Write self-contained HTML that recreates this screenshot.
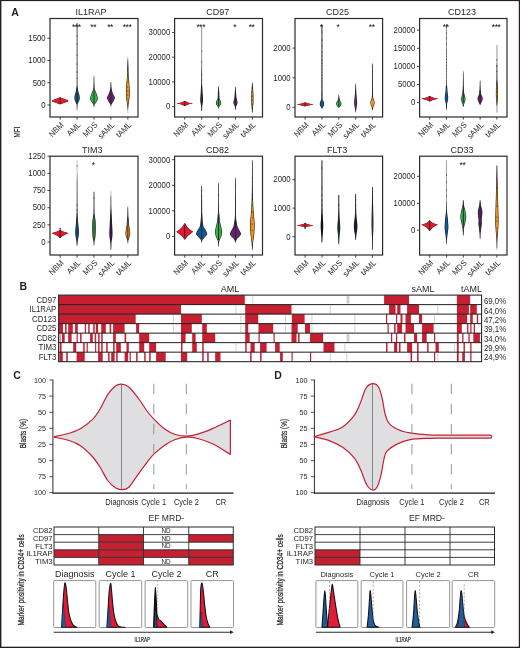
<!DOCTYPE html>
<html><head><meta charset="utf-8"><style>
html,body{margin:0;padding:0;background:#fff;}
svg{display:block;will-change:transform;}
text{font-family:"Liberation Sans", sans-serif;}
</style></head><body>
<svg width="520" height="648" viewBox="0 0 520 648">
<rect width="520" height="648" fill="#fff"/>
<text x="0" y="0" font-size="9.900" text-anchor="middle" font-weight="normal" fill="#231f20" transform="translate(90.90 14.70) scale(0.9091 1)" >IL1RAP</text>
<line x1="47.40" y1="105.00" x2="50.00" y2="105.00" stroke="#333" stroke-width="0.9"/>
<text x="0" y="0" font-size="8.424" text-anchor="end" font-weight="normal" fill="#231f20" transform="translate(45.70 107.80) scale(0.9259 1)" >0</text>
<line x1="47.40" y1="82.73" x2="50.00" y2="82.73" stroke="#333" stroke-width="0.9"/>
<text x="0" y="0" font-size="8.424" text-anchor="end" font-weight="normal" fill="#231f20" transform="translate(45.70 85.53) scale(0.9259 1)" >500</text>
<line x1="47.40" y1="60.47" x2="50.00" y2="60.47" stroke="#333" stroke-width="0.9"/>
<text x="0" y="0" font-size="8.424" text-anchor="end" font-weight="normal" fill="#231f20" transform="translate(45.70 63.27) scale(0.9259 1)" >1000</text>
<line x1="47.40" y1="38.20" x2="50.00" y2="38.20" stroke="#333" stroke-width="0.9"/>
<text x="0" y="0" font-size="8.424" text-anchor="end" font-weight="normal" fill="#231f20" transform="translate(45.70 41.00) scale(0.9259 1)" >1500</text>
<line x1="60.15" y1="117.00" x2="60.15" y2="119.60" stroke="#333" stroke-width="0.9"/>
<text x="0" y="0" font-size="8.208" text-anchor="end" fill="#231f20" transform="translate(64.15 125.50) rotate(-45) scale(0.9259 1)">NBM</text>
<line x1="77.08" y1="117.00" x2="77.08" y2="119.60" stroke="#333" stroke-width="0.9"/>
<text x="0" y="0" font-size="8.208" text-anchor="end" fill="#231f20" transform="translate(81.08 125.50) rotate(-45) scale(0.9259 1)">AML</text>
<line x1="94.00" y1="117.00" x2="94.00" y2="119.60" stroke="#333" stroke-width="0.9"/>
<text x="0" y="0" font-size="8.208" text-anchor="end" fill="#231f20" transform="translate(98.00 125.50) rotate(-45) scale(0.9259 1)">MDS</text>
<line x1="110.92" y1="117.00" x2="110.92" y2="119.60" stroke="#333" stroke-width="0.9"/>
<text x="0" y="0" font-size="8.208" text-anchor="end" fill="#231f20" transform="translate(114.92 125.50) rotate(-45) scale(0.9259 1)">sAML</text>
<line x1="127.85" y1="117.00" x2="127.85" y2="119.60" stroke="#333" stroke-width="0.9"/>
<text x="0" y="0" font-size="8.208" text-anchor="end" fill="#231f20" transform="translate(131.85 125.50) rotate(-45) scale(0.9259 1)">tAML</text>
<line x1="60.15" y1="97.40" x2="60.15" y2="104.20" stroke="#b4b4b4" stroke-width="0.8"/>
<path d="M60.20,97.40 L60.45,97.40 L68.05,100.30 L68.55,100.90 L68.05,101.50 L60.45,104.20 L60.20,104.20 L60.10,104.20 L59.85,104.20 L52.25,101.50 L51.75,100.90 L52.25,100.30 L59.85,97.40 L60.10,97.40Z" fill="#1c1c1c"/>
<path d="M60.20,97.40 L67.50,100.30 L68.00,100.90 L67.50,101.50 L60.20,104.20 L60.10,104.20 L52.80,101.50 L52.30,100.90 L52.80,100.30 L60.10,97.40Z" fill="#e5192d"/>
<line x1="60.15" y1="97.40" x2="60.15" y2="104.20" stroke="#262626" stroke-width="0.95"/>
<line x1="77.08" y1="23.00" x2="77.08" y2="110.80" stroke="#b4b4b4" stroke-width="0.8"/>
<path d="M77.13,23.00 L77.38,23.00 L77.38,29.80 L77.37,39.70 L77.37,51.19 L77.37,62.74 L77.37,72.85 L77.38,80.00 L77.38,83.85 L77.39,85.56 L77.40,85.81 L77.42,85.33 L77.44,84.83 L77.48,85.00 L77.52,85.74 L77.58,86.44 L77.65,87.12 L77.72,87.78 L77.80,88.40 L77.88,89.00 L77.96,89.56 L78.05,90.07 L78.15,90.56 L78.25,91.04 L78.36,91.51 L78.48,92.00 L78.62,92.51 L78.78,93.02 L78.94,93.53 L79.11,94.04 L79.26,94.53 L79.38,95.00 L79.47,95.45 L79.56,95.87 L79.62,96.28 L79.68,96.69 L79.71,97.09 L79.73,97.50 L79.73,97.92 L79.71,98.35 L79.68,98.78 L79.63,99.20 L79.56,99.61 L79.48,100.00 L79.36,100.36 L79.23,100.70 L79.07,101.03 L78.90,101.35 L78.73,101.67 L78.58,102.00 L78.42,102.33 L78.25,102.67 L78.09,103.00 L77.93,103.33 L77.79,103.67 L77.68,104.00 L77.59,104.30 L77.53,104.56 L77.48,104.83 L77.44,105.13 L77.41,105.50 L77.38,106.00 L77.35,106.69 L77.33,107.57 L77.31,108.53 L77.13,109.45 L77.03,109.45 L76.85,108.53 L76.83,107.57 L76.81,106.69 L76.78,106.00 L76.75,105.50 L76.71,105.13 L76.68,104.83 L76.63,104.56 L76.56,104.30 L76.48,104.00 L76.36,103.67 L76.22,103.33 L76.06,103.00 L75.90,102.67 L75.73,102.33 L75.58,102.00 L75.42,101.67 L75.25,101.35 L75.09,101.03 L74.93,100.70 L74.79,100.36 L74.68,100.00 L74.59,99.61 L74.52,99.20 L74.47,98.78 L74.44,98.35 L74.43,97.92 L74.43,97.50 L74.44,97.09 L74.48,96.69 L74.53,96.28 L74.60,95.87 L74.68,95.45 L74.78,95.00 L74.90,94.53 L75.05,94.04 L75.21,93.53 L75.38,93.02 L75.54,92.51 L75.68,92.00 L75.80,91.51 L75.91,91.04 L76.01,90.56 L76.10,90.07 L76.19,89.56 L76.28,89.00 L76.36,88.40 L76.44,87.78 L76.51,87.12 L76.57,86.44 L76.63,85.74 L76.68,85.00 L76.71,84.83 L76.74,85.33 L76.75,85.81 L76.76,85.56 L76.77,83.85 L76.78,80.00 L76.78,72.85 L76.78,62.74 L76.78,51.19 L76.78,39.70 L76.78,29.80 L76.78,23.00 L77.03,23.00Z" fill="#1c1c1c"/>
<path d="M77.13,87.78 L77.25,88.40 L77.33,89.00 L77.41,89.56 L77.50,90.07 L77.60,90.56 L77.70,91.04 L77.81,91.51 L77.93,92.00 L78.07,92.51 L78.23,93.02 L78.39,93.53 L78.56,94.04 L78.71,94.53 L78.83,95.00 L78.92,95.45 L79.01,95.87 L79.07,96.28 L79.13,96.69 L79.16,97.09 L79.18,97.50 L79.18,97.92 L79.16,98.35 L79.13,98.78 L79.08,99.20 L79.01,99.61 L78.93,100.00 L78.81,100.36 L78.68,100.70 L78.52,101.03 L78.35,101.35 L78.18,101.67 L78.03,102.00 L77.87,102.33 L77.70,102.67 L77.54,103.00 L77.38,103.33 L77.24,103.67 L77.13,104.00 L77.03,104.00 L76.91,103.67 L76.77,103.33 L76.61,103.00 L76.45,102.67 L76.28,102.33 L76.13,102.00 L75.97,101.67 L75.80,101.35 L75.64,101.03 L75.48,100.70 L75.34,100.36 L75.23,100.00 L75.14,99.61 L75.07,99.20 L75.02,98.78 L74.99,98.35 L74.98,97.92 L74.98,97.50 L74.99,97.09 L75.03,96.69 L75.08,96.28 L75.15,95.87 L75.23,95.45 L75.33,95.00 L75.45,94.53 L75.60,94.04 L75.76,93.53 L75.93,93.02 L76.09,92.51 L76.23,92.00 L76.35,91.51 L76.46,91.04 L76.56,90.56 L76.65,90.07 L76.74,89.56 L76.83,89.00 L76.91,88.40 L77.03,87.78Z" fill="#0e5896"/>
<line x1="77.08" y1="88.00" x2="77.08" y2="104.00" stroke="#262626" stroke-width="0.95"/>
<circle cx="77.08" cy="26.00" r="0.55" fill="#222"/>
<circle cx="77.08" cy="36.00" r="0.55" fill="#222"/>
<circle cx="77.08" cy="44.00" r="0.55" fill="#222"/>
<circle cx="77.08" cy="55.00" r="0.55" fill="#222"/>
<circle cx="77.08" cy="64.00" r="0.55" fill="#222"/>
<circle cx="77.08" cy="72.00" r="0.55" fill="#222"/>
<circle cx="77.08" cy="78.00" r="0.55" fill="#222"/>
<line x1="94.00" y1="75.20" x2="94.00" y2="107.70" stroke="#b4b4b4" stroke-width="0.8"/>
<path d="M94.05,76.33 L94.24,77.96 L94.28,79.85 L94.31,81.80 L94.35,83.59 L94.40,85.00 L94.45,86.02 L94.50,86.82 L94.56,87.46 L94.63,87.99 L94.71,88.49 L94.80,89.00 L94.91,89.50 L95.03,89.94 L95.16,90.34 L95.30,90.72 L95.44,91.10 L95.60,91.50 L95.77,91.91 L95.95,92.31 L96.14,92.72 L96.34,93.13 L96.52,93.55 L96.70,94.00 L96.87,94.48 L97.04,95.00 L97.21,95.53 L97.36,96.06 L97.49,96.55 L97.60,97.00 L97.68,97.39 L97.75,97.74 L97.80,98.06 L97.83,98.37 L97.83,98.68 L97.80,99.00 L97.74,99.33 L97.66,99.67 L97.54,100.00 L97.41,100.33 L97.26,100.67 L97.10,101.00 L96.92,101.34 L96.71,101.69 L96.48,102.03 L96.25,102.37 L96.02,102.70 L95.80,103.00 L95.59,103.26 L95.37,103.47 L95.15,103.67 L94.94,103.89 L94.76,104.16 L94.60,104.50 L94.47,104.97 L94.36,105.56 L94.28,106.19 L94.05,106.81 L93.95,106.81 L93.72,106.19 L93.64,105.56 L93.53,104.97 L93.40,104.50 L93.24,104.16 L93.06,103.89 L92.85,103.67 L92.63,103.47 L92.41,103.26 L92.20,103.00 L91.98,102.70 L91.75,102.37 L91.52,102.03 L91.29,101.69 L91.08,101.34 L90.90,101.00 L90.74,100.67 L90.59,100.33 L90.46,100.00 L90.34,99.67 L90.26,99.33 L90.20,99.00 L90.17,98.68 L90.17,98.37 L90.20,98.06 L90.25,97.74 L90.32,97.39 L90.40,97.00 L90.51,96.55 L90.64,96.06 L90.79,95.53 L90.96,95.00 L91.13,94.48 L91.30,94.00 L91.48,93.55 L91.66,93.13 L91.86,92.72 L92.05,92.31 L92.23,91.91 L92.40,91.50 L92.56,91.10 L92.70,90.72 L92.84,90.34 L92.97,89.94 L93.09,89.50 L93.20,89.00 L93.29,88.49 L93.37,87.99 L93.44,87.46 L93.50,86.82 L93.55,86.02 L93.60,85.00 L93.65,83.59 L93.69,81.80 L93.72,79.85 L93.76,77.96 L93.95,76.33Z" fill="#1c1c1c"/>
<path d="M94.05,87.99 L94.16,88.49 L94.25,89.00 L94.36,89.50 L94.48,89.94 L94.61,90.34 L94.75,90.72 L94.89,91.10 L95.05,91.50 L95.22,91.91 L95.40,92.31 L95.59,92.72 L95.79,93.13 L95.97,93.55 L96.15,94.00 L96.32,94.48 L96.49,95.00 L96.66,95.53 L96.81,96.06 L96.94,96.55 L97.05,97.00 L97.13,97.39 L97.20,97.74 L97.25,98.06 L97.28,98.37 L97.28,98.68 L97.25,99.00 L97.19,99.33 L97.11,99.67 L96.99,100.00 L96.86,100.33 L96.71,100.67 L96.55,101.00 L96.37,101.34 L96.16,101.69 L95.93,102.03 L95.70,102.37 L95.47,102.70 L95.25,103.00 L95.04,103.26 L94.82,103.47 L94.60,103.67 L94.39,103.89 L94.21,104.16 L94.05,104.50 L93.95,104.50 L93.79,104.16 L93.61,103.89 L93.40,103.67 L93.18,103.47 L92.96,103.26 L92.75,103.00 L92.53,102.70 L92.30,102.37 L92.07,102.03 L91.84,101.69 L91.63,101.34 L91.45,101.00 L91.29,100.67 L91.14,100.33 L91.01,100.00 L90.89,99.67 L90.81,99.33 L90.75,99.00 L90.72,98.68 L90.72,98.37 L90.75,98.06 L90.80,97.74 L90.87,97.39 L90.95,97.00 L91.06,96.55 L91.19,96.06 L91.34,95.53 L91.51,95.00 L91.68,94.48 L91.85,94.00 L92.03,93.55 L92.21,93.13 L92.41,92.72 L92.60,92.31 L92.78,91.91 L92.95,91.50 L93.11,91.10 L93.25,90.72 L93.39,90.34 L93.52,89.94 L93.64,89.50 L93.75,89.00 L93.84,88.49 L93.95,87.99Z" fill="#33b347"/>
<line x1="94.00" y1="90.00" x2="94.00" y2="104.00" stroke="#262626" stroke-width="0.95"/>
<line x1="110.92" y1="82.00" x2="110.92" y2="107.70" stroke="#b4b4b4" stroke-width="0.8"/>
<path d="M110.97,82.00 L111.15,82.57 L111.20,83.37 L111.25,84.31 L111.30,85.30 L111.36,86.22 L111.42,87.00 L111.48,87.62 L111.53,88.15 L111.59,88.62 L111.65,89.07 L111.73,89.52 L111.82,90.00 L111.94,90.51 L112.07,91.02 L112.22,91.53 L112.38,92.04 L112.55,92.53 L112.72,93.00 L112.91,93.45 L113.11,93.88 L113.32,94.30 L113.53,94.71 L113.74,95.11 L113.92,95.50 L114.11,95.88 L114.30,96.25 L114.49,96.61 L114.65,96.97 L114.77,97.33 L114.82,97.70 L114.81,98.08 L114.73,98.45 L114.62,98.83 L114.47,99.21 L114.30,99.60 L114.12,100.00 L113.93,100.41 L113.70,100.84 L113.46,101.27 L113.21,101.70 L112.96,102.11 L112.72,102.50 L112.49,102.85 L112.25,103.16 L112.01,103.46 L111.79,103.76 L111.59,104.10 L111.42,104.50 L111.30,105.00 L111.21,105.60 L110.97,106.22 L110.87,106.22 L110.64,105.60 L110.55,105.00 L110.42,104.50 L110.26,104.10 L110.06,103.76 L109.84,103.46 L109.60,103.16 L109.36,102.85 L109.12,102.50 L108.89,102.11 L108.64,101.70 L108.39,101.27 L108.14,100.84 L107.92,100.41 L107.72,100.00 L107.55,99.60 L107.38,99.21 L107.23,98.83 L107.11,98.45 L107.04,98.08 L107.02,97.70 L107.08,97.33 L107.19,96.97 L107.35,96.61 L107.54,96.25 L107.74,95.88 L107.92,95.50 L108.11,95.11 L108.31,94.71 L108.52,94.30 L108.73,93.88 L108.94,93.45 L109.12,93.00 L109.30,92.53 L109.46,92.04 L109.62,91.53 L109.77,91.02 L109.91,90.51 L110.02,90.00 L110.12,89.52 L110.20,89.07 L110.26,88.62 L110.32,88.15 L110.37,87.62 L110.42,87.00 L110.48,86.22 L110.54,85.30 L110.60,84.31 L110.65,83.37 L110.69,82.57 L110.87,82.00Z" fill="#1c1c1c"/>
<path d="M110.97,88.62 L111.10,89.07 L111.18,89.52 L111.27,90.00 L111.39,90.51 L111.52,91.02 L111.67,91.53 L111.83,92.04 L112.00,92.53 L112.17,93.00 L112.36,93.45 L112.56,93.88 L112.77,94.30 L112.98,94.71 L113.19,95.11 L113.37,95.50 L113.56,95.88 L113.75,96.25 L113.94,96.61 L114.10,96.97 L114.22,97.33 L114.27,97.70 L114.26,98.08 L114.18,98.45 L114.07,98.83 L113.92,99.21 L113.75,99.60 L113.57,100.00 L113.38,100.41 L113.15,100.84 L112.91,101.27 L112.66,101.70 L112.41,102.11 L112.17,102.50 L111.94,102.85 L111.70,103.16 L111.46,103.46 L111.24,103.76 L110.97,104.10 L110.87,104.10 L110.61,103.76 L110.39,103.46 L110.15,103.16 L109.91,102.85 L109.67,102.50 L109.44,102.11 L109.19,101.70 L108.94,101.27 L108.69,100.84 L108.47,100.41 L108.27,100.00 L108.10,99.60 L107.93,99.21 L107.78,98.83 L107.66,98.45 L107.59,98.08 L107.57,97.70 L107.63,97.33 L107.74,96.97 L107.90,96.61 L108.09,96.25 L108.29,95.88 L108.47,95.50 L108.66,95.11 L108.86,94.71 L109.07,94.30 L109.28,93.88 L109.49,93.45 L109.67,93.00 L109.85,92.53 L110.01,92.04 L110.17,91.53 L110.32,91.02 L110.46,90.51 L110.57,90.00 L110.67,89.52 L110.75,89.07 L110.87,88.62Z" fill="#652270"/>
<line x1="110.92" y1="90.00" x2="110.92" y2="104.00" stroke="#262626" stroke-width="0.95"/>
<line x1="127.85" y1="56.80" x2="127.85" y2="113.00" stroke="#b4b4b4" stroke-width="0.8"/>
<path d="M127.90,59.05 L128.13,60.59 L128.21,62.29 L128.28,64.02 L128.35,65.70 L128.40,67.42 L128.45,69.27 L128.49,71.18 L128.54,73.03 L128.59,74.73 L128.65,76.20 L128.72,77.39 L128.80,78.36 L128.89,79.18 L128.98,79.93 L129.07,80.68 L129.15,81.50 L129.22,82.37 L129.29,83.24 L129.36,84.10 L129.43,84.96 L129.49,85.83 L129.55,86.70 L129.60,87.58 L129.64,88.46 L129.68,89.35 L129.72,90.24 L129.74,91.12 L129.75,92.00 L129.74,92.87 L129.73,93.74 L129.70,94.60 L129.66,95.46 L129.61,96.33 L129.55,97.20 L129.46,98.09 L129.35,99.00 L129.22,99.91 L129.09,100.81 L128.96,101.68 L128.85,102.50 L128.74,103.24 L128.63,103.90 L128.52,104.54 L128.42,105.19 L128.33,105.89 L128.25,106.70 L128.18,107.70 L128.11,108.88 L127.90,110.11 L127.80,110.11 L127.58,108.88 L127.52,107.70 L127.45,106.70 L127.36,105.89 L127.27,105.19 L127.17,104.54 L127.06,103.90 L126.96,103.24 L126.85,102.50 L126.73,101.68 L126.60,100.81 L126.47,99.91 L126.35,99.00 L126.24,98.09 L126.15,97.20 L126.08,96.33 L126.03,95.46 L125.99,94.60 L125.96,93.74 L125.95,92.87 L125.95,92.00 L125.95,91.12 L125.98,90.24 L126.01,89.35 L126.05,88.46 L126.10,87.58 L126.15,86.70 L126.20,85.83 L126.26,84.96 L126.33,84.10 L126.40,83.24 L126.47,82.37 L126.55,81.50 L126.63,80.68 L126.71,79.93 L126.80,79.18 L126.89,78.36 L126.97,77.39 L127.05,76.20 L127.11,74.73 L127.16,73.03 L127.20,71.18 L127.25,69.27 L127.29,67.42 L127.35,65.70 L127.41,64.02 L127.49,62.29 L127.56,60.59 L127.80,59.05Z" fill="#1c1c1c"/>
<path d="M127.90,71.18 L127.99,73.03 L128.04,74.73 L128.10,76.20 L128.17,77.39 L128.25,78.36 L128.34,79.18 L128.43,79.93 L128.52,80.68 L128.60,81.50 L128.67,82.37 L128.74,83.24 L128.81,84.10 L128.88,84.96 L128.94,85.83 L129.00,86.70 L129.05,87.58 L129.09,88.46 L129.13,89.35 L129.17,90.24 L129.19,91.12 L129.20,92.00 L129.19,92.87 L129.18,93.74 L129.15,94.60 L129.11,95.46 L129.06,96.33 L129.00,97.20 L128.91,98.09 L128.80,99.00 L128.67,99.91 L128.54,100.81 L128.41,101.68 L128.30,102.50 L128.19,103.24 L128.08,103.90 L127.97,104.54 L127.90,105.19 L127.80,105.19 L127.72,104.54 L127.61,103.90 L127.51,103.24 L127.40,102.50 L127.28,101.68 L127.15,100.81 L127.02,99.91 L126.90,99.00 L126.79,98.09 L126.70,97.20 L126.63,96.33 L126.58,95.46 L126.54,94.60 L126.51,93.74 L126.50,92.87 L126.50,92.00 L126.50,91.12 L126.53,90.24 L126.56,89.35 L126.60,88.46 L126.65,87.58 L126.70,86.70 L126.75,85.83 L126.81,84.96 L126.88,84.10 L126.95,83.24 L127.02,82.37 L127.10,81.50 L127.18,80.68 L127.26,79.93 L127.35,79.18 L127.44,78.36 L127.52,77.39 L127.60,76.20 L127.66,74.73 L127.71,73.03 L127.80,71.18Z" fill="#f59114"/>
<circle cx="127.85" cy="68.00" r="0.55" fill="#222"/>
<circle cx="127.85" cy="75.00" r="0.55" fill="#222"/>
<circle cx="127.85" cy="82.00" r="0.55" fill="#222"/>
<circle cx="127.85" cy="87.00" r="0.55" fill="#222"/>
<circle cx="127.85" cy="91.00" r="0.55" fill="#222"/>
<circle cx="127.85" cy="95.00" r="0.55" fill="#222"/>
<circle cx="127.85" cy="99.00" r="0.55" fill="#222"/>
<text x="76.23" y="30.00" font-size="8.6" text-anchor="middle" font-weight="normal" fill="#111" letter-spacing="-0.5">***</text>
<text x="93.15" y="30.00" font-size="8.6" text-anchor="middle" font-weight="normal" fill="#111" letter-spacing="-0.5">**</text>
<text x="110.07" y="30.00" font-size="8.6" text-anchor="middle" font-weight="normal" fill="#111" letter-spacing="-0.5">**</text>
<text x="127.00" y="30.00" font-size="8.6" text-anchor="middle" font-weight="normal" fill="#111" letter-spacing="-0.5">***</text>
<rect x="50.00" y="18.50" width="88.00" height="98.50" fill="none" stroke="#2b2b2b" stroke-width="1.2"/>
<text x="0" y="0" font-size="9.900" text-anchor="middle" font-weight="normal" fill="#231f20" transform="translate(217.80 14.70) scale(0.9091 1)" >CD97</text>
<line x1="172.00" y1="106.50" x2="174.60" y2="106.50" stroke="#333" stroke-width="0.9"/>
<text x="0" y="0" font-size="8.424" text-anchor="end" font-weight="normal" fill="#231f20" transform="translate(170.30 109.30) scale(0.9259 1)" >0</text>
<line x1="172.00" y1="81.83" x2="174.60" y2="81.83" stroke="#333" stroke-width="0.9"/>
<text x="0" y="0" font-size="8.424" text-anchor="end" font-weight="normal" fill="#231f20" transform="translate(170.30 84.63) scale(0.9259 1)" >10000</text>
<line x1="172.00" y1="57.17" x2="174.60" y2="57.17" stroke="#333" stroke-width="0.9"/>
<text x="0" y="0" font-size="8.424" text-anchor="end" font-weight="normal" fill="#231f20" transform="translate(170.30 59.97) scale(0.9259 1)" >20000</text>
<line x1="172.00" y1="32.50" x2="174.60" y2="32.50" stroke="#333" stroke-width="0.9"/>
<text x="0" y="0" font-size="8.424" text-anchor="end" font-weight="normal" fill="#231f20" transform="translate(170.30 35.30) scale(0.9259 1)" >30000</text>
<line x1="184.74" y1="117.00" x2="184.74" y2="119.60" stroke="#333" stroke-width="0.9"/>
<text x="0" y="0" font-size="8.208" text-anchor="end" fill="#231f20" transform="translate(188.74 125.50) rotate(-45) scale(0.9259 1)">NBM</text>
<line x1="201.65" y1="117.00" x2="201.65" y2="119.60" stroke="#333" stroke-width="0.9"/>
<text x="0" y="0" font-size="8.208" text-anchor="end" fill="#231f20" transform="translate(205.65 125.50) rotate(-45) scale(0.9259 1)">AML</text>
<line x1="218.55" y1="117.00" x2="218.55" y2="119.60" stroke="#333" stroke-width="0.9"/>
<text x="0" y="0" font-size="8.208" text-anchor="end" fill="#231f20" transform="translate(222.55 125.50) rotate(-45) scale(0.9259 1)">MDS</text>
<line x1="235.45" y1="117.00" x2="235.45" y2="119.60" stroke="#333" stroke-width="0.9"/>
<text x="0" y="0" font-size="8.208" text-anchor="end" fill="#231f20" transform="translate(239.45 125.50) rotate(-45) scale(0.9259 1)">sAML</text>
<line x1="252.36" y1="117.00" x2="252.36" y2="119.60" stroke="#333" stroke-width="0.9"/>
<text x="0" y="0" font-size="8.208" text-anchor="end" fill="#231f20" transform="translate(256.36 125.50) rotate(-45) scale(0.9259 1)">tAML</text>
<line x1="184.74" y1="101.00" x2="184.74" y2="106.00" stroke="#b4b4b4" stroke-width="0.8"/>
<path d="M184.79,101.00 L185.04,101.00 L185.28,101.11 L185.60,101.26 L185.99,101.44 L186.41,101.64 L186.83,101.83 L187.24,102.00 L187.63,102.16 L188.03,102.32 L188.43,102.47 L188.85,102.63 L189.28,102.77 L189.74,102.90 L190.31,103.02 L190.99,103.12 L191.70,103.22 L192.32,103.31 L192.77,103.40 L192.94,103.50 L192.77,103.60 L192.32,103.69 L191.70,103.78 L190.99,103.88 L190.31,103.98 L189.74,104.10 L189.28,104.23 L188.85,104.37 L188.43,104.52 L188.03,104.68 L187.63,104.84 L187.24,105.00 L186.83,105.17 L186.41,105.36 L185.99,105.56 L185.60,105.74 L185.28,105.89 L185.04,106.00 L184.79,106.00 L184.69,106.00 L184.44,106.00 L184.21,105.89 L183.88,105.74 L183.50,105.56 L183.08,105.36 L182.65,105.17 L182.24,105.00 L181.85,104.84 L181.46,104.68 L181.05,104.52 L180.64,104.37 L180.20,104.23 L179.74,104.10 L179.18,103.98 L178.49,103.88 L177.79,103.78 L177.16,103.69 L176.71,103.60 L176.54,103.50 L176.71,103.40 L177.16,103.31 L177.79,103.22 L178.49,103.12 L179.18,103.02 L179.74,102.90 L180.20,102.77 L180.64,102.63 L181.05,102.47 L181.46,102.32 L181.85,102.16 L182.24,102.00 L182.65,101.83 L183.08,101.64 L183.50,101.44 L183.88,101.26 L184.21,101.11 L184.44,101.00 L184.69,101.00Z" fill="#1c1c1c"/>
<path d="M184.79,101.11 L185.05,101.26 L185.44,101.44 L185.86,101.64 L186.28,101.83 L186.69,102.00 L187.08,102.16 L187.48,102.32 L187.88,102.47 L188.30,102.63 L188.73,102.77 L189.19,102.90 L189.76,103.02 L190.44,103.12 L191.15,103.22 L191.77,103.31 L192.22,103.40 L192.39,103.50 L192.22,103.60 L191.77,103.69 L191.15,103.78 L190.44,103.88 L189.76,103.98 L189.19,104.10 L188.73,104.23 L188.30,104.37 L187.88,104.52 L187.48,104.68 L187.08,104.84 L186.69,105.00 L186.28,105.17 L185.86,105.36 L185.44,105.56 L185.05,105.74 L184.79,105.89 L184.69,105.89 L184.43,105.74 L184.05,105.56 L183.63,105.36 L183.20,105.17 L182.79,105.00 L182.40,104.84 L182.01,104.68 L181.60,104.52 L181.19,104.37 L180.75,104.23 L180.29,104.10 L179.73,103.98 L179.04,103.88 L178.34,103.78 L177.71,103.69 L177.26,103.60 L177.09,103.50 L177.26,103.40 L177.71,103.31 L178.34,103.22 L179.04,103.12 L179.73,103.02 L180.29,102.90 L180.75,102.77 L181.19,102.63 L181.60,102.47 L182.01,102.32 L182.40,102.16 L182.79,102.00 L183.20,101.83 L183.63,101.64 L184.05,101.44 L184.43,101.26 L184.69,101.11Z" fill="#e5192d"/>
<line x1="184.74" y1="101.00" x2="184.74" y2="106.00" stroke="#262626" stroke-width="0.95"/>
<line x1="201.65" y1="27.00" x2="201.65" y2="111.00" stroke="#777" stroke-width="0.8"/>
<path d="M201.70,63.85 L201.87,73.27 L201.90,80.00 L201.93,83.72 L201.98,85.48 L202.03,85.94 L202.08,85.74 L202.14,85.54 L202.20,86.00 L202.25,87.01 L202.31,88.04 L202.37,89.06 L202.43,90.07 L202.49,91.06 L202.55,92.00 L202.61,92.91 L202.67,93.81 L202.74,94.69 L202.80,95.52 L202.85,96.29 L202.90,97.00 L202.93,97.62 L202.96,98.15 L202.98,98.62 L203.00,99.07 L203.00,99.52 L203.00,100.00 L202.98,100.50 L202.95,101.00 L202.91,101.50 L202.86,102.00 L202.81,102.50 L202.75,103.00 L202.67,103.48 L202.58,103.93 L202.48,104.38 L202.38,104.85 L202.28,105.38 L202.20,106.00 L202.12,106.78 L202.05,107.70 L201.99,108.69 L201.93,109.63 L201.88,110.43 L201.70,111.00 L201.60,111.00 L201.41,110.43 L201.36,109.63 L201.31,108.69 L201.24,107.70 L201.17,106.78 L201.10,106.00 L201.01,105.38 L200.92,104.85 L200.81,104.38 L200.71,103.93 L200.62,103.48 L200.55,103.00 L200.48,102.50 L200.43,102.00 L200.38,101.50 L200.34,101.00 L200.31,100.50 L200.30,100.00 L200.29,99.52 L200.29,99.07 L200.31,98.62 L200.33,98.15 L200.36,97.62 L200.40,97.00 L200.44,96.29 L200.49,95.52 L200.56,94.69 L200.62,93.81 L200.68,92.91 L200.75,92.00 L200.81,91.06 L200.86,90.07 L200.92,89.06 L200.98,88.04 L201.04,87.01 L201.10,86.00 L201.15,85.54 L201.21,85.74 L201.26,85.94 L201.32,85.48 L201.36,83.72 L201.40,80.00 L201.42,73.27 L201.60,63.85Z" fill="#1c1c1c"/>
<path d="M201.70,88.04 L201.82,89.06 L201.88,90.07 L201.94,91.06 L202.00,92.00 L202.06,92.91 L202.12,93.81 L202.19,94.69 L202.25,95.52 L202.30,96.29 L202.35,97.00 L202.38,97.62 L202.41,98.15 L202.43,98.62 L202.45,99.07 L202.45,99.52 L202.45,100.00 L202.43,100.50 L202.40,101.00 L202.36,101.50 L202.31,102.00 L202.26,102.50 L202.20,103.00 L202.12,103.48 L202.03,103.93 L201.93,104.38 L201.83,104.85 L201.70,105.38 L201.60,105.38 L201.47,104.85 L201.36,104.38 L201.26,103.93 L201.17,103.48 L201.10,103.00 L201.03,102.50 L200.98,102.00 L200.93,101.50 L200.89,101.00 L200.86,100.50 L200.85,100.00 L200.84,99.52 L200.84,99.07 L200.86,98.62 L200.88,98.15 L200.91,97.62 L200.95,97.00 L200.99,96.29 L201.04,95.52 L201.11,94.69 L201.17,93.81 L201.23,92.91 L201.30,92.00 L201.36,91.06 L201.41,90.07 L201.47,89.06 L201.60,88.04Z" fill="#102a4c"/>
<circle cx="201.65" cy="51.00" r="0.55" fill="#222"/>
<circle cx="201.65" cy="62.00" r="0.55" fill="#222"/>
<circle cx="201.65" cy="75.00" r="0.55" fill="#222"/>
<circle cx="201.65" cy="80.00" r="0.55" fill="#222"/>
<circle cx="201.65" cy="84.00" r="0.55" fill="#222"/>
<line x1="218.55" y1="86.00" x2="218.55" y2="108.50" stroke="#b4b4b4" stroke-width="0.8"/>
<path d="M218.60,86.00 L218.78,86.44 L218.83,87.04 L218.88,87.75 L218.94,88.52 L219.00,89.29 L219.05,90.00 L219.10,90.68 L219.14,91.37 L219.19,92.06 L219.23,92.74 L219.27,93.39 L219.30,94.00 L219.31,94.56 L219.31,95.09 L219.31,95.59 L219.31,96.07 L219.32,96.54 L219.35,97.00 L219.40,97.46 L219.47,97.91 L219.55,98.34 L219.64,98.76 L219.74,99.15 L219.85,99.50 L219.98,99.80 L220.14,100.06 L220.31,100.29 L220.47,100.51 L220.62,100.74 L220.75,101.00 L220.85,101.29 L220.95,101.60 L221.03,101.92 L221.09,102.25 L221.14,102.58 L221.15,102.90 L221.14,103.22 L221.11,103.55 L221.05,103.88 L220.97,104.20 L220.87,104.51 L220.75,104.80 L220.59,105.07 L220.39,105.30 L220.18,105.53 L219.95,105.76 L219.74,106.01 L219.55,106.30 L219.38,106.65 L219.22,107.06 L219.08,107.49 L218.94,107.90 L218.83,108.25 L218.60,108.50 L218.50,108.50 L218.27,108.25 L218.16,107.90 L218.03,107.49 L217.88,107.06 L217.72,106.65 L217.55,106.30 L217.36,106.01 L217.15,105.76 L216.93,105.53 L216.71,105.30 L216.51,105.07 L216.35,104.80 L216.23,104.51 L216.13,104.20 L216.05,103.88 L215.99,103.55 L215.96,103.22 L215.95,102.90 L215.96,102.58 L216.01,102.25 L216.07,101.92 L216.15,101.60 L216.25,101.29 L216.35,101.00 L216.48,100.74 L216.63,100.51 L216.79,100.29 L216.96,100.06 L217.12,99.80 L217.25,99.50 L217.36,99.15 L217.46,98.76 L217.55,98.34 L217.63,97.91 L217.70,97.46 L217.75,97.00 L217.78,96.54 L217.79,96.07 L217.79,95.59 L217.79,95.09 L217.79,94.56 L217.80,94.00 L217.83,93.39 L217.87,92.74 L217.91,92.06 L217.96,91.37 L218.00,90.68 L218.05,90.00 L218.10,89.29 L218.16,88.52 L218.22,87.75 L218.27,87.04 L218.32,86.44 L218.50,86.00Z" fill="#1c1c1c"/>
<path d="M218.60,92.06 L218.68,92.74 L218.72,93.39 L218.75,94.00 L218.76,94.56 L218.76,95.09 L218.76,95.59 L218.76,96.07 L218.77,96.54 L218.80,97.00 L218.85,97.46 L218.92,97.91 L219.00,98.34 L219.09,98.76 L219.19,99.15 L219.30,99.50 L219.43,99.80 L219.59,100.06 L219.76,100.29 L219.92,100.51 L220.07,100.74 L220.20,101.00 L220.30,101.29 L220.40,101.60 L220.48,101.92 L220.54,102.25 L220.59,102.58 L220.60,102.90 L220.59,103.22 L220.56,103.55 L220.50,103.88 L220.42,104.20 L220.32,104.51 L220.20,104.80 L220.04,105.07 L219.84,105.30 L219.62,105.53 L219.40,105.76 L219.19,106.01 L219.00,106.30 L218.83,106.65 L218.67,107.06 L218.60,107.49 L218.50,107.49 L218.43,107.06 L218.27,106.65 L218.10,106.30 L217.91,106.01 L217.70,105.76 L217.48,105.53 L217.26,105.30 L217.06,105.07 L216.90,104.80 L216.78,104.51 L216.68,104.20 L216.60,103.88 L216.54,103.55 L216.51,103.22 L216.50,102.90 L216.51,102.58 L216.56,102.25 L216.62,101.92 L216.70,101.60 L216.80,101.29 L216.90,101.00 L217.03,100.74 L217.18,100.51 L217.34,100.29 L217.51,100.06 L217.67,99.80 L217.80,99.50 L217.91,99.15 L218.01,98.76 L218.10,98.34 L218.18,97.91 L218.25,97.46 L218.30,97.00 L218.33,96.54 L218.34,96.07 L218.34,95.59 L218.34,95.09 L218.34,94.56 L218.35,94.00 L218.38,93.39 L218.42,92.74 L218.50,92.06Z" fill="#33b347"/>
<line x1="218.55" y1="92.00" x2="218.55" y2="106.00" stroke="#262626" stroke-width="0.95"/>
<line x1="235.45" y1="86.70" x2="235.45" y2="110.00" stroke="#b4b4b4" stroke-width="0.8"/>
<path d="M235.50,86.70 L235.69,87.17 L235.73,87.83 L235.79,88.60 L235.84,89.43 L235.90,90.25 L235.95,91.00 L236.00,91.70 L236.05,92.39 L236.10,93.08 L236.15,93.75 L236.20,94.39 L236.25,95.00 L236.30,95.56 L236.34,96.09 L236.39,96.59 L236.43,97.07 L236.49,97.54 L236.55,98.00 L236.64,98.45 L236.74,98.89 L236.85,99.31 L236.96,99.71 L237.06,100.11 L237.15,100.50 L237.24,100.88 L237.34,101.24 L237.42,101.59 L237.49,101.93 L237.54,102.27 L237.55,102.60 L237.53,102.93 L237.47,103.24 L237.39,103.56 L237.29,103.87 L237.18,104.18 L237.05,104.50 L236.91,104.81 L236.74,105.10 L236.55,105.40 L236.36,105.72 L236.19,106.08 L236.05,106.50 L235.95,107.04 L235.86,107.69 L235.79,108.38 L235.74,109.04 L235.69,109.60 L235.50,110.00 L235.40,110.00 L235.22,109.60 L235.17,109.04 L235.12,108.38 L235.05,107.69 L234.96,107.04 L234.85,106.50 L234.72,106.08 L234.55,105.72 L234.36,105.40 L234.17,105.10 L234.00,104.81 L233.85,104.50 L233.73,104.18 L233.62,103.87 L233.52,103.56 L233.44,103.24 L233.38,102.93 L233.35,102.60 L233.37,102.27 L233.41,101.93 L233.49,101.59 L233.57,101.24 L233.67,100.88 L233.75,100.50 L233.85,100.11 L233.95,99.71 L234.06,99.31 L234.17,98.89 L234.27,98.45 L234.35,98.00 L234.42,97.54 L234.48,97.07 L234.52,96.59 L234.56,96.09 L234.61,95.56 L234.65,95.00 L234.70,94.39 L234.75,93.75 L234.80,93.08 L234.85,92.39 L234.90,91.70 L234.95,91.00 L235.01,90.25 L235.06,89.43 L235.12,88.60 L235.18,87.83 L235.22,87.17 L235.40,86.70Z" fill="#1c1c1c"/>
<path d="M235.50,93.08 L235.60,93.75 L235.65,94.39 L235.70,95.00 L235.75,95.56 L235.79,96.09 L235.84,96.59 L235.88,97.07 L235.94,97.54 L236.00,98.00 L236.09,98.45 L236.19,98.89 L236.30,99.31 L236.41,99.71 L236.51,100.11 L236.60,100.50 L236.69,100.88 L236.79,101.24 L236.87,101.59 L236.94,101.93 L236.99,102.27 L237.00,102.60 L236.98,102.93 L236.92,103.24 L236.84,103.56 L236.74,103.87 L236.63,104.18 L236.50,104.50 L236.36,104.81 L236.19,105.10 L236.00,105.40 L235.81,105.72 L235.64,106.08 L235.50,106.50 L235.40,106.50 L235.27,106.08 L235.10,105.72 L234.91,105.40 L234.72,105.10 L234.55,104.81 L234.40,104.50 L234.28,104.18 L234.17,103.87 L234.07,103.56 L233.99,103.24 L233.93,102.93 L233.90,102.60 L233.92,102.27 L233.96,101.93 L234.04,101.59 L234.12,101.24 L234.22,100.88 L234.30,100.50 L234.40,100.11 L234.50,99.71 L234.61,99.31 L234.72,98.89 L234.82,98.45 L234.90,98.00 L234.97,97.54 L235.03,97.07 L235.07,96.59 L235.11,96.09 L235.16,95.56 L235.20,95.00 L235.25,94.39 L235.30,93.75 L235.40,93.08Z" fill="#652270"/>
<line x1="235.45" y1="92.00" x2="235.45" y2="106.00" stroke="#262626" stroke-width="0.95"/>
<line x1="252.36" y1="82.50" x2="252.36" y2="112.70" stroke="#b4b4b4" stroke-width="0.8"/>
<path d="M252.41,82.50 L252.60,83.10 L252.66,83.94 L252.73,84.94 L252.81,86.00 L252.89,87.05 L252.96,88.00 L253.03,88.86 L253.10,89.70 L253.17,90.53 L253.24,91.35 L253.31,92.17 L253.36,93.00 L253.40,93.83 L253.43,94.67 L253.46,95.50 L253.48,96.33 L253.50,97.17 L253.51,98.00 L253.51,98.84 L253.52,99.70 L253.52,100.56 L253.51,101.41 L253.49,102.22 L253.46,103.00 L253.41,103.70 L253.35,104.34 L253.29,104.96 L253.21,105.58 L253.13,106.25 L253.06,107.00 L252.97,107.92 L252.88,108.99 L252.78,110.10 L252.69,111.16 L252.61,112.06 L252.41,112.70 L252.31,112.70 L252.10,112.06 L252.02,111.16 L251.93,110.10 L251.84,108.99 L251.74,107.92 L251.66,107.00 L251.58,106.25 L251.50,105.58 L251.43,104.96 L251.36,104.34 L251.30,103.70 L251.26,103.00 L251.23,102.22 L251.21,101.41 L251.20,100.56 L251.20,99.70 L251.20,98.84 L251.21,98.00 L251.22,97.17 L251.23,96.33 L251.25,95.50 L251.28,94.67 L251.32,93.83 L251.36,93.00 L251.41,92.17 L251.47,91.35 L251.54,90.53 L251.62,89.70 L251.69,88.86 L251.76,88.00 L251.83,87.05 L251.91,86.00 L251.98,84.94 L252.05,83.94 L252.11,83.10 L252.31,82.50Z" fill="#1c1c1c"/>
<path d="M252.41,88.86 L252.55,89.70 L252.62,90.53 L252.69,91.35 L252.76,92.17 L252.81,93.00 L252.85,93.83 L252.88,94.67 L252.91,95.50 L252.93,96.33 L252.95,97.17 L252.96,98.00 L252.96,98.84 L252.97,99.70 L252.97,100.56 L252.96,101.41 L252.94,102.22 L252.91,103.00 L252.86,103.70 L252.80,104.34 L252.74,104.96 L252.66,105.58 L252.58,106.25 L252.51,107.00 L252.41,107.92 L252.31,107.92 L252.21,107.00 L252.13,106.25 L252.05,105.58 L251.98,104.96 L251.91,104.34 L251.85,103.70 L251.81,103.00 L251.78,102.22 L251.76,101.41 L251.75,100.56 L251.75,99.70 L251.75,98.84 L251.76,98.00 L251.77,97.17 L251.78,96.33 L251.80,95.50 L251.83,94.67 L251.87,93.83 L251.91,93.00 L251.96,92.17 L252.02,91.35 L252.09,90.53 L252.17,89.70 L252.31,88.86Z" fill="#f59114"/>
<circle cx="252.36" cy="88.00" r="0.55" fill="#222"/>
<circle cx="252.36" cy="92.00" r="0.55" fill="#222"/>
<circle cx="252.36" cy="96.00" r="0.55" fill="#222"/>
<circle cx="252.36" cy="100.00" r="0.55" fill="#222"/>
<circle cx="252.36" cy="104.00" r="0.55" fill="#222"/>
<circle cx="252.36" cy="107.00" r="0.55" fill="#222"/>
<text x="200.80" y="30.10" font-size="8.6" text-anchor="middle" font-weight="normal" fill="#111" letter-spacing="-0.5">***</text>
<text x="234.60" y="30.10" font-size="8.6" text-anchor="middle" font-weight="normal" fill="#111" letter-spacing="-0.5">*</text>
<text x="251.51" y="30.10" font-size="8.6" text-anchor="middle" font-weight="normal" fill="#111" letter-spacing="-0.5">**</text>
<rect x="174.60" y="18.50" width="87.90" height="98.50" fill="none" stroke="#2b2b2b" stroke-width="1.2"/>
<text x="0" y="0" font-size="9.900" text-anchor="middle" font-weight="normal" fill="#231f20" transform="translate(337.60 14.70) scale(0.9091 1)" >CD25</text>
<line x1="292.40" y1="107.40" x2="295.00" y2="107.40" stroke="#333" stroke-width="0.9"/>
<text x="0" y="0" font-size="8.424" text-anchor="end" font-weight="normal" fill="#231f20" transform="translate(290.70 110.20) scale(0.9259 1)" >0</text>
<line x1="292.40" y1="77.75" x2="295.00" y2="77.75" stroke="#333" stroke-width="0.9"/>
<text x="0" y="0" font-size="8.424" text-anchor="end" font-weight="normal" fill="#231f20" transform="translate(290.70 80.55) scale(0.9259 1)" >1000</text>
<line x1="292.40" y1="48.10" x2="295.00" y2="48.10" stroke="#333" stroke-width="0.9"/>
<text x="0" y="0" font-size="8.424" text-anchor="end" font-weight="normal" fill="#231f20" transform="translate(290.70 50.90) scale(0.9259 1)" >2000</text>
<line x1="305.11" y1="117.00" x2="305.11" y2="119.60" stroke="#333" stroke-width="0.9"/>
<text x="0" y="0" font-size="8.208" text-anchor="end" fill="#231f20" transform="translate(309.11 125.50) rotate(-45) scale(0.9259 1)">NBM</text>
<line x1="321.95" y1="117.00" x2="321.95" y2="119.60" stroke="#333" stroke-width="0.9"/>
<text x="0" y="0" font-size="8.208" text-anchor="end" fill="#231f20" transform="translate(325.95 125.50) rotate(-45) scale(0.9259 1)">AML</text>
<line x1="338.80" y1="117.00" x2="338.80" y2="119.60" stroke="#333" stroke-width="0.9"/>
<text x="0" y="0" font-size="8.208" text-anchor="end" fill="#231f20" transform="translate(342.80 125.50) rotate(-45) scale(0.9259 1)">MDS</text>
<line x1="355.65" y1="117.00" x2="355.65" y2="119.60" stroke="#333" stroke-width="0.9"/>
<text x="0" y="0" font-size="8.208" text-anchor="end" fill="#231f20" transform="translate(359.65 125.50) rotate(-45) scale(0.9259 1)">sAML</text>
<line x1="372.49" y1="117.00" x2="372.49" y2="119.60" stroke="#333" stroke-width="0.9"/>
<text x="0" y="0" font-size="8.208" text-anchor="end" fill="#231f20" transform="translate(376.49 125.50) rotate(-45) scale(0.9259 1)">tAML</text>
<line x1="305.11" y1="102.60" x2="305.11" y2="106.30" stroke="#b4b4b4" stroke-width="0.8"/>
<path d="M305.16,102.60 L305.61,102.60 L305.98,102.71 L306.49,102.86 L307.10,103.04 L307.77,103.24 L308.45,103.43 L309.11,103.60 L309.85,103.76 L310.73,103.91 L311.63,104.06 L312.43,104.20 L312.99,104.35 L313.21,104.50 L312.99,104.65 L312.43,104.80 L311.63,104.95 L310.73,105.10 L309.85,105.25 L309.11,105.40 L308.45,105.56 L307.77,105.73 L307.10,105.91 L306.49,106.07 L305.98,106.20 L305.61,106.30 L305.16,106.30 L305.06,106.30 L304.61,106.30 L304.23,106.20 L303.72,106.07 L303.11,105.91 L302.45,105.73 L301.77,105.56 L301.11,105.40 L300.36,105.25 L299.48,105.10 L298.58,104.95 L297.79,104.80 L297.22,104.65 L297.01,104.50 L297.22,104.35 L297.79,104.20 L298.58,104.06 L299.48,103.91 L300.36,103.76 L301.11,103.60 L301.77,103.43 L302.45,103.24 L303.11,103.04 L303.72,102.86 L304.23,102.71 L304.61,102.60 L305.06,102.60Z" fill="#1c1c1c"/>
<path d="M305.16,102.60 L305.43,102.71 L305.94,102.86 L306.55,103.04 L307.22,103.24 L307.90,103.43 L308.56,103.60 L309.30,103.76 L310.18,103.91 L311.08,104.06 L311.88,104.20 L312.44,104.35 L312.66,104.50 L312.44,104.65 L311.88,104.80 L311.08,104.95 L310.18,105.10 L309.30,105.25 L308.56,105.40 L307.90,105.56 L307.22,105.73 L306.55,105.91 L305.94,106.07 L305.43,106.20 L305.16,106.30 L305.06,106.30 L304.78,106.20 L304.27,106.07 L303.66,105.91 L303.00,105.73 L302.32,105.56 L301.66,105.40 L300.91,105.25 L300.03,105.10 L299.13,104.95 L298.34,104.80 L297.77,104.65 L297.56,104.50 L297.77,104.35 L298.34,104.20 L299.13,104.06 L300.03,103.91 L300.91,103.76 L301.66,103.60 L302.32,103.43 L303.00,103.24 L303.66,103.04 L304.27,102.86 L304.78,102.71 L305.06,102.60Z" fill="#e5192d"/>
<line x1="305.11" y1="102.60" x2="305.11" y2="106.30" stroke="#262626" stroke-width="0.95"/>
<line x1="321.95" y1="25.00" x2="321.95" y2="108.50" stroke="#666" stroke-width="0.8"/>
<path d="M322.00,25.00 L322.25,25.00 L322.25,31.41 L322.25,40.63 L322.24,51.38 L322.24,62.37 L322.24,72.34 L322.25,80.00 L322.27,85.31 L322.28,89.30 L322.29,92.25 L322.32,94.48 L322.37,96.30 L322.45,98.00 L322.58,99.38 L322.74,100.15 L322.93,100.50 L323.12,100.63 L323.30,100.73 L323.45,101.00 L323.59,101.39 L323.71,101.72 L323.82,102.03 L323.92,102.33 L324.00,102.65 L324.05,103.00 L324.09,103.40 L324.11,103.83 L324.10,104.28 L324.08,104.72 L324.03,105.14 L323.95,105.50 L323.84,105.81 L323.68,106.07 L323.50,106.31 L323.31,106.54 L323.12,106.76 L322.95,107.00 L322.80,107.27 L322.64,107.56 L322.49,107.84 L322.35,108.11 L322.24,108.34 L322.00,108.50 L321.90,108.50 L321.67,108.34 L321.55,108.11 L321.42,107.84 L321.26,107.56 L321.11,107.27 L320.95,107.00 L320.79,106.76 L320.60,106.54 L320.41,106.31 L320.23,106.07 L320.07,105.81 L319.95,105.50 L319.88,105.14 L319.83,104.72 L319.80,104.28 L319.80,103.83 L319.82,103.40 L319.85,103.00 L319.91,102.65 L319.99,102.33 L320.09,102.03 L320.20,101.72 L320.32,101.39 L320.45,101.00 L320.61,100.73 L320.79,100.63 L320.98,100.50 L321.16,100.15 L321.33,99.38 L321.45,98.00 L321.54,96.30 L321.59,94.48 L321.62,92.25 L321.63,89.30 L321.64,85.31 L321.65,80.00 L321.67,72.34 L321.67,62.37 L321.67,51.38 L321.66,40.63 L321.66,31.41 L321.65,25.00 L321.90,25.00Z" fill="#1c1c1c"/>
<path d="M322.00,99.38 L322.19,100.15 L322.38,100.50 L322.57,100.63 L322.75,100.73 L322.90,101.00 L323.04,101.39 L323.16,101.72 L323.27,102.03 L323.37,102.33 L323.45,102.65 L323.50,103.00 L323.54,103.40 L323.56,103.83 L323.55,104.28 L323.53,104.72 L323.48,105.14 L323.40,105.50 L323.29,105.81 L323.13,106.07 L322.95,106.31 L322.76,106.54 L322.57,106.76 L322.40,107.00 L322.25,107.27 L322.09,107.56 L322.00,107.84 L321.90,107.84 L321.81,107.56 L321.66,107.27 L321.50,107.00 L321.34,106.76 L321.15,106.54 L320.96,106.31 L320.78,106.07 L320.62,105.81 L320.50,105.50 L320.43,105.14 L320.38,104.72 L320.35,104.28 L320.35,103.83 L320.37,103.40 L320.40,103.00 L320.46,102.65 L320.54,102.33 L320.64,102.03 L320.75,101.72 L320.87,101.39 L321.00,101.00 L321.16,100.73 L321.34,100.63 L321.53,100.50 L321.71,100.15 L321.90,99.38Z" fill="#0e5896"/>
<circle cx="321.95" cy="25.00" r="0.55" fill="#222"/>
<circle cx="321.95" cy="32.00" r="0.55" fill="#222"/>
<circle cx="321.95" cy="40.00" r="0.55" fill="#222"/>
<circle cx="321.95" cy="46.00" r="0.55" fill="#222"/>
<circle cx="321.95" cy="52.00" r="0.55" fill="#222"/>
<circle cx="321.95" cy="56.00" r="0.55" fill="#222"/>
<circle cx="321.95" cy="60.00" r="0.55" fill="#222"/>
<circle cx="321.95" cy="63.00" r="0.55" fill="#222"/>
<circle cx="321.95" cy="66.00" r="0.55" fill="#222"/>
<circle cx="321.95" cy="69.00" r="0.55" fill="#222"/>
<circle cx="321.95" cy="72.00" r="0.55" fill="#222"/>
<circle cx="321.95" cy="75.00" r="0.55" fill="#222"/>
<circle cx="321.95" cy="78.00" r="0.55" fill="#222"/>
<circle cx="321.95" cy="81.00" r="0.55" fill="#222"/>
<circle cx="321.95" cy="84.00" r="0.55" fill="#222"/>
<circle cx="321.95" cy="87.00" r="0.55" fill="#222"/>
<circle cx="321.95" cy="90.00" r="0.55" fill="#222"/>
<circle cx="321.95" cy="93.00" r="0.55" fill="#222"/>
<circle cx="321.95" cy="95.00" r="0.55" fill="#222"/>
<line x1="338.80" y1="94.80" x2="338.80" y2="107.50" stroke="#b4b4b4" stroke-width="0.8"/>
<path d="M338.85,94.80 L339.03,95.16 L339.06,95.66 L339.11,96.24 L339.16,96.87 L339.22,97.47 L339.30,98.00 L339.39,98.47 L339.49,98.92 L339.61,99.36 L339.73,99.77 L339.86,100.15 L340.00,100.50 L340.16,100.80 L340.33,101.06 L340.52,101.28 L340.70,101.50 L340.86,101.73 L341.00,102.00 L341.12,102.30 L341.22,102.63 L341.31,102.97 L341.38,103.31 L341.41,103.66 L341.40,104.00 L341.34,104.34 L341.25,104.69 L341.12,105.03 L340.96,105.37 L340.79,105.70 L340.60,106.00 L340.37,106.30 L340.10,106.59 L339.80,106.88 L339.51,107.13 L339.27,107.34 L339.10,107.50 L338.85,107.50 L338.75,107.50 L338.50,107.50 L338.33,107.34 L338.09,107.13 L337.80,106.88 L337.50,106.59 L337.23,106.30 L337.00,106.00 L336.81,105.70 L336.64,105.37 L336.48,105.03 L336.35,104.69 L336.26,104.34 L336.20,104.00 L336.19,103.66 L336.22,103.31 L336.29,102.97 L336.38,102.63 L336.48,102.30 L336.60,102.00 L336.74,101.73 L336.90,101.50 L337.08,101.28 L337.27,101.06 L337.44,100.80 L337.60,100.50 L337.74,100.15 L337.87,99.77 L337.99,99.36 L338.11,98.92 L338.21,98.47 L338.30,98.00 L338.38,97.47 L338.44,96.87 L338.49,96.24 L338.54,95.66 L338.57,95.16 L338.75,94.80Z" fill="#1c1c1c"/>
<path d="M338.85,98.47 L338.94,98.92 L339.06,99.36 L339.18,99.77 L339.31,100.15 L339.45,100.50 L339.61,100.80 L339.78,101.06 L339.97,101.28 L340.15,101.50 L340.31,101.73 L340.45,102.00 L340.57,102.30 L340.67,102.63 L340.76,102.97 L340.83,103.31 L340.86,103.66 L340.85,104.00 L340.79,104.34 L340.70,104.69 L340.57,105.03 L340.41,105.37 L340.24,105.70 L340.05,106.00 L339.82,106.30 L339.55,106.59 L339.25,106.88 L338.96,107.13 L338.85,107.34 L338.75,107.34 L338.64,107.13 L338.35,106.88 L338.05,106.59 L337.78,106.30 L337.55,106.00 L337.36,105.70 L337.19,105.37 L337.03,105.03 L336.90,104.69 L336.81,104.34 L336.75,104.00 L336.74,103.66 L336.77,103.31 L336.84,102.97 L336.93,102.63 L337.03,102.30 L337.15,102.00 L337.29,101.73 L337.45,101.50 L337.63,101.28 L337.82,101.06 L337.99,100.80 L338.15,100.50 L338.29,100.15 L338.42,99.77 L338.54,99.36 L338.66,98.92 L338.75,98.47Z" fill="#33b347"/>
<line x1="338.80" y1="98.00" x2="338.80" y2="107.00" stroke="#262626" stroke-width="0.95"/>
<line x1="355.65" y1="83.80" x2="355.65" y2="112.60" stroke="#b4b4b4" stroke-width="0.8"/>
<path d="M355.70,83.80 L355.87,84.25 L355.89,84.86 L355.93,85.59 L355.96,86.39 L356.00,87.21 L356.05,88.00 L356.09,88.79 L356.14,89.61 L356.18,90.45 L356.24,91.30 L356.29,92.16 L356.35,93.00 L356.41,93.85 L356.47,94.72 L356.54,95.59 L356.61,96.44 L356.68,97.25 L356.75,98.00 L356.81,98.68 L356.88,99.31 L356.95,99.91 L357.01,100.46 L357.06,100.99 L357.10,101.50 L357.12,101.97 L357.12,102.39 L357.12,102.78 L357.10,103.17 L357.08,103.57 L357.05,104.00 L357.00,104.47 L356.94,104.96 L356.87,105.47 L356.80,105.98 L356.72,106.49 L356.65,107.00 L356.57,107.50 L356.48,108.01 L356.40,108.52 L356.31,109.03 L356.22,109.52 L356.15,110.00 L356.07,110.49 L355.99,110.99 L355.91,111.49 L355.70,111.94 L355.60,111.94 L355.38,111.49 L355.30,110.99 L355.22,110.49 L355.15,110.00 L355.07,109.52 L354.98,109.03 L354.90,108.52 L354.81,108.01 L354.72,107.50 L354.65,107.00 L354.57,106.49 L354.49,105.98 L354.42,105.47 L354.35,104.96 L354.29,104.47 L354.25,104.00 L354.21,103.57 L354.19,103.17 L354.17,102.78 L354.17,102.39 L354.18,101.97 L354.20,101.50 L354.23,100.99 L354.28,100.46 L354.34,99.91 L354.41,99.31 L354.48,98.68 L354.55,98.00 L354.61,97.25 L354.68,96.44 L354.75,95.59 L354.82,94.72 L354.88,93.85 L354.95,93.00 L355.00,92.16 L355.06,91.30 L355.11,90.45 L355.16,89.61 L355.20,88.79 L355.25,88.00 L355.29,87.21 L355.33,86.39 L355.36,85.59 L355.40,84.86 L355.43,84.25 L355.60,83.80Z" fill="#1c1c1c"/>
<path d="M355.70,92.16 L355.80,93.00 L355.86,93.85 L355.92,94.72 L355.99,95.59 L356.06,96.44 L356.13,97.25 L356.20,98.00 L356.26,98.68 L356.33,99.31 L356.40,99.91 L356.46,100.46 L356.51,100.99 L356.55,101.50 L356.57,101.97 L356.57,102.39 L356.57,102.78 L356.55,103.17 L356.53,103.57 L356.50,104.00 L356.45,104.47 L356.39,104.96 L356.32,105.47 L356.25,105.98 L356.17,106.49 L356.10,107.00 L356.02,107.50 L355.93,108.01 L355.85,108.52 L355.70,109.03 L355.60,109.03 L355.45,108.52 L355.36,108.01 L355.27,107.50 L355.20,107.00 L355.12,106.49 L355.04,105.98 L354.97,105.47 L354.90,104.96 L354.84,104.47 L354.80,104.00 L354.76,103.57 L354.74,103.17 L354.72,102.78 L354.72,102.39 L354.73,101.97 L354.75,101.50 L354.78,100.99 L354.83,100.46 L354.89,99.91 L354.96,99.31 L355.03,98.68 L355.10,98.00 L355.16,97.25 L355.23,96.44 L355.30,95.59 L355.37,94.72 L355.43,93.85 L355.50,93.00 L355.60,92.16Z" fill="#652270"/>
<line x1="372.49" y1="63.50" x2="372.49" y2="110.00" stroke="#555" stroke-width="0.8"/>
<path d="M372.54,65.35 L372.72,67.94 L372.74,71.00 L372.76,74.22 L372.77,77.32 L372.79,80.00 L372.81,82.34 L372.82,84.59 L372.84,86.72 L372.85,88.69 L372.87,90.46 L372.89,92.00 L372.91,93.27 L372.93,94.28 L372.95,95.09 L372.98,95.78 L373.02,96.39 L373.09,97.00 L373.19,97.56 L373.32,98.00 L373.46,98.38 L373.61,98.72 L373.76,99.08 L373.89,99.50 L374.03,99.98 L374.17,100.48 L374.32,101.00 L374.44,101.52 L374.54,102.02 L374.59,102.50 L374.60,102.95 L374.56,103.37 L374.50,103.78 L374.41,104.19 L374.31,104.59 L374.19,105.00 L374.05,105.42 L373.88,105.83 L373.70,106.25 L373.51,106.67 L373.34,107.08 L373.19,107.50 L373.07,107.95 L372.97,108.43 L372.88,108.91 L372.80,109.35 L372.74,109.73 L372.54,110.00 L372.44,110.00 L372.24,109.73 L372.18,109.35 L372.10,108.91 L372.01,108.43 L371.91,107.95 L371.79,107.50 L371.65,107.08 L371.47,106.67 L371.29,106.25 L371.10,105.83 L370.93,105.42 L370.79,105.00 L370.68,104.59 L370.57,104.19 L370.49,103.78 L370.42,103.37 L370.39,102.95 L370.39,102.50 L370.44,102.02 L370.54,101.52 L370.67,101.00 L370.81,100.48 L370.96,99.98 L371.09,99.50 L371.23,99.08 L371.37,98.72 L371.52,98.38 L371.67,98.00 L371.79,97.56 L371.89,97.00 L371.96,96.39 L372.01,95.78 L372.04,95.09 L372.06,94.28 L372.07,93.27 L372.09,92.00 L372.11,90.46 L372.13,88.69 L372.15,86.72 L372.16,84.59 L372.18,82.34 L372.19,80.00 L372.21,77.32 L372.23,74.22 L372.25,71.00 L372.27,67.94 L372.44,65.35Z" fill="#1c1c1c"/>
<path d="M372.54,97.00 L372.64,97.56 L372.77,98.00 L372.91,98.38 L373.06,98.72 L373.21,99.08 L373.34,99.50 L373.48,99.98 L373.62,100.48 L373.77,101.00 L373.89,101.52 L373.99,102.02 L374.04,102.50 L374.05,102.95 L374.01,103.37 L373.95,103.78 L373.86,104.19 L373.76,104.59 L373.64,105.00 L373.50,105.42 L373.33,105.83 L373.15,106.25 L372.96,106.67 L372.79,107.08 L372.64,107.50 L372.54,107.95 L372.44,107.95 L372.34,107.50 L372.20,107.08 L372.02,106.67 L371.84,106.25 L371.65,105.83 L371.48,105.42 L371.34,105.00 L371.23,104.59 L371.12,104.19 L371.04,103.78 L370.97,103.37 L370.94,102.95 L370.94,102.50 L370.99,102.02 L371.09,101.52 L371.22,101.00 L371.36,100.48 L371.51,99.98 L371.64,99.50 L371.78,99.08 L371.92,98.72 L372.07,98.38 L372.22,98.00 L372.34,97.56 L372.44,97.00Z" fill="#f59114"/>
<circle cx="372.49" cy="66.00" r="0.55" fill="#222"/>
<circle cx="372.49" cy="72.00" r="0.55" fill="#222"/>
<circle cx="372.49" cy="80.00" r="0.55" fill="#222"/>
<circle cx="372.49" cy="88.00" r="0.55" fill="#222"/>
<text x="321.10" y="29.70" font-size="8.6" text-anchor="middle" font-weight="normal" fill="#111" letter-spacing="-0.5">*</text>
<text x="337.95" y="29.70" font-size="8.6" text-anchor="middle" font-weight="normal" fill="#111" letter-spacing="-0.5">*</text>
<text x="371.64" y="29.70" font-size="8.6" text-anchor="middle" font-weight="normal" fill="#111" letter-spacing="-0.5">**</text>
<rect x="295.00" y="18.50" width="87.60" height="98.50" fill="none" stroke="#2b2b2b" stroke-width="1.2"/>
<text x="0" y="0" font-size="9.900" text-anchor="middle" font-weight="normal" fill="#231f20" transform="translate(461.90 14.70) scale(0.9091 1)" >CD123</text>
<line x1="417.00" y1="102.60" x2="419.60" y2="102.60" stroke="#333" stroke-width="0.9"/>
<text x="0" y="0" font-size="8.424" text-anchor="end" font-weight="normal" fill="#231f20" transform="translate(415.30 105.40) scale(0.9259 1)" >0</text>
<line x1="417.00" y1="84.50" x2="419.60" y2="84.50" stroke="#333" stroke-width="0.9"/>
<text x="0" y="0" font-size="8.424" text-anchor="end" font-weight="normal" fill="#231f20" transform="translate(415.30 87.30) scale(0.9259 1)" >5000</text>
<line x1="417.00" y1="66.40" x2="419.60" y2="66.40" stroke="#333" stroke-width="0.9"/>
<text x="0" y="0" font-size="8.424" text-anchor="end" font-weight="normal" fill="#231f20" transform="translate(415.30 69.20) scale(0.9259 1)" >10000</text>
<line x1="417.00" y1="48.30" x2="419.60" y2="48.30" stroke="#333" stroke-width="0.9"/>
<text x="0" y="0" font-size="8.424" text-anchor="end" font-weight="normal" fill="#231f20" transform="translate(415.30 51.10) scale(0.9259 1)" >15000</text>
<line x1="417.00" y1="30.20" x2="419.60" y2="30.20" stroke="#333" stroke-width="0.9"/>
<text x="0" y="0" font-size="8.424" text-anchor="end" font-weight="normal" fill="#231f20" transform="translate(415.30 33.00) scale(0.9259 1)" >20000</text>
<line x1="429.68" y1="117.00" x2="429.68" y2="119.60" stroke="#333" stroke-width="0.9"/>
<text x="0" y="0" font-size="8.208" text-anchor="end" fill="#231f20" transform="translate(433.68 125.50) rotate(-45) scale(0.9259 1)">NBM</text>
<line x1="446.49" y1="117.00" x2="446.49" y2="119.60" stroke="#333" stroke-width="0.9"/>
<text x="0" y="0" font-size="8.208" text-anchor="end" fill="#231f20" transform="translate(450.49 125.50) rotate(-45) scale(0.9259 1)">AML</text>
<line x1="463.30" y1="117.00" x2="463.30" y2="119.60" stroke="#333" stroke-width="0.9"/>
<text x="0" y="0" font-size="8.208" text-anchor="end" fill="#231f20" transform="translate(467.30 125.50) rotate(-45) scale(0.9259 1)">MDS</text>
<line x1="480.11" y1="117.00" x2="480.11" y2="119.60" stroke="#333" stroke-width="0.9"/>
<text x="0" y="0" font-size="8.208" text-anchor="end" fill="#231f20" transform="translate(484.11 125.50) rotate(-45) scale(0.9259 1)">sAML</text>
<line x1="496.92" y1="117.00" x2="496.92" y2="119.60" stroke="#333" stroke-width="0.9"/>
<text x="0" y="0" font-size="8.208" text-anchor="end" fill="#231f20" transform="translate(500.92 125.50) rotate(-45) scale(0.9259 1)">tAML</text>
<line x1="429.68" y1="96.20" x2="429.68" y2="101.30" stroke="#b4b4b4" stroke-width="0.8"/>
<path d="M429.73,96.20 L430.18,96.20 L430.49,96.34 L430.90,96.54 L431.39,96.78 L431.95,97.03 L432.55,97.27 L433.18,97.50 L433.98,97.71 L434.97,97.91 L436.02,98.11 L436.95,98.30 L437.63,98.50 L437.88,98.70 L437.63,98.90 L436.95,99.09 L436.02,99.29 L434.97,99.49 L433.98,99.69 L433.18,99.90 L432.55,100.14 L431.95,100.40 L431.39,100.68 L430.90,100.93 L430.49,101.15 L430.18,101.30 L429.73,101.30 L429.63,101.30 L429.18,101.30 L428.88,101.15 L428.47,100.93 L427.98,100.68 L427.42,100.40 L426.82,100.14 L426.18,99.90 L425.39,99.69 L424.40,99.49 L423.35,99.29 L422.42,99.09 L421.74,98.90 L421.48,98.70 L421.74,98.50 L422.42,98.30 L423.35,98.11 L424.40,97.91 L425.39,97.71 L426.18,97.50 L426.82,97.27 L427.42,97.03 L427.98,96.78 L428.47,96.54 L428.88,96.34 L429.18,96.20 L429.63,96.20Z" fill="#1c1c1c"/>
<path d="M429.73,96.20 L429.94,96.34 L430.35,96.54 L430.84,96.78 L431.40,97.03 L432.00,97.27 L432.63,97.50 L433.43,97.71 L434.42,97.91 L435.47,98.11 L436.40,98.30 L437.08,98.50 L437.33,98.70 L437.08,98.90 L436.40,99.09 L435.47,99.29 L434.42,99.49 L433.43,99.69 L432.63,99.90 L432.00,100.14 L431.40,100.40 L430.84,100.68 L430.35,100.93 L429.94,101.15 L429.73,101.30 L429.63,101.30 L429.43,101.15 L429.02,100.93 L428.53,100.68 L427.97,100.40 L427.37,100.14 L426.73,99.90 L425.94,99.69 L424.95,99.49 L423.90,99.29 L422.97,99.09 L422.29,98.90 L422.03,98.70 L422.29,98.50 L422.97,98.30 L423.90,98.11 L424.95,97.91 L425.94,97.71 L426.73,97.50 L427.37,97.27 L427.97,97.03 L428.53,96.78 L429.02,96.54 L429.43,96.34 L429.63,96.20Z" fill="#e5192d"/>
<line x1="429.68" y1="96.20" x2="429.68" y2="101.30" stroke="#262626" stroke-width="0.95"/>
<line x1="446.49" y1="24.00" x2="446.49" y2="109.70" stroke="#777" stroke-width="0.8"/>
<path d="M446.54,80.00 L446.74,83.89 L446.80,85.70 L446.86,86.12 L446.94,85.85 L447.02,85.58 L447.09,86.00 L447.17,87.02 L447.25,88.07 L447.34,89.12 L447.42,90.15 L447.51,91.12 L447.59,92.00 L447.68,92.81 L447.77,93.56 L447.87,94.25 L447.96,94.89 L448.03,95.47 L448.09,96.00 L448.14,96.44 L448.17,96.78 L448.20,97.06 L448.21,97.33 L448.21,97.63 L448.19,98.00 L448.16,98.44 L448.11,98.93 L448.04,99.44 L447.97,99.96 L447.88,100.49 L447.79,101.00 L447.69,101.47 L447.57,101.90 L447.44,102.33 L447.31,102.80 L447.20,103.34 L447.09,104.00 L447.00,104.86 L446.92,105.91 L446.85,107.04 L446.78,108.12 L446.73,109.05 L446.54,109.70 L446.44,109.70 L446.25,109.05 L446.20,108.12 L446.14,107.04 L446.06,105.91 L445.98,104.86 L445.89,104.00 L445.79,103.34 L445.67,102.80 L445.54,102.33 L445.41,101.90 L445.30,101.47 L445.19,101.00 L445.10,100.49 L445.02,99.96 L444.94,99.44 L444.88,98.93 L444.83,98.44 L444.79,98.00 L444.78,97.63 L444.77,97.33 L444.79,97.06 L444.81,96.78 L444.85,96.44 L444.89,96.00 L444.95,95.47 L445.03,94.89 L445.12,94.25 L445.21,93.56 L445.30,92.81 L445.39,92.00 L445.48,91.12 L445.56,90.15 L445.65,89.12 L445.73,88.07 L445.81,87.02 L445.89,86.00 L445.97,85.58 L446.05,85.85 L446.12,86.12 L446.19,85.70 L446.25,83.89 L446.44,80.00Z" fill="#1c1c1c"/>
<path d="M446.54,86.00 L446.62,87.02 L446.70,88.07 L446.79,89.12 L446.87,90.15 L446.96,91.12 L447.04,92.00 L447.13,92.81 L447.22,93.56 L447.32,94.25 L447.41,94.89 L447.48,95.47 L447.54,96.00 L447.59,96.44 L447.62,96.78 L447.65,97.06 L447.66,97.33 L447.66,97.63 L447.64,98.00 L447.61,98.44 L447.56,98.93 L447.49,99.44 L447.42,99.96 L447.33,100.49 L447.24,101.00 L447.14,101.47 L447.02,101.90 L446.89,102.33 L446.76,102.80 L446.65,103.34 L446.54,104.00 L446.44,104.00 L446.34,103.34 L446.22,102.80 L446.09,102.33 L445.96,101.90 L445.85,101.47 L445.74,101.00 L445.65,100.49 L445.57,99.96 L445.49,99.44 L445.43,98.93 L445.38,98.44 L445.34,98.00 L445.33,97.63 L445.32,97.33 L445.34,97.06 L445.36,96.78 L445.40,96.44 L445.44,96.00 L445.50,95.47 L445.58,94.89 L445.67,94.25 L445.76,93.56 L445.85,92.81 L445.94,92.00 L446.03,91.12 L446.11,90.15 L446.20,89.12 L446.28,88.07 L446.36,87.02 L446.44,86.00Z" fill="#0e5896"/>
<circle cx="446.49" cy="27.00" r="0.55" fill="#222"/>
<circle cx="446.49" cy="33.00" r="0.55" fill="#222"/>
<circle cx="446.49" cy="38.00" r="0.55" fill="#222"/>
<circle cx="446.49" cy="44.00" r="0.55" fill="#222"/>
<circle cx="446.49" cy="50.00" r="0.55" fill="#222"/>
<circle cx="446.49" cy="53.00" r="0.55" fill="#222"/>
<circle cx="446.49" cy="56.00" r="0.55" fill="#222"/>
<circle cx="446.49" cy="59.00" r="0.55" fill="#222"/>
<circle cx="446.49" cy="62.00" r="0.55" fill="#222"/>
<circle cx="446.49" cy="65.00" r="0.55" fill="#222"/>
<circle cx="446.49" cy="68.00" r="0.55" fill="#222"/>
<circle cx="446.49" cy="71.00" r="0.55" fill="#222"/>
<circle cx="446.49" cy="74.00" r="0.55" fill="#222"/>
<circle cx="446.49" cy="77.00" r="0.55" fill="#222"/>
<circle cx="446.49" cy="80.00" r="0.55" fill="#222"/>
<line x1="463.30" y1="70.50" x2="463.30" y2="106.80" stroke="#b4b4b4" stroke-width="0.8"/>
<path d="M463.35,71.55 L463.52,73.02 L463.54,74.75 L463.56,76.59 L463.58,78.39 L463.60,80.00 L463.63,81.45 L463.65,82.89 L463.68,84.28 L463.71,85.61 L463.75,86.86 L463.80,88.00 L463.85,89.03 L463.91,89.96 L463.97,90.81 L464.04,91.59 L464.11,92.32 L464.20,93.00 L464.30,93.62 L464.41,94.15 L464.54,94.62 L464.66,95.07 L464.79,95.52 L464.90,96.00 L465.02,96.51 L465.14,97.02 L465.27,97.53 L465.38,98.04 L465.46,98.53 L465.50,99.00 L465.50,99.45 L465.46,99.89 L465.39,100.31 L465.30,100.72 L465.20,101.12 L465.10,101.50 L464.99,101.85 L464.86,102.16 L464.73,102.45 L464.58,102.76 L464.44,103.10 L464.30,103.50 L464.16,104.01 L464.00,104.63 L463.85,105.28 L463.71,105.90 L463.59,106.43 L463.35,106.80 L463.25,106.80 L463.01,106.43 L462.89,105.90 L462.75,105.28 L462.60,104.63 L462.44,104.01 L462.30,103.50 L462.16,103.10 L462.02,102.76 L461.88,102.45 L461.74,102.16 L461.61,101.85 L461.50,101.50 L461.40,101.12 L461.30,100.72 L461.21,100.31 L461.14,99.89 L461.10,99.45 L461.10,99.00 L461.14,98.53 L461.22,98.04 L461.33,97.53 L461.46,97.02 L461.58,96.51 L461.70,96.00 L461.81,95.52 L461.94,95.07 L462.06,94.62 L462.19,94.15 L462.30,93.62 L462.40,93.00 L462.49,92.32 L462.56,91.59 L462.63,90.81 L462.69,89.96 L462.75,89.03 L462.80,88.00 L462.85,86.86 L462.89,85.61 L462.92,84.28 L462.95,82.89 L462.97,81.45 L463.00,80.00 L463.02,78.39 L463.04,76.59 L463.06,74.75 L463.08,73.02 L463.25,71.55Z" fill="#1c1c1c"/>
<path d="M463.35,90.81 L463.49,91.59 L463.56,92.32 L463.65,93.00 L463.75,93.62 L463.86,94.15 L463.99,94.62 L464.11,95.07 L464.24,95.52 L464.35,96.00 L464.47,96.51 L464.59,97.02 L464.72,97.53 L464.83,98.04 L464.91,98.53 L464.95,99.00 L464.95,99.45 L464.91,99.89 L464.84,100.31 L464.75,100.72 L464.65,101.12 L464.55,101.50 L464.44,101.85 L464.31,102.16 L464.18,102.45 L464.03,102.76 L463.89,103.10 L463.75,103.50 L463.61,104.01 L463.45,104.63 L463.35,105.28 L463.25,105.28 L463.15,104.63 L462.99,104.01 L462.85,103.50 L462.71,103.10 L462.57,102.76 L462.43,102.45 L462.29,102.16 L462.16,101.85 L462.05,101.50 L461.95,101.12 L461.85,100.72 L461.76,100.31 L461.69,99.89 L461.65,99.45 L461.65,99.00 L461.69,98.53 L461.77,98.04 L461.88,97.53 L462.01,97.02 L462.13,96.51 L462.25,96.00 L462.36,95.52 L462.49,95.07 L462.61,94.62 L462.74,94.15 L462.85,93.62 L462.95,93.00 L463.04,92.32 L463.11,91.59 L463.25,90.81Z" fill="#33b347"/>
<line x1="463.30" y1="90.00" x2="463.30" y2="103.00" stroke="#262626" stroke-width="0.95"/>
<line x1="480.11" y1="80.60" x2="480.11" y2="105.00" stroke="#b4b4b4" stroke-width="0.8"/>
<path d="M480.16,80.60 L480.33,81.31 L480.36,82.31 L480.39,83.49 L480.43,84.73 L480.47,85.94 L480.51,87.00 L480.55,87.94 L480.59,88.84 L480.63,89.71 L480.67,90.53 L480.73,91.30 L480.81,92.00 L480.90,92.63 L481.00,93.19 L481.12,93.69 L481.24,94.15 L481.37,94.58 L481.51,95.00 L481.65,95.40 L481.82,95.76 L481.98,96.09 L482.14,96.41 L482.29,96.71 L482.41,97.00 L482.50,97.27 L482.58,97.52 L482.64,97.75 L482.68,97.98 L482.71,98.23 L482.71,98.50 L482.69,98.80 L482.65,99.13 L482.59,99.47 L482.51,99.81 L482.42,100.16 L482.31,100.50 L482.18,100.83 L482.02,101.15 L481.85,101.47 L481.66,101.80 L481.48,102.14 L481.31,102.50 L481.13,102.92 L480.94,103.39 L480.75,103.88 L480.57,104.33 L480.42,104.72 L480.16,105.00 L480.06,105.00 L479.80,104.72 L479.65,104.33 L479.47,103.88 L479.28,103.39 L479.09,102.92 L478.91,102.50 L478.73,102.14 L478.55,101.80 L478.37,101.47 L478.20,101.15 L478.04,100.83 L477.91,100.50 L477.80,100.16 L477.70,99.81 L477.63,99.47 L477.57,99.13 L477.53,98.80 L477.51,98.50 L477.51,98.23 L477.53,97.98 L477.58,97.75 L477.64,97.52 L477.71,97.27 L477.81,97.00 L477.93,96.71 L478.07,96.41 L478.23,96.09 L478.40,95.76 L478.56,95.40 L478.71,95.00 L478.84,94.58 L478.97,94.15 L479.10,93.69 L479.21,93.19 L479.32,92.63 L479.41,92.00 L479.48,91.30 L479.54,90.53 L479.59,89.71 L479.63,88.84 L479.67,87.94 L479.71,87.00 L479.75,85.94 L479.79,84.73 L479.83,83.49 L479.86,82.31 L479.89,81.31 L480.06,80.60Z" fill="#1c1c1c"/>
<path d="M480.16,91.30 L480.26,92.00 L480.35,92.63 L480.45,93.19 L480.57,93.69 L480.69,94.15 L480.82,94.58 L480.96,95.00 L481.10,95.40 L481.27,95.76 L481.43,96.09 L481.59,96.41 L481.74,96.71 L481.86,97.00 L481.95,97.27 L482.03,97.52 L482.09,97.75 L482.13,97.98 L482.16,98.23 L482.16,98.50 L482.14,98.80 L482.10,99.13 L482.04,99.47 L481.96,99.81 L481.87,100.16 L481.76,100.50 L481.63,100.83 L481.47,101.15 L481.30,101.47 L481.11,101.80 L480.93,102.14 L480.76,102.50 L480.58,102.92 L480.39,103.39 L480.16,103.88 L480.06,103.88 L479.83,103.39 L479.64,102.92 L479.46,102.50 L479.28,102.14 L479.10,101.80 L478.92,101.47 L478.75,101.15 L478.59,100.83 L478.46,100.50 L478.35,100.16 L478.25,99.81 L478.18,99.47 L478.12,99.13 L478.08,98.80 L478.06,98.50 L478.06,98.23 L478.08,97.98 L478.13,97.75 L478.19,97.52 L478.26,97.27 L478.36,97.00 L478.48,96.71 L478.62,96.41 L478.78,96.09 L478.95,95.76 L479.11,95.40 L479.26,95.00 L479.39,94.58 L479.52,94.15 L479.65,93.69 L479.76,93.19 L479.87,92.63 L479.96,92.00 L480.06,91.30Z" fill="#652270"/>
<line x1="480.11" y1="90.00" x2="480.11" y2="103.00" stroke="#262626" stroke-width="0.95"/>
<line x1="496.92" y1="45.00" x2="496.92" y2="112.80" stroke="#b4b4b4" stroke-width="1.4"/>
<path d="M496.97,63.00 L497.14,66.33 L497.15,69.75 L497.17,73.00 L497.19,75.83 L497.22,78.00 L497.24,79.34 L497.27,80.04 L497.30,80.31 L497.33,80.41 L497.37,80.56 L497.42,81.00 L497.47,81.71 L497.55,82.48 L497.62,83.31 L497.70,84.19 L497.76,85.09 L497.82,86.00 L497.85,86.95 L497.87,87.96 L497.89,89.00 L497.90,90.04 L497.91,91.05 L497.92,92.00 L497.93,92.88 L497.94,93.71 L497.95,94.52 L497.96,95.32 L497.95,96.14 L497.92,97.00 L497.86,97.94 L497.78,98.94 L497.68,99.96 L497.59,100.95 L497.49,101.88 L497.42,102.70 L497.35,103.35 L497.29,103.85 L497.24,104.28 L497.19,104.73 L497.15,105.28 L496.97,106.00 L496.87,106.00 L496.68,105.28 L496.64,104.73 L496.59,104.28 L496.54,103.85 L496.48,103.35 L496.42,102.70 L496.34,101.88 L496.25,100.95 L496.15,99.96 L496.05,98.94 L495.97,97.94 L495.92,97.00 L495.89,96.14 L495.87,95.32 L495.88,94.52 L495.89,93.71 L495.90,92.88 L495.92,92.00 L495.92,91.05 L495.93,90.04 L495.94,89.00 L495.96,87.96 L495.98,86.95 L496.02,86.00 L496.07,85.09 L496.13,84.19 L496.21,83.31 L496.29,82.48 L496.36,81.71 L496.42,81.00 L496.46,80.56 L496.50,80.41 L496.53,80.31 L496.56,80.04 L496.59,79.34 L496.62,78.00 L496.64,75.83 L496.66,73.00 L496.68,69.75 L496.69,66.33 L496.87,63.00Z" fill="#1c1c1c"/>
<path d="M496.97,82.48 L497.07,83.31 L497.15,84.19 L497.21,85.09 L497.27,86.00 L497.30,86.95 L497.32,87.96 L497.34,89.00 L497.35,90.04 L497.36,91.05 L497.37,92.00 L497.38,92.88 L497.39,93.71 L497.40,94.52 L497.41,95.32 L497.40,96.14 L497.37,97.00 L497.31,97.94 L497.23,98.94 L497.13,99.96 L497.04,100.95 L496.97,101.88 L496.87,101.88 L496.80,100.95 L496.70,99.96 L496.60,98.94 L496.52,97.94 L496.47,97.00 L496.44,96.14 L496.42,95.32 L496.43,94.52 L496.44,93.71 L496.45,92.88 L496.47,92.00 L496.47,91.05 L496.48,90.04 L496.49,89.00 L496.51,87.96 L496.53,86.95 L496.57,86.00 L496.62,85.09 L496.68,84.19 L496.76,83.31 L496.87,82.48Z" fill="#f59114"/>
<circle cx="496.92" cy="59.90" r="0.55" fill="#222"/>
<circle cx="496.92" cy="65.90" r="0.55" fill="#222"/>
<circle cx="496.92" cy="71.30" r="0.55" fill="#222"/>
<circle cx="496.92" cy="84.00" r="0.55" fill="#222"/>
<circle cx="496.92" cy="88.00" r="0.55" fill="#222"/>
<circle cx="496.92" cy="92.00" r="0.55" fill="#222"/>
<circle cx="496.92" cy="96.00" r="0.55" fill="#222"/>
<text x="445.64" y="29.70" font-size="8.6" text-anchor="middle" font-weight="normal" fill="#111" letter-spacing="-0.5">**</text>
<text x="496.07" y="29.70" font-size="8.6" text-anchor="middle" font-weight="normal" fill="#111" letter-spacing="-0.5">***</text>
<rect x="419.60" y="18.50" width="87.40" height="98.50" fill="none" stroke="#2b2b2b" stroke-width="1.2"/>
<text x="0" y="0" font-size="9.900" text-anchor="middle" font-weight="normal" fill="#231f20" transform="translate(92.20 153.30) scale(0.9091 1)" >TIM3</text>
<line x1="47.40" y1="242.00" x2="50.00" y2="242.00" stroke="#333" stroke-width="0.9"/>
<text x="0" y="0" font-size="8.424" text-anchor="end" font-weight="normal" fill="#231f20" transform="translate(45.70 244.80) scale(0.9259 1)" >0</text>
<line x1="47.40" y1="224.84" x2="50.00" y2="224.84" stroke="#333" stroke-width="0.9"/>
<text x="0" y="0" font-size="8.424" text-anchor="end" font-weight="normal" fill="#231f20" transform="translate(45.70 227.64) scale(0.9259 1)" >250</text>
<line x1="47.40" y1="207.68" x2="50.00" y2="207.68" stroke="#333" stroke-width="0.9"/>
<text x="0" y="0" font-size="8.424" text-anchor="end" font-weight="normal" fill="#231f20" transform="translate(45.70 210.48) scale(0.9259 1)" >500</text>
<line x1="47.40" y1="190.52" x2="50.00" y2="190.52" stroke="#333" stroke-width="0.9"/>
<text x="0" y="0" font-size="8.424" text-anchor="end" font-weight="normal" fill="#231f20" transform="translate(45.70 193.32) scale(0.9259 1)" >750</text>
<line x1="47.40" y1="173.36" x2="50.00" y2="173.36" stroke="#333" stroke-width="0.9"/>
<text x="0" y="0" font-size="8.424" text-anchor="end" font-weight="normal" fill="#231f20" transform="translate(45.70 176.16) scale(0.9259 1)" >1000</text>
<line x1="47.40" y1="156.20" x2="50.00" y2="156.20" stroke="#333" stroke-width="0.9"/>
<text x="0" y="0" font-size="8.424" text-anchor="end" font-weight="normal" fill="#231f20" transform="translate(45.70 159.00) scale(0.9259 1)" >1250</text>
<line x1="60.15" y1="255.00" x2="60.15" y2="257.60" stroke="#333" stroke-width="0.9"/>
<text x="0" y="0" font-size="8.208" text-anchor="end" fill="#231f20" transform="translate(64.15 263.50) rotate(-45) scale(0.9259 1)">NBM</text>
<line x1="77.08" y1="255.00" x2="77.08" y2="257.60" stroke="#333" stroke-width="0.9"/>
<text x="0" y="0" font-size="8.208" text-anchor="end" fill="#231f20" transform="translate(81.08 263.50) rotate(-45) scale(0.9259 1)">AML</text>
<line x1="94.00" y1="255.00" x2="94.00" y2="257.60" stroke="#333" stroke-width="0.9"/>
<text x="0" y="0" font-size="8.208" text-anchor="end" fill="#231f20" transform="translate(98.00 263.50) rotate(-45) scale(0.9259 1)">MDS</text>
<line x1="110.92" y1="255.00" x2="110.92" y2="257.60" stroke="#333" stroke-width="0.9"/>
<text x="0" y="0" font-size="8.208" text-anchor="end" fill="#231f20" transform="translate(114.92 263.50) rotate(-45) scale(0.9259 1)">sAML</text>
<line x1="127.85" y1="255.00" x2="127.85" y2="257.60" stroke="#333" stroke-width="0.9"/>
<text x="0" y="0" font-size="8.208" text-anchor="end" fill="#231f20" transform="translate(131.85 263.50) rotate(-45) scale(0.9259 1)">tAML</text>
<line x1="60.15" y1="230.10" x2="60.15" y2="237.90" stroke="#b4b4b4" stroke-width="0.8"/>
<path d="M60.20,230.10 L60.45,230.10 L63.15,231.50 L68.15,233.00 L68.45,233.50 L66.15,234.20 L62.65,236.00 L60.45,237.90 L60.20,237.90 L60.10,237.90 L59.85,237.90 L57.65,236.00 L54.15,234.20 L51.85,233.50 L52.15,233.00 L57.15,231.50 L59.85,230.10 L60.10,230.10Z" fill="#1c1c1c"/>
<path d="M60.20,230.10 L62.60,231.50 L67.60,233.00 L67.90,233.50 L65.60,234.20 L62.10,236.00 L60.20,237.90 L60.10,237.90 L58.20,236.00 L54.70,234.20 L52.40,233.50 L52.70,233.00 L57.70,231.50 L60.10,230.10Z" fill="#e5192d"/>
<line x1="60.15" y1="228.00" x2="60.15" y2="237.90" stroke="#262626" stroke-width="0.95"/>
<circle cx="60.15" cy="228.20" r="0.55" fill="#222"/>
<line x1="77.08" y1="160.40" x2="77.08" y2="245.80" stroke="#b4b4b4" stroke-width="0.8"/>
<path d="M77.13,173.24 L77.31,182.08 L77.33,191.04 L77.35,199.05 L77.38,205.00 L77.41,208.70 L77.46,211.01 L77.51,212.35 L77.56,213.17 L77.62,213.91 L77.68,215.00 L77.74,216.35 L77.80,217.59 L77.86,218.75 L77.93,219.85 L78.00,220.93 L78.08,222.00 L78.17,223.07 L78.28,224.11 L78.39,225.12 L78.50,226.11 L78.60,227.07 L78.68,228.00 L78.74,228.90 L78.80,229.78 L78.84,230.62 L78.87,231.44 L78.88,232.24 L78.88,233.00 L78.85,233.74 L78.80,234.44 L78.73,235.12 L78.65,235.78 L78.56,236.40 L78.48,237.00 L78.39,237.53 L78.29,237.97 L78.19,238.39 L78.08,238.83 L77.98,239.35 L77.88,240.00 L77.77,240.87 L77.65,241.94 L77.54,243.09 L77.43,244.19 L77.34,245.14 L77.13,245.80 L77.03,245.80 L76.81,245.14 L76.72,244.19 L76.61,243.09 L76.50,241.94 L76.38,240.87 L76.28,240.00 L76.17,239.35 L76.07,238.83 L75.96,238.39 L75.86,237.97 L75.77,237.53 L75.68,237.00 L75.59,236.40 L75.51,235.78 L75.43,235.12 L75.36,234.44 L75.31,233.74 L75.28,233.00 L75.27,232.24 L75.28,231.44 L75.31,230.62 L75.36,229.78 L75.41,228.90 L75.48,228.00 L75.56,227.07 L75.65,226.11 L75.76,225.12 L75.88,224.11 L75.98,223.07 L76.08,222.00 L76.16,220.93 L76.23,219.85 L76.30,218.75 L76.36,217.59 L76.42,216.35 L76.48,215.00 L76.54,213.91 L76.59,213.17 L76.65,212.35 L76.70,211.01 L76.74,208.70 L76.78,205.00 L76.81,199.05 L76.83,191.04 L76.85,182.08 L77.03,173.24Z" fill="#1c1c1c"/>
<path d="M77.13,216.35 L77.25,217.59 L77.31,218.75 L77.38,219.85 L77.45,220.93 L77.53,222.00 L77.62,223.07 L77.73,224.11 L77.84,225.12 L77.95,226.11 L78.05,227.07 L78.13,228.00 L78.19,228.90 L78.25,229.78 L78.29,230.62 L78.32,231.44 L78.33,232.24 L78.33,233.00 L78.30,233.74 L78.25,234.44 L78.18,235.12 L78.10,235.78 L78.01,236.40 L77.93,237.00 L77.84,237.53 L77.74,237.97 L77.64,238.39 L77.53,238.83 L77.43,239.35 L77.33,240.00 L77.22,240.87 L77.13,241.94 L77.03,241.94 L76.93,240.87 L76.83,240.00 L76.72,239.35 L76.62,238.83 L76.51,238.39 L76.41,237.97 L76.32,237.53 L76.23,237.00 L76.14,236.40 L76.06,235.78 L75.98,235.12 L75.91,234.44 L75.86,233.74 L75.83,233.00 L75.82,232.24 L75.83,231.44 L75.86,230.62 L75.91,229.78 L75.96,228.90 L76.03,228.00 L76.11,227.07 L76.20,226.11 L76.31,225.12 L76.43,224.11 L76.53,223.07 L76.63,222.00 L76.71,220.93 L76.78,219.85 L76.85,218.75 L76.91,217.59 L77.03,216.35Z" fill="#15416e"/>
<circle cx="77.08" cy="166.00" r="0.55" fill="#222"/>
<circle cx="77.08" cy="205.00" r="0.55" fill="#222"/>
<circle cx="77.08" cy="210.00" r="0.55" fill="#222"/>
<line x1="94.00" y1="191.70" x2="94.00" y2="245.80" stroke="#b4b4b4" stroke-width="0.8"/>
<path d="M94.05,191.70 L94.30,191.70 L94.31,193.83 L94.31,196.90 L94.33,200.47 L94.34,204.13 L94.36,207.45 L94.40,210.00 L94.45,211.73 L94.50,212.99 L94.56,213.89 L94.63,214.60 L94.71,215.26 L94.80,216.00 L94.90,216.77 L95.03,217.44 L95.16,218.06 L95.29,218.67 L95.40,219.30 L95.50,220.00 L95.58,220.78 L95.64,221.59 L95.69,222.44 L95.74,223.30 L95.77,224.16 L95.80,225.00 L95.82,225.83 L95.83,226.67 L95.83,227.50 L95.83,228.33 L95.82,229.17 L95.80,230.00 L95.78,230.84 L95.76,231.70 L95.73,232.56 L95.70,233.41 L95.65,234.22 L95.60,235.00 L95.54,235.74 L95.46,236.44 L95.38,237.12 L95.29,237.78 L95.20,238.40 L95.10,239.00 L94.99,239.55 L94.86,240.04 L94.73,240.51 L94.60,240.98 L94.49,241.47 L94.40,242.00 L94.34,242.63 L94.29,243.35 L94.26,244.09 L94.23,244.79 L94.05,245.38 L93.95,245.38 L93.77,244.79 L93.74,244.09 L93.71,243.35 L93.66,242.63 L93.60,242.00 L93.51,241.47 L93.40,240.98 L93.27,240.51 L93.14,240.04 L93.01,239.55 L92.90,239.00 L92.80,238.40 L92.71,237.78 L92.62,237.12 L92.54,236.44 L92.46,235.74 L92.40,235.00 L92.35,234.22 L92.30,233.41 L92.27,232.56 L92.24,231.70 L92.22,230.84 L92.20,230.00 L92.18,229.17 L92.17,228.33 L92.17,227.50 L92.17,226.67 L92.18,225.83 L92.20,225.00 L92.23,224.16 L92.26,223.30 L92.31,222.44 L92.36,221.59 L92.42,220.78 L92.50,220.00 L92.60,219.30 L92.71,218.67 L92.84,218.06 L92.97,217.44 L93.10,216.77 L93.20,216.00 L93.29,215.26 L93.37,214.60 L93.44,213.89 L93.50,212.99 L93.55,211.73 L93.60,210.00 L93.64,207.45 L93.66,204.13 L93.67,200.47 L93.69,196.90 L93.69,193.83 L93.70,191.70 L93.95,191.70Z" fill="#1c1c1c"/>
<path d="M94.05,214.60 L94.16,215.26 L94.25,216.00 L94.35,216.77 L94.48,217.44 L94.61,218.06 L94.74,218.67 L94.85,219.30 L94.95,220.00 L95.03,220.78 L95.09,221.59 L95.14,222.44 L95.19,223.30 L95.22,224.16 L95.25,225.00 L95.27,225.83 L95.28,226.67 L95.28,227.50 L95.28,228.33 L95.27,229.17 L95.25,230.00 L95.23,230.84 L95.21,231.70 L95.18,232.56 L95.15,233.41 L95.10,234.22 L95.05,235.00 L94.99,235.74 L94.91,236.44 L94.83,237.12 L94.74,237.78 L94.65,238.40 L94.55,239.00 L94.44,239.55 L94.31,240.04 L94.18,240.51 L94.05,240.98 L93.95,240.98 L93.82,240.51 L93.69,240.04 L93.56,239.55 L93.45,239.00 L93.35,238.40 L93.26,237.78 L93.17,237.12 L93.09,236.44 L93.01,235.74 L92.95,235.00 L92.90,234.22 L92.85,233.41 L92.82,232.56 L92.79,231.70 L92.77,230.84 L92.75,230.00 L92.73,229.17 L92.72,228.33 L92.72,227.50 L92.72,226.67 L92.73,225.83 L92.75,225.00 L92.78,224.16 L92.81,223.30 L92.86,222.44 L92.91,221.59 L92.97,220.78 L93.05,220.00 L93.15,219.30 L93.26,218.67 L93.39,218.06 L93.52,217.44 L93.65,216.77 L93.75,216.00 L93.84,215.26 L93.95,214.60Z" fill="#33b347"/>
<line x1="94.00" y1="215.00" x2="94.00" y2="240.00" stroke="#262626" stroke-width="0.95"/>
<circle cx="94.00" cy="198.00" r="0.55" fill="#222"/>
<line x1="110.92" y1="190.80" x2="110.92" y2="250.00" stroke="#b4b4b4" stroke-width="0.8"/>
<path d="M110.97,194.75 L111.15,197.46 L111.17,200.27 L111.19,202.89 L111.22,205.00 L111.26,206.57 L111.30,207.83 L111.35,208.89 L111.41,209.86 L111.46,210.86 L111.52,212.00 L111.58,213.28 L111.65,214.59 L111.72,215.94 L111.79,217.30 L111.86,218.66 L111.92,220.00 L111.99,221.37 L112.06,222.78 L112.14,224.19 L112.20,225.56 L112.27,226.84 L112.32,228.00 L112.37,229.01 L112.42,229.89 L112.47,230.69 L112.50,231.44 L112.52,232.20 L112.52,233.00 L112.51,233.84 L112.47,234.70 L112.43,235.56 L112.37,236.41 L112.30,237.22 L112.22,238.00 L112.13,238.68 L112.01,239.26 L111.88,239.81 L111.75,240.41 L111.63,241.11 L111.52,242.00 L111.43,243.19 L111.35,244.67 L111.28,246.25 L111.22,247.78 L111.16,249.08 L110.97,250.00 L110.87,250.00 L110.68,249.08 L110.63,247.78 L110.57,246.25 L110.49,244.67 L110.41,243.19 L110.32,242.00 L110.22,241.11 L110.10,240.41 L109.97,239.81 L109.84,239.26 L109.72,238.68 L109.62,238.00 L109.54,237.22 L109.47,236.41 L109.42,235.56 L109.37,234.70 L109.34,233.84 L109.32,233.00 L109.33,232.20 L109.35,231.44 L109.38,230.69 L109.42,229.89 L109.47,229.01 L109.52,228.00 L109.58,226.84 L109.64,225.56 L109.71,224.19 L109.78,222.78 L109.85,221.37 L109.92,220.00 L109.99,218.66 L110.06,217.30 L110.13,215.94 L110.20,214.59 L110.26,213.28 L110.32,212.00 L110.38,210.86 L110.44,209.86 L110.49,208.89 L110.54,207.83 L110.59,206.57 L110.62,205.00 L110.65,202.89 L110.67,200.27 L110.69,197.46 L110.87,194.75Z" fill="#1c1c1c"/>
<path d="M110.97,213.28 L111.10,214.59 L111.17,215.94 L111.24,217.30 L111.31,218.66 L111.37,220.00 L111.44,221.37 L111.51,222.78 L111.59,224.19 L111.65,225.56 L111.72,226.84 L111.77,228.00 L111.82,229.01 L111.87,229.89 L111.92,230.69 L111.95,231.44 L111.97,232.20 L111.97,233.00 L111.96,233.84 L111.92,234.70 L111.88,235.56 L111.82,236.41 L111.75,237.22 L111.67,238.00 L111.58,238.68 L111.46,239.26 L111.33,239.81 L111.20,240.41 L111.08,241.11 L110.97,242.00 L110.87,242.00 L110.77,241.11 L110.65,240.41 L110.52,239.81 L110.39,239.26 L110.27,238.68 L110.17,238.00 L110.09,237.22 L110.02,236.41 L109.97,235.56 L109.92,234.70 L109.89,233.84 L109.87,233.00 L109.88,232.20 L109.90,231.44 L109.93,230.69 L109.97,229.89 L110.02,229.01 L110.07,228.00 L110.13,226.84 L110.19,225.56 L110.26,224.19 L110.33,222.78 L110.40,221.37 L110.47,220.00 L110.54,218.66 L110.61,217.30 L110.68,215.94 L110.75,214.59 L110.87,213.28Z" fill="#3d1547"/>
<line x1="127.85" y1="206.00" x2="127.85" y2="244.20" stroke="#b4b4b4" stroke-width="0.8"/>
<path d="M127.90,206.89 L128.09,208.15 L128.12,209.62 L128.16,211.19 L128.20,212.69 L128.25,214.00 L128.30,215.13 L128.36,216.19 L128.43,217.19 L128.51,218.15 L128.58,219.08 L128.65,220.00 L128.71,220.90 L128.77,221.78 L128.83,222.62 L128.89,223.44 L128.96,224.24 L129.05,225.00 L129.15,225.72 L129.26,226.41 L129.39,227.06 L129.52,227.70 L129.64,228.34 L129.75,229.00 L129.85,229.68 L129.96,230.37 L130.06,231.06 L130.15,231.74 L130.22,232.39 L130.25,233.00 L130.24,233.56 L130.20,234.07 L130.14,234.56 L130.06,235.04 L129.96,235.51 L129.85,236.00 L129.71,236.51 L129.54,237.04 L129.36,237.56 L129.17,238.07 L129.00,238.56 L128.85,239.00 L128.72,239.38 L128.61,239.70 L128.50,239.99 L128.41,240.28 L128.32,240.61 L128.25,241.00 L128.18,241.50 L128.11,242.10 L127.90,242.72 L127.80,242.72 L127.58,242.10 L127.52,241.50 L127.45,241.00 L127.37,240.61 L127.28,240.28 L127.19,239.99 L127.09,239.70 L126.97,239.38 L126.85,239.00 L126.70,238.56 L126.52,238.07 L126.33,237.56 L126.15,237.04 L125.98,236.51 L125.85,236.00 L125.73,235.51 L125.64,235.04 L125.55,234.56 L125.49,234.07 L125.45,233.56 L125.45,233.00 L125.48,232.39 L125.54,231.74 L125.63,231.06 L125.73,230.37 L125.84,229.68 L125.95,229.00 L126.05,228.34 L126.18,227.70 L126.30,227.06 L126.43,226.41 L126.54,225.72 L126.65,225.00 L126.73,224.24 L126.80,223.44 L126.86,222.62 L126.92,221.78 L126.98,220.90 L127.05,220.00 L127.12,219.08 L127.19,218.15 L127.26,217.19 L127.33,216.19 L127.39,215.13 L127.45,214.00 L127.49,212.69 L127.54,211.19 L127.57,209.62 L127.60,208.15 L127.80,206.89Z" fill="#1c1c1c"/>
<path d="M127.90,218.15 L128.03,219.08 L128.10,220.00 L128.16,220.90 L128.22,221.78 L128.28,222.62 L128.34,223.44 L128.41,224.24 L128.50,225.00 L128.60,225.72 L128.71,226.41 L128.84,227.06 L128.97,227.70 L129.09,228.34 L129.20,229.00 L129.30,229.68 L129.41,230.37 L129.51,231.06 L129.60,231.74 L129.67,232.39 L129.70,233.00 L129.69,233.56 L129.65,234.07 L129.59,234.56 L129.51,235.04 L129.41,235.51 L129.30,236.00 L129.16,236.51 L128.99,237.04 L128.81,237.56 L128.62,238.07 L128.45,238.56 L128.30,239.00 L128.17,239.38 L128.06,239.70 L127.90,239.99 L127.80,239.99 L127.64,239.70 L127.52,239.38 L127.40,239.00 L127.25,238.56 L127.07,238.07 L126.88,237.56 L126.70,237.04 L126.53,236.51 L126.40,236.00 L126.28,235.51 L126.19,235.04 L126.10,234.56 L126.04,234.07 L126.00,233.56 L126.00,233.00 L126.03,232.39 L126.09,231.74 L126.18,231.06 L126.28,230.37 L126.39,229.68 L126.50,229.00 L126.60,228.34 L126.73,227.70 L126.85,227.06 L126.98,226.41 L127.09,225.72 L127.20,225.00 L127.28,224.24 L127.35,223.44 L127.41,222.62 L127.47,221.78 L127.53,220.90 L127.60,220.00 L127.67,219.08 L127.80,218.15Z" fill="#f59114"/>
<line x1="127.85" y1="218.00" x2="127.85" y2="240.00" stroke="#262626" stroke-width="0.95"/>
<text x="93.15" y="168.20" font-size="8.6" text-anchor="middle" font-weight="normal" fill="#111" letter-spacing="-0.5">*</text>
<rect x="50.00" y="156.20" width="88.00" height="98.80" fill="none" stroke="#2b2b2b" stroke-width="1.2"/>
<text x="0" y="0" font-size="9.900" text-anchor="middle" font-weight="normal" fill="#231f20" transform="translate(217.50 153.30) scale(0.9091 1)" >CD82</text>
<line x1="172.00" y1="236.40" x2="174.60" y2="236.40" stroke="#333" stroke-width="0.9"/>
<text x="0" y="0" font-size="8.424" text-anchor="end" font-weight="normal" fill="#231f20" transform="translate(170.30 239.20) scale(0.9259 1)" >0</text>
<line x1="172.00" y1="210.83" x2="174.60" y2="210.83" stroke="#333" stroke-width="0.9"/>
<text x="0" y="0" font-size="8.424" text-anchor="end" font-weight="normal" fill="#231f20" transform="translate(170.30 213.63) scale(0.9259 1)" >10000</text>
<line x1="172.00" y1="185.27" x2="174.60" y2="185.27" stroke="#333" stroke-width="0.9"/>
<text x="0" y="0" font-size="8.424" text-anchor="end" font-weight="normal" fill="#231f20" transform="translate(170.30 188.07) scale(0.9259 1)" >20000</text>
<line x1="172.00" y1="159.70" x2="174.60" y2="159.70" stroke="#333" stroke-width="0.9"/>
<text x="0" y="0" font-size="8.424" text-anchor="end" font-weight="normal" fill="#231f20" transform="translate(170.30 162.50) scale(0.9259 1)" >30000</text>
<line x1="184.74" y1="255.00" x2="184.74" y2="257.60" stroke="#333" stroke-width="0.9"/>
<text x="0" y="0" font-size="8.208" text-anchor="end" fill="#231f20" transform="translate(188.74 263.50) rotate(-45) scale(0.9259 1)">NBM</text>
<line x1="201.65" y1="255.00" x2="201.65" y2="257.60" stroke="#333" stroke-width="0.9"/>
<text x="0" y="0" font-size="8.208" text-anchor="end" fill="#231f20" transform="translate(205.65 263.50) rotate(-45) scale(0.9259 1)">AML</text>
<line x1="218.55" y1="255.00" x2="218.55" y2="257.60" stroke="#333" stroke-width="0.9"/>
<text x="0" y="0" font-size="8.208" text-anchor="end" fill="#231f20" transform="translate(222.55 263.50) rotate(-45) scale(0.9259 1)">MDS</text>
<line x1="235.45" y1="255.00" x2="235.45" y2="257.60" stroke="#333" stroke-width="0.9"/>
<text x="0" y="0" font-size="8.208" text-anchor="end" fill="#231f20" transform="translate(239.45 263.50) rotate(-45) scale(0.9259 1)">sAML</text>
<line x1="252.36" y1="255.00" x2="252.36" y2="257.60" stroke="#333" stroke-width="0.9"/>
<text x="0" y="0" font-size="8.208" text-anchor="end" fill="#231f20" transform="translate(256.36 263.50) rotate(-45) scale(0.9259 1)">tAML</text>
<line x1="184.74" y1="223.30" x2="184.74" y2="239.60" stroke="#b4b4b4" stroke-width="0.8"/>
<path d="M184.79,223.30 L185.04,223.30 L187.34,227.00 L189.94,229.50 L193.24,231.80 L190.24,234.00 L187.34,236.50 L185.04,239.60 L184.79,239.60 L184.69,239.60 L184.44,239.60 L182.14,236.50 L179.24,234.00 L176.24,231.80 L179.54,229.50 L182.14,227.00 L184.44,223.30 L184.69,223.30Z" fill="#1c1c1c"/>
<path d="M184.79,223.30 L186.79,227.00 L189.39,229.50 L192.69,231.80 L189.69,234.00 L186.79,236.50 L184.79,239.60 L184.69,239.60 L182.69,236.50 L179.79,234.00 L176.79,231.80 L180.09,229.50 L182.69,227.00 L184.69,223.30Z" fill="#e5192d"/>
<line x1="184.74" y1="225.00" x2="184.74" y2="238.00" stroke="#262626" stroke-width="0.95"/>
<line x1="201.65" y1="185.80" x2="201.65" y2="242.50" stroke="#b4b4b4" stroke-width="0.8"/>
<path d="M201.70,185.80 L201.95,185.80 L201.96,188.01 L201.99,191.16 L202.01,194.85 L202.04,198.66 L202.07,202.18 L202.10,205.00 L202.11,207.08 L202.12,208.76 L202.12,210.14 L202.14,211.36 L202.16,212.53 L202.20,213.80 L202.25,215.14 L202.32,216.45 L202.40,217.72 L202.49,218.94 L202.59,220.10 L202.70,221.20 L202.80,222.23 L202.90,223.20 L203.01,224.12 L203.14,224.97 L203.30,225.77 L203.50,226.50 L203.74,227.13 L204.04,227.65 L204.36,228.11 L204.69,228.56 L205.03,229.04 L205.35,229.60 L205.70,230.27 L206.10,231.01 L206.50,231.78 L206.85,232.55 L207.10,233.27 L207.20,233.90 L207.11,234.43 L206.87,234.89 L206.54,235.30 L206.14,235.69 L205.73,236.08 L205.35,236.50 L204.96,236.96 L204.53,237.44 L204.08,237.92 L203.65,238.39 L203.26,238.82 L202.95,239.20 L202.71,239.52 L202.54,239.78 L202.41,240.01 L202.32,240.22 L202.23,240.45 L202.15,240.70 L202.06,241.00 L202.00,241.34 L201.95,241.69 L201.91,242.02 L201.87,242.30 L201.70,242.50 L201.60,242.50 L201.42,242.30 L201.39,242.02 L201.35,241.69 L201.29,241.34 L201.23,241.00 L201.15,240.70 L201.06,240.45 L200.98,240.22 L200.88,240.01 L200.75,239.78 L200.58,239.52 L200.35,239.20 L200.03,238.82 L199.64,238.39 L199.21,237.92 L198.76,237.44 L198.33,236.96 L197.95,236.50 L197.56,236.08 L197.15,235.69 L196.76,235.30 L196.42,234.89 L196.18,234.43 L196.10,233.90 L196.19,233.27 L196.44,232.55 L196.79,231.78 L197.19,231.01 L197.59,230.27 L197.95,229.60 L198.27,229.04 L198.60,228.56 L198.94,228.11 L199.26,227.65 L199.55,227.13 L199.80,226.50 L199.99,225.77 L200.15,224.97 L200.28,224.12 L200.39,223.20 L200.49,222.23 L200.60,221.20 L200.70,220.10 L200.80,218.94 L200.89,217.72 L200.97,216.45 L201.04,215.14 L201.10,213.80 L201.14,212.53 L201.16,211.36 L201.17,210.14 L201.17,208.76 L201.18,207.08 L201.20,205.00 L201.22,202.18 L201.25,198.66 L201.28,194.85 L201.31,191.16 L201.33,188.01 L201.35,185.80 L201.60,185.80Z" fill="#1c1c1c"/>
<path d="M201.70,215.14 L201.77,216.45 L201.85,217.72 L201.94,218.94 L202.04,220.10 L202.15,221.20 L202.25,222.23 L202.35,223.20 L202.46,224.12 L202.59,224.97 L202.75,225.77 L202.95,226.50 L203.19,227.13 L203.49,227.65 L203.81,228.11 L204.14,228.56 L204.48,229.04 L204.80,229.60 L205.15,230.27 L205.55,231.01 L205.95,231.78 L206.30,232.55 L206.55,233.27 L206.65,233.90 L206.56,234.43 L206.32,234.89 L205.99,235.30 L205.59,235.69 L205.18,236.08 L204.80,236.50 L204.41,236.96 L203.98,237.44 L203.53,237.92 L203.10,238.39 L202.71,238.82 L202.40,239.20 L202.16,239.52 L201.99,239.78 L201.86,240.01 L201.77,240.22 L201.70,240.45 L201.60,240.45 L201.53,240.22 L201.43,240.01 L201.30,239.78 L201.13,239.52 L200.90,239.20 L200.58,238.82 L200.19,238.39 L199.76,237.92 L199.31,237.44 L198.88,236.96 L198.50,236.50 L198.11,236.08 L197.70,235.69 L197.31,235.30 L196.97,234.89 L196.73,234.43 L196.65,233.90 L196.74,233.27 L196.99,232.55 L197.34,231.78 L197.74,231.01 L198.14,230.27 L198.50,229.60 L198.82,229.04 L199.15,228.56 L199.49,228.11 L199.81,227.65 L200.10,227.13 L200.35,226.50 L200.54,225.77 L200.70,224.97 L200.83,224.12 L200.94,223.20 L201.04,222.23 L201.15,221.20 L201.25,220.10 L201.35,218.94 L201.44,217.72 L201.52,216.45 L201.60,215.14Z" fill="#0e5896"/>
<line x1="201.65" y1="214.00" x2="201.65" y2="239.00" stroke="#262626" stroke-width="0.95"/>
<circle cx="201.65" cy="190.00" r="0.55" fill="#222"/>
<circle cx="201.65" cy="196.00" r="0.55" fill="#222"/>
<circle cx="201.65" cy="202.00" r="0.55" fill="#222"/>
<circle cx="201.65" cy="208.00" r="0.55" fill="#222"/>
<line x1="218.55" y1="183.20" x2="218.55" y2="246.60" stroke="#b4b4b4" stroke-width="0.8"/>
<path d="M218.60,183.20 L218.85,183.20 L218.85,185.10 L218.86,187.79 L218.87,190.94 L218.88,194.24 L218.89,197.36 L218.90,200.00 L218.91,202.19 L218.91,204.19 L218.92,206.02 L218.94,207.69 L218.96,209.21 L219.00,210.60 L219.06,211.79 L219.14,212.76 L219.23,213.58 L219.32,214.33 L219.41,215.08 L219.50,215.90 L219.57,216.78 L219.63,217.67 L219.68,218.55 L219.75,219.43 L219.83,220.32 L219.95,221.20 L220.11,222.09 L220.31,222.98 L220.52,223.87 L220.74,224.76 L220.96,225.63 L221.15,226.50 L221.33,227.36 L221.52,228.23 L221.71,229.08 L221.86,229.92 L221.98,230.73 L222.05,231.50 L222.06,232.23 L222.02,232.92 L221.95,233.58 L221.84,234.23 L221.71,234.86 L221.55,235.50 L221.35,236.15 L221.10,236.80 L220.83,237.44 L220.54,238.06 L220.28,238.65 L220.05,239.20 L219.86,239.67 L219.69,240.07 L219.53,240.43 L219.39,240.81 L219.26,241.25 L219.15,241.80 L219.05,242.53 L218.96,243.41 L218.89,244.36 L218.84,245.27 L218.79,246.05 L218.60,246.60 L218.50,246.60 L218.31,246.05 L218.26,245.27 L218.21,244.36 L218.14,243.41 L218.05,242.53 L217.95,241.80 L217.84,241.25 L217.71,240.81 L217.57,240.43 L217.41,240.07 L217.24,239.67 L217.05,239.20 L216.82,238.65 L216.56,238.06 L216.28,237.44 L216.00,236.80 L215.75,236.15 L215.55,235.50 L215.39,234.86 L215.26,234.23 L215.15,233.58 L215.08,232.92 L215.04,232.23 L215.05,231.50 L215.12,230.73 L215.24,229.92 L215.39,229.08 L215.58,228.23 L215.77,227.36 L215.95,226.50 L216.14,225.63 L216.36,224.76 L216.58,223.87 L216.79,222.98 L216.99,222.09 L217.15,221.20 L217.27,220.32 L217.35,219.43 L217.42,218.55 L217.47,217.67 L217.53,216.78 L217.60,215.90 L217.69,215.08 L217.78,214.33 L217.87,213.58 L217.96,212.76 L218.04,211.79 L218.10,210.60 L218.14,209.21 L218.16,207.69 L218.18,206.02 L218.19,204.19 L218.19,202.19 L218.20,200.00 L218.21,197.36 L218.22,194.24 L218.23,190.94 L218.24,187.79 L218.25,185.10 L218.25,183.20 L218.50,183.20Z" fill="#1c1c1c"/>
<path d="M218.60,212.76 L218.68,213.58 L218.77,214.33 L218.86,215.08 L218.95,215.90 L219.02,216.78 L219.08,217.67 L219.13,218.55 L219.20,219.43 L219.28,220.32 L219.40,221.20 L219.56,222.09 L219.76,222.98 L219.97,223.87 L220.19,224.76 L220.41,225.63 L220.60,226.50 L220.78,227.36 L220.97,228.23 L221.16,229.08 L221.31,229.92 L221.43,230.73 L221.50,231.50 L221.51,232.23 L221.47,232.92 L221.40,233.58 L221.29,234.23 L221.16,234.86 L221.00,235.50 L220.80,236.15 L220.55,236.80 L220.28,237.44 L219.99,238.06 L219.73,238.65 L219.50,239.20 L219.31,239.67 L219.14,240.07 L218.98,240.43 L218.84,240.81 L218.71,241.25 L218.60,241.80 L218.50,241.80 L218.39,241.25 L218.26,240.81 L218.12,240.43 L217.96,240.07 L217.79,239.67 L217.60,239.20 L217.37,238.65 L217.11,238.06 L216.83,237.44 L216.55,236.80 L216.30,236.15 L216.10,235.50 L215.94,234.86 L215.81,234.23 L215.70,233.58 L215.63,232.92 L215.59,232.23 L215.60,231.50 L215.67,230.73 L215.79,229.92 L215.94,229.08 L216.13,228.23 L216.32,227.36 L216.50,226.50 L216.69,225.63 L216.91,224.76 L217.13,223.87 L217.34,222.98 L217.54,222.09 L217.70,221.20 L217.82,220.32 L217.90,219.43 L217.97,218.55 L218.02,217.67 L218.08,216.78 L218.15,215.90 L218.24,215.08 L218.33,214.33 L218.42,213.58 L218.50,212.76Z" fill="#33b347"/>
<line x1="218.55" y1="215.00" x2="218.55" y2="240.00" stroke="#262626" stroke-width="0.95"/>
<circle cx="218.55" cy="195.00" r="0.55" fill="#222"/>
<circle cx="218.55" cy="205.00" r="0.55" fill="#222"/>
<circle cx="218.55" cy="215.00" r="0.55" fill="#222"/>
<circle cx="218.55" cy="219.00" r="0.55" fill="#222"/>
<line x1="235.45" y1="178.20" x2="235.45" y2="242.50" stroke="#b4b4b4" stroke-width="0.8"/>
<path d="M235.50,178.20 L235.75,178.20 L235.76,180.64 L235.78,184.07 L235.80,188.11 L235.82,192.36 L235.84,196.46 L235.85,200.00 L235.87,203.11 L235.87,206.13 L235.88,208.98 L235.89,211.60 L235.91,213.93 L235.95,215.90 L236.01,217.40 L236.09,218.45 L236.17,219.21 L236.27,219.83 L236.38,220.44 L236.50,221.20 L236.64,222.10 L236.78,223.01 L236.93,223.92 L237.11,224.81 L237.31,225.68 L237.55,226.50 L237.85,227.28 L238.20,228.02 L238.59,228.73 L238.97,229.41 L239.34,230.07 L239.65,230.70 L239.96,231.30 L240.27,231.86 L240.56,232.40 L240.80,232.91 L240.96,233.41 L241.00,233.90 L240.93,234.37 L240.74,234.81 L240.48,235.23 L240.16,235.65 L239.81,236.07 L239.45,236.50 L239.05,236.95 L238.57,237.40 L238.06,237.85 L237.56,238.30 L237.11,238.75 L236.75,239.20 L236.49,239.66 L236.29,240.14 L236.15,240.62 L236.04,241.08 L235.94,241.48 L235.85,241.80 L235.78,242.03 L235.73,242.20 L235.70,242.31 L235.68,242.39 L235.50,242.45 L235.40,242.45 L235.23,242.39 L235.21,242.31 L235.18,242.20 L235.13,242.03 L235.05,241.80 L234.97,241.48 L234.87,241.08 L234.76,240.62 L234.61,240.14 L234.42,239.66 L234.15,239.20 L233.79,238.75 L233.34,238.30 L232.84,237.85 L232.34,237.40 L231.86,236.95 L231.45,236.50 L231.10,236.07 L230.74,235.65 L230.43,235.23 L230.16,234.81 L229.98,234.37 L229.90,233.90 L229.95,233.41 L230.11,232.91 L230.35,232.40 L230.64,231.86 L230.95,231.30 L231.25,230.70 L231.57,230.07 L231.94,229.41 L232.32,228.73 L232.70,228.02 L233.06,227.28 L233.35,226.50 L233.60,225.68 L233.80,224.81 L233.98,223.92 L234.13,223.01 L234.27,222.10 L234.40,221.20 L234.53,220.44 L234.64,219.83 L234.74,219.21 L234.82,218.45 L234.89,217.40 L234.95,215.90 L235.00,213.93 L235.02,211.60 L235.03,208.98 L235.04,206.13 L235.04,203.11 L235.05,200.00 L235.07,196.46 L235.09,192.36 L235.11,188.11 L235.13,184.07 L235.14,180.64 L235.15,178.20 L235.40,178.20Z" fill="#1c1c1c"/>
<path d="M235.50,218.45 L235.62,219.21 L235.72,219.83 L235.83,220.44 L235.95,221.20 L236.09,222.10 L236.23,223.01 L236.38,223.92 L236.56,224.81 L236.76,225.68 L237.00,226.50 L237.30,227.28 L237.65,228.02 L238.04,228.73 L238.42,229.41 L238.79,230.07 L239.10,230.70 L239.41,231.30 L239.72,231.86 L240.01,232.40 L240.25,232.91 L240.41,233.41 L240.45,233.90 L240.38,234.37 L240.19,234.81 L239.93,235.23 L239.61,235.65 L239.26,236.07 L238.90,236.50 L238.50,236.95 L238.02,237.40 L237.51,237.85 L237.01,238.30 L236.56,238.75 L236.20,239.20 L235.94,239.66 L235.74,240.14 L235.60,240.62 L235.50,241.08 L235.40,241.08 L235.31,240.62 L235.16,240.14 L234.97,239.66 L234.70,239.20 L234.34,238.75 L233.89,238.30 L233.39,237.85 L232.89,237.40 L232.41,236.95 L232.00,236.50 L231.65,236.07 L231.29,235.65 L230.98,235.23 L230.71,234.81 L230.53,234.37 L230.45,233.90 L230.50,233.41 L230.66,232.91 L230.90,232.40 L231.19,231.86 L231.50,231.30 L231.80,230.70 L232.12,230.07 L232.49,229.41 L232.87,228.73 L233.25,228.02 L233.61,227.28 L233.90,226.50 L234.15,225.68 L234.35,224.81 L234.53,223.92 L234.68,223.01 L234.82,222.10 L234.95,221.20 L235.08,220.44 L235.19,219.83 L235.29,219.21 L235.40,218.45Z" fill="#652270"/>
<line x1="235.45" y1="216.00" x2="235.45" y2="240.00" stroke="#262626" stroke-width="0.95"/>
<circle cx="235.45" cy="185.00" r="0.55" fill="#222"/>
<circle cx="235.45" cy="200.00" r="0.55" fill="#222"/>
<circle cx="235.45" cy="210.00" r="0.55" fill="#222"/>
<line x1="252.36" y1="160.40" x2="252.36" y2="250.00" stroke="#b4b4b4" stroke-width="0.8"/>
<path d="M252.41,160.40 L252.66,160.40 L252.67,163.21 L252.68,167.21 L252.70,171.89 L252.71,176.75 L252.73,181.29 L252.76,185.00 L252.78,187.88 L252.81,190.34 L252.84,192.47 L252.87,194.39 L252.91,196.20 L252.96,198.00 L253.01,199.74 L253.07,201.33 L253.13,202.81 L253.20,204.22 L253.28,205.60 L253.36,207.00 L253.45,208.40 L253.54,209.78 L253.65,211.12 L253.75,212.44 L253.86,213.74 L253.96,215.00 L254.06,216.25 L254.18,217.48 L254.29,218.69 L254.39,219.85 L254.49,220.96 L254.56,222.00 L254.61,222.94 L254.64,223.78 L254.66,224.56 L254.67,225.33 L254.67,226.13 L254.66,227.00 L254.63,227.95 L254.60,228.96 L254.55,230.00 L254.49,231.04 L254.43,232.05 L254.36,233.00 L254.28,233.89 L254.18,234.74 L254.08,235.56 L253.98,236.37 L253.87,237.18 L253.76,238.00 L253.64,238.81 L253.52,239.59 L253.40,240.38 L253.28,241.19 L253.16,242.05 L253.06,243.00 L252.96,244.13 L252.86,245.44 L252.76,246.81 L252.68,248.11 L252.61,249.22 L252.41,250.00 L252.31,250.00 L252.11,249.22 L252.04,248.11 L251.95,246.81 L251.86,245.44 L251.76,244.13 L251.66,243.00 L251.55,242.05 L251.44,241.19 L251.31,240.38 L251.19,239.59 L251.07,238.81 L250.96,238.00 L250.85,237.18 L250.74,236.37 L250.63,235.56 L250.53,234.74 L250.44,233.89 L250.36,233.00 L250.29,232.05 L250.22,231.04 L250.16,230.00 L250.12,228.96 L250.08,227.95 L250.06,227.00 L250.05,226.13 L250.04,225.33 L250.05,224.56 L250.07,223.78 L250.11,222.94 L250.16,222.00 L250.23,220.96 L250.32,219.85 L250.43,218.69 L250.54,217.48 L250.65,216.25 L250.76,215.00 L250.86,213.74 L250.97,212.44 L251.07,211.12 L251.17,209.78 L251.27,208.40 L251.36,207.00 L251.44,205.60 L251.51,204.22 L251.58,202.81 L251.65,201.33 L251.70,199.74 L251.76,198.00 L251.80,196.20 L251.84,194.39 L251.88,192.47 L251.91,190.34 L251.93,187.88 L251.96,185.00 L251.98,181.29 L252.00,176.75 L252.02,171.89 L252.04,167.21 L252.05,163.21 L252.06,160.40 L252.31,160.40Z" fill="#1c1c1c"/>
<path d="M252.41,199.74 L252.52,201.33 L252.58,202.81 L252.65,204.22 L252.73,205.60 L252.81,207.00 L252.90,208.40 L252.99,209.78 L253.10,211.12 L253.20,212.44 L253.31,213.74 L253.41,215.00 L253.51,216.25 L253.63,217.48 L253.74,218.69 L253.84,219.85 L253.94,220.96 L254.01,222.00 L254.06,222.94 L254.09,223.78 L254.11,224.56 L254.12,225.33 L254.12,226.13 L254.11,227.00 L254.08,227.95 L254.05,228.96 L254.00,230.00 L253.94,231.04 L253.88,232.05 L253.81,233.00 L253.73,233.89 L253.63,234.74 L253.53,235.56 L253.43,236.37 L253.32,237.18 L253.21,238.00 L253.09,238.81 L252.97,239.59 L252.85,240.38 L252.73,241.19 L252.61,242.05 L252.51,243.00 L252.41,244.13 L252.31,244.13 L252.21,243.00 L252.10,242.05 L251.99,241.19 L251.86,240.38 L251.74,239.59 L251.62,238.81 L251.51,238.00 L251.40,237.18 L251.29,236.37 L251.18,235.56 L251.08,234.74 L250.99,233.89 L250.91,233.00 L250.84,232.05 L250.77,231.04 L250.71,230.00 L250.67,228.96 L250.63,227.95 L250.61,227.00 L250.60,226.13 L250.59,225.33 L250.60,224.56 L250.62,223.78 L250.66,222.94 L250.71,222.00 L250.78,220.96 L250.87,219.85 L250.98,218.69 L251.09,217.48 L251.20,216.25 L251.31,215.00 L251.41,213.74 L251.52,212.44 L251.62,211.12 L251.72,209.78 L251.82,208.40 L251.91,207.00 L251.99,205.60 L252.06,204.22 L252.13,202.81 L252.20,201.33 L252.31,199.74Z" fill="#f59114"/>
<circle cx="252.36" cy="178.00" r="0.55" fill="#222"/>
<circle cx="252.36" cy="195.00" r="0.55" fill="#222"/>
<circle cx="252.36" cy="205.00" r="0.55" fill="#222"/>
<circle cx="252.36" cy="212.00" r="0.55" fill="#222"/>
<circle cx="252.36" cy="218.00" r="0.55" fill="#222"/>
<circle cx="252.36" cy="224.00" r="0.55" fill="#222"/>
<circle cx="252.36" cy="230.00" r="0.55" fill="#222"/>
<rect x="174.60" y="156.20" width="87.90" height="98.80" fill="none" stroke="#2b2b2b" stroke-width="1.2"/>
<text x="0" y="0" font-size="9.900" text-anchor="middle" font-weight="normal" fill="#231f20" transform="translate(337.20 153.30) scale(0.9091 1)" >FLT3</text>
<line x1="292.40" y1="236.70" x2="295.00" y2="236.70" stroke="#333" stroke-width="0.9"/>
<text x="0" y="0" font-size="8.424" text-anchor="end" font-weight="normal" fill="#231f20" transform="translate(290.70 239.50) scale(0.9259 1)" >0</text>
<line x1="292.40" y1="208.15" x2="295.00" y2="208.15" stroke="#333" stroke-width="0.9"/>
<text x="0" y="0" font-size="8.424" text-anchor="end" font-weight="normal" fill="#231f20" transform="translate(290.70 210.95) scale(0.9259 1)" >1000</text>
<line x1="292.40" y1="179.60" x2="295.00" y2="179.60" stroke="#333" stroke-width="0.9"/>
<text x="0" y="0" font-size="8.424" text-anchor="end" font-weight="normal" fill="#231f20" transform="translate(290.70 182.40) scale(0.9259 1)" >2000</text>
<line x1="305.11" y1="255.00" x2="305.11" y2="257.60" stroke="#333" stroke-width="0.9"/>
<text x="0" y="0" font-size="8.208" text-anchor="end" fill="#231f20" transform="translate(309.11 263.50) rotate(-45) scale(0.9259 1)">NBM</text>
<line x1="321.95" y1="255.00" x2="321.95" y2="257.60" stroke="#333" stroke-width="0.9"/>
<text x="0" y="0" font-size="8.208" text-anchor="end" fill="#231f20" transform="translate(325.95 263.50) rotate(-45) scale(0.9259 1)">AML</text>
<line x1="338.80" y1="255.00" x2="338.80" y2="257.60" stroke="#333" stroke-width="0.9"/>
<text x="0" y="0" font-size="8.208" text-anchor="end" fill="#231f20" transform="translate(342.80 263.50) rotate(-45) scale(0.9259 1)">MDS</text>
<line x1="355.65" y1="255.00" x2="355.65" y2="257.60" stroke="#333" stroke-width="0.9"/>
<text x="0" y="0" font-size="8.208" text-anchor="end" fill="#231f20" transform="translate(359.65 263.50) rotate(-45) scale(0.9259 1)">sAML</text>
<line x1="372.49" y1="255.00" x2="372.49" y2="257.60" stroke="#333" stroke-width="0.9"/>
<text x="0" y="0" font-size="8.208" text-anchor="end" fill="#231f20" transform="translate(376.49 263.50) rotate(-45) scale(0.9259 1)">tAML</text>
<line x1="305.11" y1="223.20" x2="305.11" y2="227.50" stroke="#b4b4b4" stroke-width="0.8"/>
<path d="M305.16,223.20 L305.41,223.20 L305.67,223.32 L306.02,223.48 L306.44,223.68 L306.93,223.89 L307.49,224.10 L308.11,224.30 L308.94,224.50 L310.01,224.70 L311.15,224.91 L312.17,225.11 L312.92,225.31 L313.21,225.50 L312.92,225.68 L312.17,225.85 L311.15,226.01 L310.01,226.17 L308.94,226.34 L308.11,226.50 L307.49,226.68 L306.93,226.87 L306.44,227.06 L306.02,227.24 L305.67,227.39 L305.41,227.50 L305.16,227.50 L305.06,227.50 L304.81,227.50 L304.54,227.39 L304.20,227.24 L303.78,227.06 L303.29,226.87 L302.73,226.68 L302.11,226.50 L301.28,226.34 L300.21,226.17 L299.07,226.01 L298.04,225.85 L297.30,225.68 L297.01,225.50 L297.30,225.31 L298.04,225.11 L299.07,224.91 L300.21,224.70 L301.28,224.50 L302.11,224.30 L302.73,224.10 L303.29,223.89 L303.78,223.68 L304.20,223.48 L304.54,223.32 L304.81,223.20 L305.06,223.20Z" fill="#1c1c1c"/>
<path d="M305.16,223.32 L305.47,223.48 L305.89,223.68 L306.38,223.89 L306.94,224.10 L307.56,224.30 L308.39,224.50 L309.46,224.70 L310.60,224.91 L311.62,225.11 L312.37,225.31 L312.66,225.50 L312.37,225.68 L311.62,225.85 L310.60,226.01 L309.46,226.17 L308.39,226.34 L307.56,226.50 L306.94,226.68 L306.38,226.87 L305.89,227.06 L305.47,227.24 L305.16,227.39 L305.06,227.39 L304.75,227.24 L304.33,227.06 L303.84,226.87 L303.28,226.68 L302.66,226.50 L301.83,226.34 L300.76,226.17 L299.62,226.01 L298.59,225.85 L297.85,225.68 L297.56,225.50 L297.85,225.31 L298.59,225.11 L299.62,224.91 L300.76,224.70 L301.83,224.50 L302.66,224.30 L303.28,224.10 L303.84,223.89 L304.33,223.68 L304.75,223.48 L305.06,223.32Z" fill="#e5192d"/>
<line x1="305.11" y1="223.00" x2="305.11" y2="228.50" stroke="#262626" stroke-width="0.95"/>
<circle cx="305.11" cy="223.20" r="0.55" fill="#222"/>
<circle cx="305.11" cy="228.60" r="0.55" fill="#222"/>
<line x1="321.95" y1="160.40" x2="321.95" y2="242.50" stroke="#555" stroke-width="0.8"/>
<path d="M322.00,160.40 L322.25,160.40 L322.26,165.05 L322.26,171.76 L322.27,179.58 L322.28,187.53 L322.29,194.65 L322.30,200.00 L322.32,203.40 L322.34,205.60 L322.36,206.97 L322.38,207.91 L322.41,208.79 L322.45,210.00 L322.51,211.47 L322.57,212.89 L322.64,214.25 L322.71,215.56 L322.79,216.81 L322.85,218.00 L322.92,219.14 L322.99,220.22 L323.05,221.25 L323.11,222.22 L323.17,223.14 L323.20,224.00 L323.23,224.77 L323.24,225.44 L323.25,226.06 L323.24,226.67 L323.23,227.30 L323.20,228.00 L323.17,228.78 L323.12,229.59 L323.06,230.44 L322.99,231.30 L322.92,232.16 L322.85,233.00 L322.78,233.84 L322.70,234.69 L322.62,235.53 L322.54,236.37 L322.47,237.20 L322.40,238.00 L322.35,238.83 L322.30,239.70 L322.25,240.56 L322.21,241.35 L322.18,242.02 L322.00,242.50 L321.90,242.50 L321.73,242.02 L321.70,241.35 L321.66,240.56 L321.61,239.70 L321.56,238.83 L321.50,238.00 L321.44,237.20 L321.36,236.37 L321.29,235.53 L321.20,234.69 L321.13,233.84 L321.05,233.00 L320.99,232.16 L320.92,231.30 L320.85,230.44 L320.79,229.59 L320.74,228.78 L320.70,228.00 L320.68,227.30 L320.66,226.67 L320.66,226.06 L320.66,225.44 L320.68,224.77 L320.70,224.00 L320.74,223.14 L320.79,222.22 L320.85,221.25 L320.92,220.22 L320.99,219.14 L321.05,218.00 L321.12,216.81 L321.19,215.56 L321.27,214.25 L321.34,212.89 L321.40,211.47 L321.45,210.00 L321.49,208.79 L321.53,207.91 L321.55,206.97 L321.57,205.60 L321.59,203.40 L321.60,200.00 L321.62,194.65 L321.63,187.53 L321.64,179.58 L321.64,171.76 L321.65,165.05 L321.65,160.40 L321.90,160.40Z" fill="#1c1c1c"/>
<path d="M322.00,212.89 L322.09,214.25 L322.16,215.56 L322.24,216.81 L322.30,218.00 L322.37,219.14 L322.44,220.22 L322.50,221.25 L322.56,222.22 L322.62,223.14 L322.65,224.00 L322.68,224.77 L322.69,225.44 L322.70,226.06 L322.69,226.67 L322.68,227.30 L322.65,228.00 L322.62,228.78 L322.57,229.59 L322.51,230.44 L322.44,231.30 L322.37,232.16 L322.30,233.00 L322.23,233.84 L322.15,234.69 L322.00,235.53 L321.90,235.53 L321.75,234.69 L321.68,233.84 L321.60,233.00 L321.54,232.16 L321.47,231.30 L321.40,230.44 L321.34,229.59 L321.29,228.78 L321.25,228.00 L321.23,227.30 L321.21,226.67 L321.21,226.06 L321.21,225.44 L321.23,224.77 L321.25,224.00 L321.29,223.14 L321.34,222.22 L321.40,221.25 L321.47,220.22 L321.54,219.14 L321.60,218.00 L321.67,216.81 L321.74,215.56 L321.82,214.25 L321.90,212.89Z" fill="#0b0f1a"/>
<circle cx="321.95" cy="168.00" r="0.55" fill="#222"/>
<circle cx="321.95" cy="188.00" r="0.55" fill="#222"/>
<circle cx="321.95" cy="195.00" r="0.55" fill="#222"/>
<circle cx="321.95" cy="200.00" r="0.55" fill="#222"/>
<circle cx="321.95" cy="205.00" r="0.55" fill="#222"/>
<circle cx="321.95" cy="210.00" r="0.55" fill="#222"/>
<line x1="338.80" y1="195.00" x2="338.80" y2="244.20" stroke="#555" stroke-width="0.8"/>
<path d="M338.85,195.00 L339.10,195.00 L339.11,196.71 L339.11,199.15 L339.12,202.00 L339.14,204.96 L339.16,207.73 L339.20,210.00 L339.25,211.76 L339.31,213.26 L339.38,214.56 L339.45,215.74 L339.52,216.86 L339.60,218.00 L339.68,219.14 L339.77,220.22 L339.86,221.25 L339.95,222.22 L340.03,223.14 L340.10,224.00 L340.16,224.78 L340.21,225.48 L340.25,226.12 L340.28,226.74 L340.30,227.36 L340.30,228.00 L340.28,228.66 L340.25,229.30 L340.20,229.94 L340.14,230.59 L340.07,231.28 L340.00,232.00 L339.92,232.75 L339.81,233.51 L339.71,234.30 L339.60,235.13 L339.49,236.03 L339.40,237.00 L339.32,238.16 L339.24,239.50 L339.16,240.91 L339.10,242.25 L339.04,243.39 L338.85,244.20 L338.75,244.20 L338.56,243.39 L338.50,242.25 L338.44,240.91 L338.36,239.50 L338.28,238.16 L338.20,237.00 L338.11,236.03 L338.00,235.13 L337.89,234.30 L337.79,233.51 L337.68,232.75 L337.60,232.00 L337.53,231.28 L337.46,230.59 L337.40,229.94 L337.35,229.30 L337.32,228.66 L337.30,228.00 L337.30,227.36 L337.32,226.74 L337.35,226.12 L337.39,225.48 L337.44,224.78 L337.50,224.00 L337.57,223.14 L337.65,222.22 L337.74,221.25 L337.83,220.22 L337.92,219.14 L338.00,218.00 L338.08,216.86 L338.15,215.74 L338.23,214.56 L338.29,213.26 L338.35,211.76 L338.40,210.00 L338.44,207.73 L338.46,204.96 L338.48,202.00 L338.49,199.15 L338.49,196.71 L338.50,195.00 L338.75,195.00Z" fill="#1c1c1c"/>
<path d="M338.85,215.74 L338.97,216.86 L339.05,218.00 L339.13,219.14 L339.22,220.22 L339.31,221.25 L339.40,222.22 L339.48,223.14 L339.55,224.00 L339.61,224.78 L339.66,225.48 L339.70,226.12 L339.73,226.74 L339.75,227.36 L339.75,228.00 L339.73,228.66 L339.70,229.30 L339.65,229.94 L339.59,230.59 L339.52,231.28 L339.45,232.00 L339.37,232.75 L339.26,233.51 L339.16,234.30 L339.05,235.13 L338.94,236.03 L338.85,237.00 L338.75,237.00 L338.66,236.03 L338.55,235.13 L338.44,234.30 L338.34,233.51 L338.23,232.75 L338.15,232.00 L338.08,231.28 L338.01,230.59 L337.95,229.94 L337.90,229.30 L337.87,228.66 L337.85,228.00 L337.85,227.36 L337.87,226.74 L337.90,226.12 L337.94,225.48 L337.99,224.78 L338.05,224.00 L338.12,223.14 L338.20,222.22 L338.29,221.25 L338.38,220.22 L338.47,219.14 L338.55,218.00 L338.63,216.86 L338.75,215.74Z" fill="#173a20"/>
<circle cx="338.80" cy="205.00" r="0.55" fill="#222"/>
<circle cx="338.80" cy="212.00" r="0.55" fill="#222"/>
<circle cx="338.80" cy="222.00" r="0.55" fill="#222"/>
<circle cx="338.80" cy="226.00" r="0.55" fill="#222"/>
<line x1="355.65" y1="194.20" x2="355.65" y2="239.90" stroke="#555" stroke-width="0.8"/>
<path d="M355.70,194.20 L355.95,194.20 L355.95,195.77 L355.96,197.99 L355.97,200.60 L355.99,203.32 L356.01,205.88 L356.05,208.00 L356.09,209.69 L356.15,211.17 L356.21,212.49 L356.28,213.70 L356.36,214.85 L356.45,216.00 L356.55,217.13 L356.67,218.19 L356.80,219.19 L356.93,220.15 L357.05,221.08 L357.15,222.00 L357.23,222.90 L357.30,223.78 L357.36,224.62 L357.41,225.44 L357.44,226.24 L357.45,227.00 L357.42,227.72 L357.38,228.41 L357.31,229.06 L357.23,229.70 L357.14,230.34 L357.05,231.00 L356.94,231.66 L356.83,232.30 L356.70,232.94 L356.58,233.60 L356.45,234.28 L356.35,235.00 L356.25,235.82 L356.15,236.75 L356.05,237.70 L355.97,238.60 L355.90,239.36 L355.70,239.90 L355.60,239.90 L355.39,239.36 L355.32,238.60 L355.24,237.70 L355.15,236.75 L355.05,235.82 L354.95,235.00 L354.84,234.28 L354.72,233.60 L354.59,232.94 L354.46,232.30 L354.35,231.66 L354.25,231.00 L354.15,230.34 L354.06,229.70 L353.98,229.06 L353.92,228.41 L353.87,227.72 L353.85,227.00 L353.85,226.24 L353.88,225.44 L353.93,224.62 L353.99,223.78 L354.06,222.90 L354.15,222.00 L354.24,221.08 L354.36,220.15 L354.49,219.19 L354.62,218.19 L354.74,217.13 L354.85,216.00 L354.93,214.85 L355.01,213.70 L355.08,212.49 L355.15,211.17 L355.20,209.69 L355.25,208.00 L355.28,205.88 L355.31,203.32 L355.32,200.60 L355.33,197.99 L355.34,195.77 L355.35,194.20 L355.60,194.20Z" fill="#1c1c1c"/>
<path d="M355.70,213.70 L355.81,214.85 L355.90,216.00 L356.00,217.13 L356.12,218.19 L356.25,219.19 L356.38,220.15 L356.50,221.08 L356.60,222.00 L356.68,222.90 L356.75,223.78 L356.81,224.62 L356.86,225.44 L356.89,226.24 L356.90,227.00 L356.87,227.72 L356.83,228.41 L356.76,229.06 L356.68,229.70 L356.59,230.34 L356.50,231.00 L356.39,231.66 L356.28,232.30 L356.15,232.94 L356.03,233.60 L355.90,234.28 L355.80,235.00 L355.70,235.82 L355.60,235.82 L355.50,235.00 L355.39,234.28 L355.27,233.60 L355.14,232.94 L355.01,232.30 L354.90,231.66 L354.80,231.00 L354.70,230.34 L354.61,229.70 L354.53,229.06 L354.47,228.41 L354.42,227.72 L354.40,227.00 L354.40,226.24 L354.43,225.44 L354.48,224.62 L354.54,223.78 L354.61,222.90 L354.70,222.00 L354.79,221.08 L354.91,220.15 L355.04,219.19 L355.17,218.19 L355.29,217.13 L355.40,216.00 L355.48,214.85 L355.60,213.70Z" fill="#2a1036"/>
<circle cx="355.65" cy="200.00" r="0.55" fill="#222"/>
<circle cx="355.65" cy="205.00" r="0.55" fill="#222"/>
<circle cx="355.65" cy="210.00" r="0.55" fill="#222"/>
<line x1="372.49" y1="187.10" x2="372.49" y2="250.00" stroke="#555" stroke-width="0.8"/>
<path d="M372.54,187.10 L372.79,187.10 L372.81,188.54 L372.83,190.55 L372.85,192.92 L372.88,195.44 L372.91,197.87 L372.94,200.00 L372.98,201.83 L373.02,203.55 L373.06,205.18 L373.11,206.77 L373.15,208.37 L373.19,210.00 L373.24,211.69 L373.29,213.41 L373.34,215.12 L373.38,216.81 L373.42,218.45 L373.44,220.00 L373.45,221.45 L373.46,222.81 L373.45,224.12 L373.44,225.41 L373.42,226.69 L373.39,228.00 L373.35,229.34 L373.29,230.70 L373.23,232.06 L373.16,233.41 L373.10,234.72 L373.04,236.00 L372.99,237.22 L372.95,238.41 L372.90,239.56 L372.86,240.70 L372.82,241.84 L372.79,243.00 L372.77,244.25 L372.74,245.59 L372.73,246.94 L372.71,248.19 L372.54,249.24 L372.44,249.24 L372.27,248.19 L372.26,246.94 L372.24,245.59 L372.22,244.25 L372.19,243.00 L372.16,241.84 L372.12,240.70 L372.08,239.56 L372.04,238.41 L371.99,237.22 L371.94,236.00 L371.89,234.72 L371.82,233.41 L371.75,232.06 L371.69,230.70 L371.63,229.34 L371.59,228.00 L371.56,226.69 L371.54,225.41 L371.53,224.12 L371.53,222.81 L371.53,221.45 L371.54,220.00 L371.57,218.45 L371.60,216.81 L371.65,215.12 L371.70,213.41 L371.75,211.69 L371.79,210.00 L371.84,208.37 L371.88,206.77 L371.92,205.18 L371.97,203.55 L372.01,201.83 L372.04,200.00 L372.07,197.87 L372.11,195.44 L372.13,192.92 L372.16,190.55 L372.18,188.54 L372.19,187.10 L372.44,187.10Z" fill="#1c1c1c"/>
<path d="M372.54,208.37 L372.64,210.00 L372.69,211.69 L372.74,213.41 L372.79,215.12 L372.83,216.81 L372.87,218.45 L372.89,220.00 L372.90,221.45 L372.91,222.81 L372.90,224.12 L372.89,225.41 L372.87,226.69 L372.84,228.00 L372.80,229.34 L372.74,230.70 L372.68,232.06 L372.61,233.41 L372.54,234.72 L372.44,234.72 L372.37,233.41 L372.30,232.06 L372.24,230.70 L372.18,229.34 L372.14,228.00 L372.11,226.69 L372.09,225.41 L372.08,224.12 L372.08,222.81 L372.08,221.45 L372.09,220.00 L372.12,218.45 L372.15,216.81 L372.20,215.12 L372.25,213.41 L372.30,211.69 L372.34,210.00 L372.44,208.37Z" fill="#4a3415"/>
<circle cx="372.49" cy="195.00" r="0.55" fill="#222"/>
<circle cx="372.49" cy="203.00" r="0.55" fill="#222"/>
<circle cx="372.49" cy="210.00" r="0.55" fill="#222"/>
<circle cx="372.49" cy="218.00" r="0.55" fill="#222"/>
<circle cx="372.49" cy="225.00" r="0.55" fill="#222"/>
<circle cx="372.49" cy="231.00" r="0.55" fill="#222"/>
<rect x="295.00" y="156.20" width="87.60" height="98.80" fill="none" stroke="#2b2b2b" stroke-width="1.2"/>
<text x="0" y="0" font-size="9.900" text-anchor="middle" font-weight="normal" fill="#231f20" transform="translate(462.10 153.30) scale(0.9091 1)" >CD33</text>
<line x1="417.00" y1="230.20" x2="419.60" y2="230.20" stroke="#333" stroke-width="0.9"/>
<text x="0" y="0" font-size="8.424" text-anchor="end" font-weight="normal" fill="#231f20" transform="translate(415.30 233.00) scale(0.9259 1)" >0</text>
<line x1="417.00" y1="203.25" x2="419.60" y2="203.25" stroke="#333" stroke-width="0.9"/>
<text x="0" y="0" font-size="8.424" text-anchor="end" font-weight="normal" fill="#231f20" transform="translate(415.30 206.05) scale(0.9259 1)" >10000</text>
<line x1="417.00" y1="176.30" x2="419.60" y2="176.30" stroke="#333" stroke-width="0.9"/>
<text x="0" y="0" font-size="8.424" text-anchor="end" font-weight="normal" fill="#231f20" transform="translate(415.30 179.10) scale(0.9259 1)" >20000</text>
<line x1="429.68" y1="255.00" x2="429.68" y2="257.60" stroke="#333" stroke-width="0.9"/>
<text x="0" y="0" font-size="8.208" text-anchor="end" fill="#231f20" transform="translate(433.68 263.50) rotate(-45) scale(0.9259 1)">NBM</text>
<line x1="446.49" y1="255.00" x2="446.49" y2="257.60" stroke="#333" stroke-width="0.9"/>
<text x="0" y="0" font-size="8.208" text-anchor="end" fill="#231f20" transform="translate(450.49 263.50) rotate(-45) scale(0.9259 1)">AML</text>
<line x1="463.30" y1="255.00" x2="463.30" y2="257.60" stroke="#333" stroke-width="0.9"/>
<text x="0" y="0" font-size="8.208" text-anchor="end" fill="#231f20" transform="translate(467.30 263.50) rotate(-45) scale(0.9259 1)">MDS</text>
<line x1="480.11" y1="255.00" x2="480.11" y2="257.60" stroke="#333" stroke-width="0.9"/>
<text x="0" y="0" font-size="8.208" text-anchor="end" fill="#231f20" transform="translate(484.11 263.50) rotate(-45) scale(0.9259 1)">sAML</text>
<line x1="496.92" y1="255.00" x2="496.92" y2="257.60" stroke="#333" stroke-width="0.9"/>
<text x="0" y="0" font-size="8.208" text-anchor="end" fill="#231f20" transform="translate(500.92 263.50) rotate(-45) scale(0.9259 1)">tAML</text>
<line x1="429.68" y1="220.50" x2="429.68" y2="231.10" stroke="#b4b4b4" stroke-width="0.8"/>
<path d="M429.73,220.50 L429.98,220.50 L432.08,222.50 L435.48,224.00 L438.18,224.70 L436.18,225.50 L432.88,227.50 L430.98,229.50 L429.98,231.10 L429.73,231.10 L429.63,231.10 L429.38,231.10 L428.38,229.50 L426.48,227.50 L423.18,225.50 L421.18,224.70 L423.88,224.00 L427.28,222.50 L429.38,220.50 L429.63,220.50Z" fill="#1c1c1c"/>
<path d="M429.73,220.50 L431.53,222.50 L434.93,224.00 L437.63,224.70 L435.63,225.50 L432.33,227.50 L430.43,229.50 L429.73,231.10 L429.63,231.10 L428.93,229.50 L427.03,227.50 L423.73,225.50 L421.73,224.70 L424.43,224.00 L427.83,222.50 L429.63,220.50Z" fill="#e5192d"/>
<line x1="429.68" y1="221.00" x2="429.68" y2="230.00" stroke="#262626" stroke-width="0.95"/>
<line x1="446.49" y1="160.40" x2="446.49" y2="244.20" stroke="#888" stroke-width="0.8"/>
<path d="M446.54,203.21 L446.72,205.16 L446.73,206.22 L446.75,206.80 L446.77,207.26 L446.79,208.00 L446.82,208.91 L446.84,209.67 L446.87,210.31 L446.91,210.89 L446.95,211.44 L446.99,212.00 L447.05,212.56 L447.11,213.07 L447.18,213.56 L447.25,214.04 L447.32,214.51 L447.39,215.00 L447.46,215.49 L447.53,215.96 L447.60,216.44 L447.67,216.93 L447.73,217.44 L447.79,218.00 L447.85,218.60 L447.90,219.24 L447.95,219.91 L448.00,220.60 L448.04,221.30 L448.09,222.00 L448.15,222.72 L448.21,223.47 L448.27,224.23 L448.33,224.98 L448.37,225.71 L448.39,226.40 L448.39,227.05 L448.37,227.68 L448.34,228.29 L448.29,228.87 L448.24,229.44 L448.19,230.00 L448.14,230.53 L448.08,231.03 L448.01,231.51 L447.94,231.99 L447.87,232.48 L447.79,233.00 L447.71,233.55 L447.63,234.13 L447.54,234.72 L447.46,235.31 L447.37,235.91 L447.29,236.50 L447.22,237.08 L447.14,237.64 L447.07,238.21 L447.01,238.78 L446.95,239.38 L446.89,240.00 L446.85,240.71 L446.80,241.50 L446.77,242.32 L446.74,243.09 L446.54,243.73 L446.44,243.73 L446.25,243.09 L446.22,242.32 L446.18,241.50 L446.14,240.71 L446.09,240.00 L446.04,239.38 L445.98,238.78 L445.91,238.21 L445.84,237.64 L445.77,237.08 L445.69,236.50 L445.61,235.91 L445.53,235.31 L445.44,234.72 L445.36,234.13 L445.27,233.55 L445.19,233.00 L445.12,232.48 L445.04,231.99 L444.97,231.51 L444.91,231.03 L444.85,230.53 L444.79,230.00 L444.74,229.44 L444.69,228.87 L444.65,228.29 L444.61,227.68 L444.59,227.05 L444.59,226.40 L444.61,225.71 L444.66,224.98 L444.71,224.23 L444.77,223.47 L444.84,222.72 L444.89,222.00 L444.94,221.30 L444.99,220.60 L445.04,219.91 L445.08,219.24 L445.14,218.60 L445.19,218.00 L445.25,217.44 L445.32,216.93 L445.39,216.44 L445.46,215.96 L445.52,215.49 L445.59,215.00 L445.66,214.51 L445.73,214.04 L445.80,213.56 L445.87,213.07 L445.94,212.56 L445.99,212.00 L446.04,211.44 L446.08,210.89 L446.11,210.31 L446.14,209.67 L446.17,208.91 L446.19,208.00 L446.22,207.26 L446.23,206.80 L446.25,206.22 L446.27,205.16 L446.44,203.21Z" fill="#1c1c1c"/>
<path d="M446.54,213.07 L446.63,213.56 L446.70,214.04 L446.77,214.51 L446.84,215.00 L446.91,215.49 L446.98,215.96 L447.05,216.44 L447.12,216.93 L447.18,217.44 L447.24,218.00 L447.30,218.60 L447.35,219.24 L447.40,219.91 L447.45,220.60 L447.49,221.30 L447.54,222.00 L447.60,222.72 L447.66,223.47 L447.72,224.23 L447.78,224.98 L447.82,225.71 L447.84,226.40 L447.84,227.05 L447.82,227.68 L447.79,228.29 L447.74,228.87 L447.69,229.44 L447.64,230.00 L447.59,230.53 L447.53,231.03 L447.46,231.51 L447.39,231.99 L447.32,232.48 L447.24,233.00 L447.16,233.55 L447.08,234.13 L446.99,234.72 L446.91,235.31 L446.82,235.91 L446.74,236.50 L446.67,237.08 L446.54,237.64 L446.44,237.64 L446.32,237.08 L446.24,236.50 L446.16,235.91 L446.08,235.31 L445.99,234.72 L445.91,234.13 L445.82,233.55 L445.74,233.00 L445.67,232.48 L445.59,231.99 L445.52,231.51 L445.46,231.03 L445.40,230.53 L445.34,230.00 L445.29,229.44 L445.24,228.87 L445.20,228.29 L445.16,227.68 L445.14,227.05 L445.14,226.40 L445.16,225.71 L445.21,224.98 L445.26,224.23 L445.32,223.47 L445.39,222.72 L445.44,222.00 L445.49,221.30 L445.54,220.60 L445.59,219.91 L445.63,219.24 L445.69,218.60 L445.74,218.00 L445.80,217.44 L445.87,216.93 L445.94,216.44 L446.01,215.96 L446.07,215.49 L446.14,215.00 L446.21,214.51 L446.28,214.04 L446.35,213.56 L446.44,213.07Z" fill="#0e5896"/>
<circle cx="446.49" cy="175.00" r="0.55" fill="#222"/>
<circle cx="446.49" cy="182.00" r="0.55" fill="#222"/>
<circle cx="446.49" cy="190.00" r="0.55" fill="#222"/>
<circle cx="446.49" cy="196.00" r="0.55" fill="#222"/>
<circle cx="446.49" cy="203.00" r="0.55" fill="#222"/>
<line x1="463.30" y1="200.20" x2="463.30" y2="235.70" stroke="#b4b4b4" stroke-width="0.8"/>
<path d="M463.35,200.20 L463.60,200.20 L463.64,200.73 L463.69,201.47 L463.74,202.35 L463.81,203.28 L463.90,204.19 L464.00,205.00 L464.12,205.71 L464.26,206.39 L464.42,207.05 L464.58,207.70 L464.74,208.34 L464.90,209.00 L465.06,209.67 L465.22,210.35 L465.38,211.03 L465.54,211.70 L465.68,212.36 L465.80,213.00 L465.90,213.61 L466.00,214.20 L466.07,214.78 L466.14,215.35 L466.18,215.92 L466.20,216.50 L466.20,217.08 L466.17,217.65 L466.13,218.22 L466.07,218.80 L465.99,219.39 L465.90,220.00 L465.78,220.64 L465.64,221.30 L465.49,221.97 L465.32,222.65 L465.16,223.33 L465.00,224.00 L464.85,224.62 L464.69,225.20 L464.53,225.77 L464.38,226.39 L464.23,227.12 L464.10,228.00 L463.98,229.16 L463.86,230.58 L463.74,232.10 L463.64,233.57 L463.56,234.82 L463.35,235.70 L463.25,235.70 L463.04,234.82 L462.96,233.57 L462.86,232.10 L462.74,230.58 L462.62,229.16 L462.50,228.00 L462.37,227.12 L462.22,226.39 L462.07,225.77 L461.91,225.20 L461.75,224.62 L461.60,224.00 L461.44,223.33 L461.28,222.65 L461.11,221.97 L460.96,221.30 L460.82,220.64 L460.70,220.00 L460.61,219.39 L460.53,218.80 L460.47,218.22 L460.43,217.65 L460.40,217.08 L460.40,216.50 L460.42,215.92 L460.46,215.35 L460.53,214.78 L460.60,214.20 L460.70,213.61 L460.80,213.00 L460.92,212.36 L461.06,211.70 L461.22,211.03 L461.38,210.35 L461.54,209.67 L461.70,209.00 L461.86,208.34 L462.02,207.70 L462.18,207.05 L462.34,206.39 L462.48,205.71 L462.60,205.00 L462.70,204.19 L462.79,203.28 L462.86,202.35 L462.91,201.47 L462.96,200.73 L463.00,200.20 L463.25,200.20Z" fill="#1c1c1c"/>
<path d="M463.35,204.19 L463.45,205.00 L463.57,205.71 L463.71,206.39 L463.87,207.05 L464.03,207.70 L464.19,208.34 L464.35,209.00 L464.51,209.67 L464.67,210.35 L464.83,211.03 L464.99,211.70 L465.13,212.36 L465.25,213.00 L465.35,213.61 L465.45,214.20 L465.53,214.78 L465.59,215.35 L465.63,215.92 L465.65,216.50 L465.65,217.08 L465.62,217.65 L465.58,218.22 L465.52,218.80 L465.44,219.39 L465.35,220.00 L465.23,220.64 L465.09,221.30 L464.94,221.97 L464.77,222.65 L464.61,223.33 L464.45,224.00 L464.30,224.62 L464.14,225.20 L463.98,225.77 L463.83,226.39 L463.68,227.12 L463.55,228.00 L463.43,229.16 L463.35,230.58 L463.25,230.58 L463.17,229.16 L463.05,228.00 L462.92,227.12 L462.77,226.39 L462.62,225.77 L462.46,225.20 L462.30,224.62 L462.15,224.00 L461.99,223.33 L461.83,222.65 L461.66,221.97 L461.51,221.30 L461.37,220.64 L461.25,220.00 L461.16,219.39 L461.08,218.80 L461.02,218.22 L460.98,217.65 L460.95,217.08 L460.95,216.50 L460.97,215.92 L461.01,215.35 L461.07,214.78 L461.15,214.20 L461.25,213.61 L461.35,213.00 L461.47,212.36 L461.61,211.70 L461.77,211.03 L461.93,210.35 L462.09,209.67 L462.25,209.00 L462.41,208.34 L462.57,207.70 L462.73,207.05 L462.89,206.39 L463.03,205.71 L463.15,205.00 L463.25,204.19Z" fill="#33b347"/>
<line x1="463.30" y1="205.00" x2="463.30" y2="228.00" stroke="#262626" stroke-width="0.95"/>
<circle cx="463.30" cy="210.00" r="0.55" fill="#222"/>
<circle cx="463.30" cy="216.00" r="0.55" fill="#222"/>
<circle cx="463.30" cy="221.00" r="0.55" fill="#222"/>
<line x1="480.11" y1="200.20" x2="480.11" y2="239.00" stroke="#b4b4b4" stroke-width="0.8"/>
<path d="M480.16,200.20 L480.41,200.20 L480.46,200.73 L480.52,201.47 L480.60,202.35 L480.69,203.28 L480.79,204.19 L480.91,205.00 L481.05,205.72 L481.22,206.43 L481.41,207.11 L481.59,207.77 L481.76,208.40 L481.91,209.00 L482.03,209.55 L482.14,210.04 L482.24,210.50 L482.32,210.96 L482.38,211.45 L482.41,212.00 L482.41,212.61 L482.37,213.26 L482.31,213.94 L482.24,214.63 L482.17,215.32 L482.11,216.00 L482.04,216.67 L481.96,217.33 L481.88,218.00 L481.81,218.67 L481.75,219.33 L481.71,220.00 L481.70,220.67 L481.73,221.33 L481.76,222.00 L481.80,222.67 L481.82,223.33 L481.81,224.00 L481.76,224.67 L481.69,225.33 L481.60,226.00 L481.50,226.67 L481.40,227.33 L481.31,228.00 L481.21,228.63 L481.11,229.22 L481.00,229.81 L480.90,230.44 L480.80,231.16 L480.71,232.00 L480.62,233.07 L480.54,234.37 L480.47,235.75 L480.40,237.07 L480.35,238.20 L480.16,239.00 L480.06,239.00 L479.87,238.20 L479.81,237.07 L479.75,235.75 L479.67,234.37 L479.59,233.07 L479.51,232.00 L479.42,231.16 L479.32,230.44 L479.21,229.81 L479.11,229.22 L479.00,228.63 L478.91,228.00 L478.81,227.33 L478.71,226.67 L478.61,226.00 L478.53,225.33 L478.46,224.67 L478.41,224.00 L478.40,223.33 L478.42,222.67 L478.45,222.00 L478.49,221.33 L478.51,220.67 L478.51,220.00 L478.47,219.33 L478.41,218.67 L478.33,218.00 L478.25,217.33 L478.17,216.67 L478.11,216.00 L478.04,215.32 L477.97,214.63 L477.90,213.94 L477.84,213.26 L477.81,212.61 L477.81,212.00 L477.84,211.45 L477.90,210.96 L477.98,210.50 L478.07,210.04 L478.19,209.55 L478.31,209.00 L478.45,208.40 L478.62,207.77 L478.81,207.11 L478.99,206.43 L479.16,205.72 L479.31,205.00 L479.43,204.19 L479.53,203.28 L479.62,202.35 L479.70,201.47 L479.76,200.73 L479.81,200.20 L480.06,200.20Z" fill="#1c1c1c"/>
<path d="M480.16,203.28 L480.24,204.19 L480.36,205.00 L480.50,205.72 L480.67,206.43 L480.86,207.11 L481.04,207.77 L481.21,208.40 L481.36,209.00 L481.48,209.55 L481.59,210.04 L481.69,210.50 L481.77,210.96 L481.83,211.45 L481.86,212.00 L481.86,212.61 L481.82,213.26 L481.76,213.94 L481.69,214.63 L481.62,215.32 L481.56,216.00 L481.49,216.67 L481.41,217.33 L481.33,218.00 L481.26,218.67 L481.20,219.33 L481.16,220.00 L481.15,220.67 L481.18,221.33 L481.21,222.00 L481.25,222.67 L481.27,223.33 L481.26,224.00 L481.21,224.67 L481.14,225.33 L481.05,226.00 L480.95,226.67 L480.85,227.33 L480.76,228.00 L480.66,228.63 L480.56,229.22 L480.45,229.81 L480.35,230.44 L480.25,231.16 L480.16,232.00 L480.06,232.00 L479.97,231.16 L479.87,230.44 L479.76,229.81 L479.66,229.22 L479.55,228.63 L479.46,228.00 L479.36,227.33 L479.26,226.67 L479.16,226.00 L479.08,225.33 L479.01,224.67 L478.96,224.00 L478.95,223.33 L478.97,222.67 L479.00,222.00 L479.04,221.33 L479.06,220.67 L479.06,220.00 L479.02,219.33 L478.96,218.67 L478.88,218.00 L478.80,217.33 L478.72,216.67 L478.66,216.00 L478.59,215.32 L478.52,214.63 L478.45,213.94 L478.39,213.26 L478.36,212.61 L478.36,212.00 L478.39,211.45 L478.45,210.96 L478.53,210.50 L478.62,210.04 L478.74,209.55 L478.86,209.00 L479.00,208.40 L479.17,207.77 L479.36,207.11 L479.54,206.43 L479.71,205.72 L479.86,205.00 L479.98,204.19 L480.06,203.28Z" fill="#652270"/>
<line x1="480.11" y1="205.00" x2="480.11" y2="232.00" stroke="#262626" stroke-width="0.95"/>
<circle cx="480.11" cy="224.00" r="0.55" fill="#222"/>
<line x1="496.92" y1="165.50" x2="496.92" y2="250.10" stroke="#b4b4b4" stroke-width="0.8"/>
<path d="M496.97,165.50 L497.22,165.50 L497.24,166.53 L497.26,167.94 L497.30,169.62 L497.33,171.44 L497.37,173.28 L497.42,175.00 L497.46,176.64 L497.51,178.30 L497.57,179.97 L497.62,181.65 L497.67,183.33 L497.72,185.00 L497.75,186.67 L497.79,188.33 L497.82,190.00 L497.85,191.67 L497.88,193.33 L497.92,195.00 L497.96,196.69 L498.01,198.41 L498.07,200.12 L498.12,201.81 L498.17,203.45 L498.22,205.00 L498.25,206.46 L498.29,207.85 L498.32,209.19 L498.35,210.48 L498.38,211.75 L498.42,213.00 L498.45,214.24 L498.50,215.44 L498.54,216.62 L498.58,217.78 L498.61,218.90 L498.62,220.00 L498.61,221.06 L498.59,222.07 L498.55,223.06 L498.51,224.04 L498.46,225.01 L498.42,226.00 L498.36,227.00 L498.30,228.00 L498.23,229.00 L498.16,230.00 L498.09,231.00 L498.02,232.00 L497.94,233.00 L497.85,234.00 L497.76,235.00 L497.67,236.00 L497.59,237.00 L497.52,238.00 L497.45,239.00 L497.39,240.00 L497.34,240.99 L497.29,241.99 L497.25,242.99 L497.22,244.00 L497.19,245.08 L497.16,246.25 L497.15,247.43 L496.97,248.51 L496.87,248.51 L496.68,247.43 L496.67,246.25 L496.64,245.08 L496.62,244.00 L496.58,242.99 L496.54,241.99 L496.49,240.99 L496.44,240.00 L496.38,239.00 L496.32,238.00 L496.24,237.00 L496.16,236.00 L496.07,235.00 L495.98,234.00 L495.90,233.00 L495.82,232.00 L495.74,231.00 L495.67,230.00 L495.60,229.00 L495.53,228.00 L495.47,227.00 L495.42,226.00 L495.37,225.01 L495.32,224.04 L495.28,223.06 L495.25,222.07 L495.22,221.06 L495.22,220.00 L495.23,218.90 L495.25,217.78 L495.29,216.62 L495.33,215.44 L495.38,214.24 L495.42,213.00 L495.45,211.75 L495.48,210.48 L495.51,209.19 L495.54,207.85 L495.58,206.46 L495.62,205.00 L495.66,203.45 L495.71,201.81 L495.77,200.12 L495.82,198.41 L495.87,196.69 L495.92,195.00 L495.95,193.33 L495.99,191.67 L496.02,190.00 L496.05,188.33 L496.08,186.67 L496.12,185.00 L496.16,183.33 L496.21,181.65 L496.27,179.97 L496.32,178.30 L496.37,176.64 L496.42,175.00 L496.46,173.28 L496.50,171.44 L496.53,169.62 L496.57,167.94 L496.59,166.53 L496.62,165.50 L496.87,165.50Z" fill="#1c1c1c"/>
<path d="M496.97,179.97 L497.07,181.65 L497.12,183.33 L497.17,185.00 L497.20,186.67 L497.24,188.33 L497.27,190.00 L497.30,191.67 L497.33,193.33 L497.37,195.00 L497.41,196.69 L497.46,198.41 L497.52,200.12 L497.57,201.81 L497.62,203.45 L497.67,205.00 L497.70,206.46 L497.74,207.85 L497.77,209.19 L497.80,210.48 L497.83,211.75 L497.87,213.00 L497.90,214.24 L497.95,215.44 L497.99,216.62 L498.03,217.78 L498.06,218.90 L498.07,220.00 L498.06,221.06 L498.04,222.07 L498.00,223.06 L497.96,224.04 L497.91,225.01 L497.87,226.00 L497.81,227.00 L497.75,228.00 L497.68,229.00 L497.61,230.00 L497.54,231.00 L497.47,232.00 L497.39,233.00 L497.30,234.00 L497.21,235.00 L497.12,236.00 L497.04,237.00 L496.97,238.00 L496.87,238.00 L496.79,237.00 L496.71,236.00 L496.62,235.00 L496.53,234.00 L496.45,233.00 L496.37,232.00 L496.29,231.00 L496.22,230.00 L496.15,229.00 L496.08,228.00 L496.02,227.00 L495.97,226.00 L495.92,225.01 L495.87,224.04 L495.83,223.06 L495.80,222.07 L495.77,221.06 L495.77,220.00 L495.78,218.90 L495.80,217.78 L495.84,216.62 L495.88,215.44 L495.93,214.24 L495.97,213.00 L496.00,211.75 L496.03,210.48 L496.06,209.19 L496.09,207.85 L496.13,206.46 L496.17,205.00 L496.21,203.45 L496.26,201.81 L496.32,200.12 L496.37,198.41 L496.42,196.69 L496.47,195.00 L496.50,193.33 L496.54,191.67 L496.57,190.00 L496.60,188.33 L496.63,186.67 L496.67,185.00 L496.71,183.33 L496.76,181.65 L496.87,179.97Z" fill="#f59114"/>
<circle cx="496.92" cy="188.00" r="0.55" fill="#222"/>
<circle cx="496.92" cy="206.00" r="0.55" fill="#222"/>
<circle cx="496.92" cy="217.00" r="0.55" fill="#222"/>
<circle cx="496.92" cy="221.00" r="0.55" fill="#222"/>
<circle cx="496.92" cy="228.00" r="0.55" fill="#222"/>
<text x="462.45" y="168.20" font-size="8.6" text-anchor="middle" font-weight="normal" fill="#111" letter-spacing="-0.5">**</text>
<rect x="419.60" y="156.20" width="87.40" height="98.80" fill="none" stroke="#2b2b2b" stroke-width="1.2"/>
<text x="0" y="0" font-size="9.6" text-anchor="middle" fill="#231f20" stroke="#231f20" stroke-width="0.2" transform="translate(20.1 132) rotate(-90) scale(0.66 1)">MFI</text>
<text x="11.20" y="15.50" font-size="10.5" text-anchor="start" font-weight="bold" fill="#231f20" >A</text>
<rect x="58.60" y="295.10" width="186.20" height="9.51" fill="#c52032"/>
<rect x="384.10" y="295.10" width="24.90" height="9.51" fill="#c52032"/>
<rect x="456.90" y="295.10" width="13.30" height="9.51" fill="#c52032"/>
<rect x="252.30" y="296.10" width="1.00" height="7.51" fill="#cfcfcf"/>
<rect x="346.50" y="296.10" width="3.00" height="7.51" fill="#cfcfcf"/>
<text x="0" y="0" font-size="8.268" text-anchor="end" font-weight="normal" fill="#231f20" transform="translate(56.30 302.50) scale(0.9434 1)" >CD97</text>
<text x="0" y="0" font-size="8.268" text-anchor="start" font-weight="normal" fill="#231f20" transform="translate(484.00 304.40) scale(0.9434 1)" >69,0%</text>
<rect x="58.60" y="304.61" width="122.40" height="9.51" fill="#c52032"/>
<rect x="245.20" y="304.61" width="46.30" height="9.51" fill="#c52032"/>
<rect x="389.10" y="304.61" width="6.50" height="9.51" fill="#c52032"/>
<rect x="397.20" y="304.61" width="3.30" height="9.51" fill="#c52032"/>
<rect x="407.10" y="304.61" width="11.90" height="9.51" fill="#c52032"/>
<rect x="456.90" y="304.61" width="12.00" height="9.51" fill="#c52032"/>
<rect x="470.20" y="304.61" width="6.60" height="9.51" fill="#c52032"/>
<rect x="235.40" y="305.61" width="1.00" height="7.51" fill="#cfcfcf"/>
<rect x="329.80" y="305.61" width="1.00" height="7.51" fill="#cfcfcf"/>
<rect x="437.30" y="305.61" width="1.00" height="7.51" fill="#cfcfcf"/>
<text x="0" y="0" font-size="8.268" text-anchor="end" font-weight="normal" fill="#231f20" transform="translate(56.30 312.01) scale(0.9434 1)" >IL1RAP</text>
<text x="0" y="0" font-size="8.268" text-anchor="start" font-weight="normal" fill="#231f20" transform="translate(484.00 313.70) scale(0.9434 1)" >64,0%</text>
<rect x="58.60" y="314.12" width="77.10" height="9.51" fill="#c52032"/>
<rect x="181.00" y="314.12" width="20.80" height="9.51" fill="#c52032"/>
<rect x="245.20" y="314.12" width="13.00" height="9.51" fill="#c52032"/>
<rect x="291.90" y="314.12" width="12.70" height="9.51" fill="#c52032"/>
<rect x="386.00" y="314.12" width="1.20" height="9.51" fill="#c52032"/>
<rect x="396.00" y="314.12" width="1.20" height="9.51" fill="#c52032"/>
<rect x="400.50" y="314.12" width="2.00" height="9.51" fill="#c52032"/>
<rect x="405.50" y="314.12" width="5.40" height="9.51" fill="#c52032"/>
<rect x="419.00" y="314.12" width="3.10" height="9.51" fill="#c52032"/>
<rect x="456.90" y="314.12" width="10.20" height="9.51" fill="#c52032"/>
<rect x="470.20" y="314.12" width="2.60" height="9.51" fill="#c52032"/>
<rect x="476.80" y="314.12" width="1.40" height="9.51" fill="#c52032"/>
<rect x="172.80" y="315.12" width="1.00" height="7.51" fill="#cfcfcf"/>
<rect x="240.40" y="315.12" width="1.00" height="7.51" fill="#cfcfcf"/>
<rect x="285.10" y="315.12" width="1.00" height="7.51" fill="#cfcfcf"/>
<rect x="311.40" y="315.12" width="1.00" height="7.51" fill="#cfcfcf"/>
<rect x="354.40" y="315.12" width="1.00" height="7.51" fill="#cfcfcf"/>
<rect x="433.90" y="315.12" width="1.00" height="7.51" fill="#cfcfcf"/>
<text x="0" y="0" font-size="8.268" text-anchor="end" font-weight="normal" fill="#231f20" transform="translate(56.30 321.52) scale(0.9434 1)" >CD123</text>
<text x="0" y="0" font-size="8.268" text-anchor="start" font-weight="normal" fill="#231f20" transform="translate(484.00 323.00) scale(0.9434 1)" >47,2%</text>
<rect x="58.60" y="323.63" width="4.40" height="9.51" fill="#c52032"/>
<rect x="65.10" y="323.63" width="1.50" height="9.51" fill="#c52032"/>
<rect x="68.20" y="323.63" width="4.60" height="9.51" fill="#c52032"/>
<rect x="75.10" y="323.63" width="2.70" height="9.51" fill="#c52032"/>
<rect x="84.80" y="323.63" width="1.30" height="9.51" fill="#c52032"/>
<rect x="88.20" y="323.63" width="1.50" height="9.51" fill="#c52032"/>
<rect x="93.20" y="323.63" width="1.50" height="9.51" fill="#c52032"/>
<rect x="95.80" y="323.63" width="2.30" height="9.51" fill="#c52032"/>
<rect x="101.20" y="323.63" width="4.60" height="9.51" fill="#c52032"/>
<rect x="109.60" y="323.63" width="1.60" height="9.51" fill="#c52032"/>
<rect x="113.10" y="323.63" width="11.50" height="9.51" fill="#c52032"/>
<rect x="136.10" y="323.63" width="3.10" height="9.51" fill="#c52032"/>
<rect x="181.00" y="323.63" width="10.80" height="9.51" fill="#c52032"/>
<rect x="202.20" y="323.63" width="4.60" height="9.51" fill="#c52032"/>
<rect x="245.20" y="323.63" width="3.00" height="9.51" fill="#c52032"/>
<rect x="258.50" y="323.63" width="14.70" height="9.51" fill="#c52032"/>
<rect x="291.50" y="323.63" width="6.20" height="9.51" fill="#c52032"/>
<rect x="305.00" y="323.63" width="5.00" height="9.51" fill="#c52032"/>
<rect x="387.50" y="323.63" width="1.20" height="9.51" fill="#c52032"/>
<rect x="394.10" y="323.63" width="1.50" height="9.51" fill="#c52032"/>
<rect x="397.20" y="323.63" width="4.90" height="9.51" fill="#c52032"/>
<rect x="405.50" y="323.63" width="8.50" height="9.51" fill="#c52032"/>
<rect x="422.10" y="323.63" width="11.50" height="9.51" fill="#c52032"/>
<rect x="456.90" y="323.63" width="4.90" height="9.51" fill="#c52032"/>
<rect x="467.10" y="323.63" width="1.30" height="9.51" fill="#c52032"/>
<rect x="470.20" y="323.63" width="1.30" height="9.51" fill="#c52032"/>
<rect x="473.70" y="323.63" width="1.30" height="9.51" fill="#c52032"/>
<rect x="172.80" y="324.63" width="1.00" height="7.51" fill="#cfcfcf"/>
<rect x="240.40" y="324.63" width="1.00" height="7.51" fill="#cfcfcf"/>
<rect x="285.10" y="324.63" width="1.00" height="7.51" fill="#cfcfcf"/>
<rect x="311.40" y="324.63" width="1.00" height="7.51" fill="#cfcfcf"/>
<rect x="354.40" y="324.63" width="1.00" height="7.51" fill="#cfcfcf"/>
<text x="0" y="0" font-size="8.268" text-anchor="end" font-weight="normal" fill="#231f20" transform="translate(56.30 331.03) scale(0.9434 1)" >CD25</text>
<text x="0" y="0" font-size="8.268" text-anchor="start" font-weight="normal" fill="#231f20" transform="translate(484.00 332.30) scale(0.9434 1)" >39,1%</text>
<rect x="59.70" y="333.14" width="0.80" height="9.51" fill="#c52032"/>
<rect x="62.00" y="333.14" width="2.70" height="9.51" fill="#c52032"/>
<rect x="68.20" y="333.14" width="3.40" height="9.51" fill="#c52032"/>
<rect x="76.60" y="333.14" width="1.20" height="9.51" fill="#c52032"/>
<rect x="80.10" y="333.14" width="1.50" height="9.51" fill="#c52032"/>
<rect x="90.10" y="333.14" width="2.70" height="9.51" fill="#c52032"/>
<rect x="94.70" y="333.14" width="1.50" height="9.51" fill="#c52032"/>
<rect x="98.10" y="333.14" width="1.50" height="9.51" fill="#c52032"/>
<rect x="101.20" y="333.14" width="1.50" height="9.51" fill="#c52032"/>
<rect x="113.10" y="333.14" width="2.70" height="9.51" fill="#c52032"/>
<rect x="124.60" y="333.14" width="1.60" height="9.51" fill="#c52032"/>
<rect x="139.20" y="333.14" width="10.00" height="9.51" fill="#c52032"/>
<rect x="181.00" y="333.14" width="4.60" height="9.51" fill="#c52032"/>
<rect x="192.20" y="333.14" width="3.40" height="9.51" fill="#c52032"/>
<rect x="202.20" y="333.14" width="13.00" height="9.51" fill="#c52032"/>
<rect x="245.20" y="333.14" width="4.50" height="9.51" fill="#c52032"/>
<rect x="258.50" y="333.14" width="1.20" height="9.51" fill="#c52032"/>
<rect x="273.50" y="333.14" width="1.20" height="9.51" fill="#c52032"/>
<rect x="291.50" y="333.14" width="5.00" height="9.51" fill="#c52032"/>
<rect x="298.10" y="333.14" width="1.50" height="9.51" fill="#c52032"/>
<rect x="310.00" y="333.14" width="13.10" height="9.51" fill="#c52032"/>
<rect x="391.00" y="333.14" width="1.20" height="9.51" fill="#c52032"/>
<rect x="396.00" y="333.14" width="1.20" height="9.51" fill="#c52032"/>
<rect x="404.00" y="333.14" width="1.50" height="9.51" fill="#c52032"/>
<rect x="414.00" y="333.14" width="3.10" height="9.51" fill="#c52032"/>
<rect x="422.10" y="333.14" width="4.60" height="9.51" fill="#c52032"/>
<rect x="434.00" y="333.14" width="1.20" height="9.51" fill="#c52032"/>
<rect x="456.90" y="333.14" width="1.80" height="9.51" fill="#c52032"/>
<rect x="462.20" y="333.14" width="1.30" height="9.51" fill="#c52032"/>
<rect x="468.40" y="333.14" width="1.30" height="9.51" fill="#c52032"/>
<rect x="473.30" y="333.14" width="6.60" height="9.51" fill="#c52032"/>
<rect x="346.50" y="334.14" width="3.00" height="7.51" fill="#cfcfcf"/>
<text x="0" y="0" font-size="8.268" text-anchor="end" font-weight="normal" fill="#231f20" transform="translate(56.30 340.54) scale(0.9434 1)" >CD82</text>
<text x="0" y="0" font-size="8.268" text-anchor="start" font-weight="normal" fill="#231f20" transform="translate(484.00 341.60) scale(0.9434 1)" >34,0%</text>
<rect x="59.70" y="342.65" width="1.90" height="9.51" fill="#c52032"/>
<rect x="73.20" y="342.65" width="3.00" height="9.51" fill="#c52032"/>
<rect x="83.20" y="342.65" width="1.50" height="9.51" fill="#c52032"/>
<rect x="86.60" y="342.65" width="1.20" height="9.51" fill="#c52032"/>
<rect x="95.10" y="342.65" width="1.10" height="9.51" fill="#c52032"/>
<rect x="98.10" y="342.65" width="1.50" height="9.51" fill="#c52032"/>
<rect x="101.20" y="342.65" width="1.50" height="9.51" fill="#c52032"/>
<rect x="106.20" y="342.65" width="1.50" height="9.51" fill="#c52032"/>
<rect x="113.10" y="342.65" width="1.50" height="9.51" fill="#c52032"/>
<rect x="116.20" y="342.65" width="4.60" height="9.51" fill="#c52032"/>
<rect x="126.50" y="342.65" width="2.30" height="9.51" fill="#c52032"/>
<rect x="139.20" y="342.65" width="5.00" height="9.51" fill="#c52032"/>
<rect x="149.20" y="342.65" width="6.90" height="9.51" fill="#c52032"/>
<rect x="181.00" y="342.65" width="1.50" height="9.51" fill="#c52032"/>
<rect x="192.20" y="342.65" width="4.60" height="9.51" fill="#c52032"/>
<rect x="202.20" y="342.65" width="1.50" height="9.51" fill="#c52032"/>
<rect x="245.20" y="342.65" width="1.50" height="9.51" fill="#c52032"/>
<rect x="250.50" y="342.65" width="4.20" height="9.51" fill="#c52032"/>
<rect x="260.10" y="342.65" width="6.50" height="9.51" fill="#c52032"/>
<rect x="275.10" y="342.65" width="4.60" height="9.51" fill="#c52032"/>
<rect x="323.50" y="342.65" width="11.00" height="9.51" fill="#c52032"/>
<rect x="386.00" y="342.65" width="1.50" height="9.51" fill="#c52032"/>
<rect x="394.10" y="342.65" width="3.10" height="9.51" fill="#c52032"/>
<rect x="399.00" y="342.65" width="1.50" height="9.51" fill="#c52032"/>
<rect x="407.10" y="342.65" width="5.00" height="9.51" fill="#c52032"/>
<rect x="417.10" y="342.65" width="1.50" height="9.51" fill="#c52032"/>
<rect x="427.10" y="342.65" width="1.50" height="9.51" fill="#c52032"/>
<rect x="435.50" y="342.65" width="3.30" height="9.51" fill="#c52032"/>
<rect x="456.90" y="342.65" width="1.80" height="9.51" fill="#c52032"/>
<rect x="463.50" y="342.65" width="1.40" height="9.51" fill="#c52032"/>
<rect x="470.20" y="342.65" width="1.30" height="9.51" fill="#c52032"/>
<rect x="235.40" y="343.65" width="1.00" height="7.51" fill="#cfcfcf"/>
<rect x="344.40" y="343.65" width="1.00" height="7.51" fill="#cfcfcf"/>
<rect x="453.80" y="343.65" width="1.00" height="7.51" fill="#cfcfcf"/>
<text x="0" y="0" font-size="8.268" text-anchor="end" font-weight="normal" fill="#231f20" transform="translate(56.30 350.05) scale(0.9434 1)" >TIM3</text>
<text x="0" y="0" font-size="8.268" text-anchor="start" font-weight="normal" fill="#231f20" transform="translate(484.00 350.90) scale(0.9434 1)" >29,9%</text>
<rect x="59.30" y="352.16" width="3.50" height="9.51" fill="#c52032"/>
<rect x="66.20" y="352.16" width="1.60" height="9.51" fill="#c52032"/>
<rect x="76.60" y="352.16" width="8.10" height="9.51" fill="#c52032"/>
<rect x="98.10" y="352.16" width="4.60" height="9.51" fill="#c52032"/>
<rect x="108.10" y="352.16" width="1.50" height="9.51" fill="#c52032"/>
<rect x="111.20" y="352.16" width="3.40" height="9.51" fill="#c52032"/>
<rect x="116.20" y="352.16" width="1.50" height="9.51" fill="#c52032"/>
<rect x="124.60" y="352.16" width="3.50" height="9.51" fill="#c52032"/>
<rect x="129.60" y="352.16" width="1.20" height="9.51" fill="#c52032"/>
<rect x="136.10" y="352.16" width="1.50" height="9.51" fill="#c52032"/>
<rect x="144.20" y="352.16" width="1.50" height="9.51" fill="#c52032"/>
<rect x="149.20" y="352.16" width="1.50" height="9.51" fill="#c52032"/>
<rect x="156.10" y="352.16" width="9.60" height="9.51" fill="#c52032"/>
<rect x="181.00" y="352.16" width="6.20" height="9.51" fill="#c52032"/>
<rect x="202.20" y="352.16" width="1.50" height="9.51" fill="#c52032"/>
<rect x="207.20" y="352.16" width="1.50" height="9.51" fill="#c52032"/>
<rect x="215.20" y="352.16" width="5.30" height="9.51" fill="#c52032"/>
<rect x="250.10" y="352.16" width="1.50" height="9.51" fill="#c52032"/>
<rect x="260.10" y="352.16" width="1.50" height="9.51" fill="#c52032"/>
<rect x="280.10" y="352.16" width="2.70" height="9.51" fill="#c52032"/>
<rect x="291.50" y="352.16" width="1.20" height="9.51" fill="#c52032"/>
<rect x="310.00" y="352.16" width="1.20" height="9.51" fill="#c52032"/>
<rect x="410.50" y="352.16" width="1.60" height="9.51" fill="#c52032"/>
<rect x="417.10" y="352.16" width="1.50" height="9.51" fill="#c52032"/>
<rect x="434.00" y="352.16" width="1.20" height="9.51" fill="#c52032"/>
<rect x="456.90" y="352.16" width="1.80" height="9.51" fill="#c52032"/>
<rect x="462.20" y="352.16" width="2.70" height="9.51" fill="#c52032"/>
<rect x="470.20" y="352.16" width="1.30" height="9.51" fill="#c52032"/>
<rect x="329.80" y="353.16" width="1.00" height="7.51" fill="#cfcfcf"/>
<rect x="346.30" y="353.16" width="1.00" height="7.51" fill="#cfcfcf"/>
<rect x="437.30" y="353.16" width="1.00" height="7.51" fill="#cfcfcf"/>
<text x="0" y="0" font-size="8.268" text-anchor="end" font-weight="normal" fill="#231f20" transform="translate(56.30 359.56) scale(0.9434 1)" >FLT3</text>
<text x="0" y="0" font-size="8.268" text-anchor="start" font-weight="normal" fill="#231f20" transform="translate(484.00 360.20) scale(0.9434 1)" >24,9%</text>
<line x1="58.6" y1="304.61" x2="481.6" y2="304.61" stroke="#1e1e1e" stroke-width="1.0"/>
<line x1="58.6" y1="314.12" x2="481.6" y2="314.12" stroke="#1e1e1e" stroke-width="1.0"/>
<line x1="58.6" y1="323.63" x2="481.6" y2="323.63" stroke="#1e1e1e" stroke-width="1.0"/>
<line x1="58.6" y1="333.14" x2="481.6" y2="333.14" stroke="#1e1e1e" stroke-width="1.0"/>
<line x1="58.6" y1="342.65" x2="481.6" y2="342.65" stroke="#1e1e1e" stroke-width="1.0"/>
<line x1="58.6" y1="352.16" x2="481.6" y2="352.16" stroke="#1e1e1e" stroke-width="1.0"/>
<rect x="58.6" y="295.1" width="423.00" height="66.57" fill="none" stroke="#2a2a2a" stroke-width="1.1"/>
<text x="0" y="0" font-size="9.720" text-anchor="middle" font-weight="normal" fill="#231f20" transform="translate(230.00 291.60) scale(0.9259 1)" >AML</text>
<text x="0" y="0" font-size="9.720" text-anchor="middle" font-weight="normal" fill="#231f20" transform="translate(423.00 291.60) scale(0.9259 1)" >sAML</text>
<text x="0" y="0" font-size="9.720" text-anchor="middle" font-weight="normal" fill="#231f20" transform="translate(471.50 291.60) scale(0.9259 1)" >tAML</text>
<text x="19.60" y="290.30" font-size="10.5" text-anchor="start" font-weight="bold" fill="#231f20" >B</text>
<text x="13.30" y="379.20" font-size="10.5" text-anchor="start" font-weight="bold" fill="#231f20" >C</text>
<line x1="52.90" y1="379.6" x2="52.90" y2="493.2" stroke="#2b2b2b" stroke-width="1"/>
<line x1="52.40" y1="493.1" x2="233.50" y2="493.1" stroke="#1a1a1a" stroke-width="1.3"/>
<line x1="49.30" y1="380.00" x2="52.90" y2="380.00" stroke="#2b2b2b" stroke-width="0.8"/>
<text x="46.10" y="382.50" font-size="7.2" text-anchor="end" font-weight="normal" fill="#231f20" >100</text>
<line x1="49.30" y1="396.10" x2="52.90" y2="396.10" stroke="#2b2b2b" stroke-width="0.8"/>
<text x="46.10" y="398.60" font-size="7.2" text-anchor="end" font-weight="normal" fill="#231f20" >75</text>
<line x1="49.30" y1="412.30" x2="52.90" y2="412.30" stroke="#2b2b2b" stroke-width="0.8"/>
<text x="46.10" y="414.80" font-size="7.2" text-anchor="end" font-weight="normal" fill="#231f20" >50</text>
<line x1="49.30" y1="428.30" x2="52.90" y2="428.30" stroke="#2b2b2b" stroke-width="0.8"/>
<text x="46.10" y="430.80" font-size="7.2" text-anchor="end" font-weight="normal" fill="#231f20" >25</text>
<line x1="49.30" y1="444.40" x2="52.90" y2="444.40" stroke="#2b2b2b" stroke-width="0.8"/>
<text x="46.10" y="446.90" font-size="7.2" text-anchor="end" font-weight="normal" fill="#231f20" >25</text>
<line x1="49.30" y1="460.60" x2="52.90" y2="460.60" stroke="#2b2b2b" stroke-width="0.8"/>
<text x="46.10" y="463.10" font-size="7.2" text-anchor="end" font-weight="normal" fill="#231f20" >50</text>
<line x1="49.30" y1="476.70" x2="52.90" y2="476.70" stroke="#2b2b2b" stroke-width="0.8"/>
<text x="46.10" y="479.20" font-size="7.2" text-anchor="end" font-weight="normal" fill="#231f20" >75</text>
<line x1="49.30" y1="492.60" x2="52.90" y2="492.60" stroke="#2b2b2b" stroke-width="0.8"/>
<text x="46.10" y="495.10" font-size="7.2" text-anchor="end" font-weight="normal" fill="#231f20" >100</text>
<text x="0" y="0" font-size="8.4" text-anchor="middle" fill="#231f20" stroke="#231f20" stroke-width="0.18" transform="translate(26.30 433.6) rotate(-90) scale(0.77 1)">Blasts (%)</text>
<text x="274.20" y="379.20" font-size="10.5" text-anchor="start" font-weight="bold" fill="#231f20" >D</text>
<line x1="314.40" y1="379.6" x2="314.40" y2="493.2" stroke="#2b2b2b" stroke-width="1"/>
<line x1="313.90" y1="493.1" x2="495.00" y2="493.1" stroke="#1a1a1a" stroke-width="1.3"/>
<line x1="310.80" y1="380.00" x2="314.40" y2="380.00" stroke="#2b2b2b" stroke-width="0.8"/>
<text x="307.60" y="382.50" font-size="7.2" text-anchor="end" font-weight="normal" fill="#231f20" >100</text>
<line x1="310.80" y1="396.10" x2="314.40" y2="396.10" stroke="#2b2b2b" stroke-width="0.8"/>
<text x="307.60" y="398.60" font-size="7.2" text-anchor="end" font-weight="normal" fill="#231f20" >75</text>
<line x1="310.80" y1="412.30" x2="314.40" y2="412.30" stroke="#2b2b2b" stroke-width="0.8"/>
<text x="307.60" y="414.80" font-size="7.2" text-anchor="end" font-weight="normal" fill="#231f20" >50</text>
<line x1="310.80" y1="428.30" x2="314.40" y2="428.30" stroke="#2b2b2b" stroke-width="0.8"/>
<text x="307.60" y="430.80" font-size="7.2" text-anchor="end" font-weight="normal" fill="#231f20" >25</text>
<line x1="310.80" y1="444.40" x2="314.40" y2="444.40" stroke="#2b2b2b" stroke-width="0.8"/>
<text x="307.60" y="446.90" font-size="7.2" text-anchor="end" font-weight="normal" fill="#231f20" >25</text>
<line x1="310.80" y1="460.60" x2="314.40" y2="460.60" stroke="#2b2b2b" stroke-width="0.8"/>
<text x="307.60" y="463.10" font-size="7.2" text-anchor="end" font-weight="normal" fill="#231f20" >50</text>
<line x1="310.80" y1="476.70" x2="314.40" y2="476.70" stroke="#2b2b2b" stroke-width="0.8"/>
<text x="307.60" y="479.20" font-size="7.2" text-anchor="end" font-weight="normal" fill="#231f20" >75</text>
<line x1="310.80" y1="492.60" x2="314.40" y2="492.60" stroke="#2b2b2b" stroke-width="0.8"/>
<text x="307.60" y="495.10" font-size="7.2" text-anchor="end" font-weight="normal" fill="#231f20" >100</text>
<text x="0" y="0" font-size="8.4" text-anchor="middle" fill="#231f20" stroke="#231f20" stroke-width="0.18" transform="translate(287.20 433.6) rotate(-90) scale(0.77 1)">Blasts (%)</text>
<path d="M53.80,436.70 C56.37,436.12 64.70,434.58 69.20,433.20 C73.70,431.82 76.95,430.65 80.80,428.40 C84.65,426.15 89.10,422.90 92.30,419.70 C95.50,416.50 97.43,413.37 100.00,409.20 C102.57,405.03 105.13,398.55 107.70,394.70 C110.27,390.85 113.10,387.85 115.40,386.10 C117.70,384.35 119.27,384.05 121.50,384.20 C123.73,384.35 125.97,384.62 128.80,387.00 C131.63,389.38 135.35,394.33 138.50,398.50 C141.65,402.67 144.88,408.30 147.70,412.00 C150.52,415.70 152.52,417.82 155.40,420.70 C158.28,423.58 161.80,427.05 165.00,429.30 C168.20,431.55 171.07,433.07 174.60,434.20 C178.13,435.33 182.35,436.10 186.20,436.10 C190.05,436.10 193.22,435.48 197.70,434.20 C202.18,432.92 207.65,430.75 213.10,428.40 C218.55,426.05 227.52,421.48 230.40,420.10 L230.4,454.5 C227.52,452.75 218.55,446.67 213.10,444.00 C207.65,441.33 202.18,439.63 197.70,438.50 C193.22,437.37 190.05,437.00 186.20,437.20 C182.35,437.40 178.13,438.42 174.60,439.70 C171.07,440.98 168.37,442.58 165.00,444.90 C161.63,447.22 157.28,450.87 154.40,453.60 C151.52,456.33 150.35,457.93 147.70,461.30 C145.05,464.67 141.65,469.48 138.50,473.80 C135.35,478.12 131.63,484.55 128.80,487.20 C125.97,489.85 123.73,489.60 121.50,489.70 C119.27,489.80 117.70,489.33 115.40,487.80 C113.10,486.27 110.27,483.97 107.70,480.50 C105.13,477.03 102.57,471.00 100.00,467.00 C97.43,463.00 95.50,460.02 92.30,456.50 C89.10,452.98 84.65,448.57 80.80,445.90 C76.95,443.23 73.70,441.95 69.20,440.50 C64.70,439.05 56.37,437.75 53.80,437.20 Z" fill="#dfdfe1" stroke="none"/>
<line x1="121.5" y1="383.9" x2="121.5" y2="489" stroke="#7a7a7a" stroke-width="0.9"/>
<path d="M53.80,436.70 C56.37,436.12 64.70,434.58 69.20,433.20 C73.70,431.82 76.95,430.65 80.80,428.40 C84.65,426.15 89.10,422.90 92.30,419.70 C95.50,416.50 97.43,413.37 100.00,409.20 C102.57,405.03 105.13,398.55 107.70,394.70 C110.27,390.85 113.10,387.85 115.40,386.10 C117.70,384.35 119.27,384.05 121.50,384.20 C123.73,384.35 125.97,384.62 128.80,387.00 C131.63,389.38 135.35,394.33 138.50,398.50 C141.65,402.67 144.88,408.30 147.70,412.00 C150.52,415.70 152.52,417.82 155.40,420.70 C158.28,423.58 161.80,427.05 165.00,429.30 C168.20,431.55 171.07,433.07 174.60,434.20 C178.13,435.33 182.35,436.10 186.20,436.10 C190.05,436.10 193.22,435.48 197.70,434.20 C202.18,432.92 207.65,430.75 213.10,428.40 C218.55,426.05 227.52,421.48 230.40,420.10" fill="none" stroke="#c52032" stroke-width="1.2"/>
<path d="M53.80,437.20 C56.37,437.75 64.70,439.05 69.20,440.50 C73.70,441.95 76.95,443.23 80.80,445.90 C84.65,448.57 89.10,452.98 92.30,456.50 C95.50,460.02 97.43,463.00 100.00,467.00 C102.57,471.00 105.13,477.03 107.70,480.50 C110.27,483.97 113.10,486.27 115.40,487.80 C117.70,489.33 119.27,489.80 121.50,489.70 C123.73,489.60 125.97,489.85 128.80,487.20 C131.63,484.55 135.35,478.12 138.50,473.80 C141.65,469.48 145.05,464.67 147.70,461.30 C150.35,457.93 151.52,456.33 154.40,453.60 C157.28,450.87 161.63,447.22 165.00,444.90 C168.37,442.58 171.07,440.98 174.60,439.70 C178.13,438.42 182.35,437.40 186.20,437.20 C190.05,437.00 193.22,437.37 197.70,438.50 C202.18,439.63 207.65,441.33 213.10,444.00 C218.55,446.67 227.52,452.75 230.40,454.50" fill="none" stroke="#c52032" stroke-width="1.2"/>
<line x1="230.4" y1="420.1" x2="230.4" y2="454.5" stroke="#c52032" stroke-width="1.2"/>
<line x1="153.8" y1="383.7" x2="153.8" y2="489" stroke="#8a8a8a" stroke-width="0.9" stroke-dasharray="10.5 9.6"/>
<line x1="186.3" y1="383.7" x2="186.3" y2="489" stroke="#8a8a8a" stroke-width="0.9" stroke-dasharray="10.5 9.6"/>
<text x="0" y="0" font-size="8.250" text-anchor="middle" font-weight="normal" fill="#231f20" transform="translate(121.80 504.50) scale(0.9091 1)" >Diagnosis</text>
<text x="0" y="0" font-size="8.250" text-anchor="middle" font-weight="normal" fill="#231f20" transform="translate(153.70 504.50) scale(0.9091 1)" >Cycle 1</text>
<text x="0" y="0" font-size="8.250" text-anchor="middle" font-weight="normal" fill="#231f20" transform="translate(186.40 504.50) scale(0.9091 1)" >Cycle 2</text>
<text x="0" y="0" font-size="8.250" text-anchor="middle" font-weight="normal" fill="#231f20" transform="translate(220.80 504.50) scale(0.9091 1)" >CR</text>
<path d="M314.20,436.50 C316.70,435.77 324.45,433.70 329.20,432.10 C333.95,430.50 338.53,429.68 342.70,426.90 C346.87,424.12 351.32,419.25 354.20,415.40 C357.08,411.55 358.07,408.28 360.00,403.80 C361.93,399.32 363.72,391.85 365.80,388.50 C367.88,385.15 370.42,384.03 372.50,383.70 C374.58,383.37 376.70,384.12 378.30,386.50 C379.90,388.88 380.98,393.50 382.10,398.00 C383.22,402.50 383.88,409.32 385.00,413.50 C386.12,417.68 386.55,420.38 388.80,423.10 C391.05,425.82 394.97,428.17 398.50,429.80 C402.03,431.43 404.95,432.05 410.00,432.90 C415.05,433.75 422.13,434.53 428.80,434.90 C435.47,435.27 439.73,435.07 450.00,435.10 C460.27,435.13 483.67,435.10 490.40,435.10 Q491.6,435.1 491.6,436.6 Q491.6,438.2 490.4,438.2 C483.67,438.20 460.27,438.18 450.00,438.20 C439.73,438.22 435.47,438.07 428.80,438.30 C422.13,438.53 415.38,438.58 410.00,439.60 C404.62,440.62 400.35,442.47 396.50,444.40 C392.65,446.33 388.98,448.80 386.90,451.20 C384.82,453.60 384.95,454.97 384.00,458.80 C383.05,462.63 382.32,469.55 381.20,474.20 C380.08,478.85 378.75,484.07 377.30,486.70 C375.85,489.33 374.27,490.32 372.50,490.00 C370.73,489.68 368.62,488.07 366.70,484.80 C364.78,481.53 363.08,474.88 361.00,470.40 C358.92,465.92 357.25,461.75 354.20,457.90 C351.15,454.05 346.87,450.18 342.70,447.30 C338.53,444.42 333.95,442.37 329.20,440.60 C324.45,438.83 316.70,437.35 314.20,436.70 Z" fill="#dfdfe1" stroke="none"/>
<line x1="372.5" y1="383.9" x2="372.5" y2="489.8" stroke="#7a7a7a" stroke-width="0.9"/>
<path d="M314.20,436.50 C316.70,435.77 324.45,433.70 329.20,432.10 C333.95,430.50 338.53,429.68 342.70,426.90 C346.87,424.12 351.32,419.25 354.20,415.40 C357.08,411.55 358.07,408.28 360.00,403.80 C361.93,399.32 363.72,391.85 365.80,388.50 C367.88,385.15 370.42,384.03 372.50,383.70 C374.58,383.37 376.70,384.12 378.30,386.50 C379.90,388.88 380.98,393.50 382.10,398.00 C383.22,402.50 383.88,409.32 385.00,413.50 C386.12,417.68 386.55,420.38 388.80,423.10 C391.05,425.82 394.97,428.17 398.50,429.80 C402.03,431.43 404.95,432.05 410.00,432.90 C415.05,433.75 422.13,434.53 428.80,434.90 C435.47,435.27 439.73,435.07 450.00,435.10 C460.27,435.13 483.67,435.10 490.40,435.10 Q491.6,435.1 491.6,436.6 Q491.6,438.2 490.4,438.2 C483.67,438.20 460.27,438.18 450.00,438.20 C439.73,438.22 435.47,438.07 428.80,438.30 C422.13,438.53 415.38,438.58 410.00,439.60 C404.62,440.62 400.35,442.47 396.50,444.40 C392.65,446.33 388.98,448.80 386.90,451.20 C384.82,453.60 384.95,454.97 384.00,458.80 C383.05,462.63 382.32,469.55 381.20,474.20 C380.08,478.85 378.75,484.07 377.30,486.70 C375.85,489.33 374.27,490.32 372.50,490.00 C370.73,489.68 368.62,488.07 366.70,484.80 C364.78,481.53 363.08,474.88 361.00,470.40 C358.92,465.92 357.25,461.75 354.20,457.90 C351.15,454.05 346.87,450.18 342.70,447.30 C338.53,444.42 333.95,442.37 329.20,440.60 C324.45,438.83 316.70,437.35 314.20,436.70 Z" fill="none" stroke="#c52032" stroke-width="1.2"/>
<line x1="411.9" y1="383.7" x2="411.9" y2="489" stroke="#8a8a8a" stroke-width="0.9" stroke-dasharray="10.5 9.6"/>
<line x1="451.3" y1="383.7" x2="451.3" y2="489" stroke="#8a8a8a" stroke-width="0.9" stroke-dasharray="10.5 9.6"/>
<text x="0" y="0" font-size="8.250" text-anchor="middle" font-weight="normal" fill="#231f20" transform="translate(373.00 504.50) scale(0.9091 1)" >Diagnosis</text>
<text x="0" y="0" font-size="8.250" text-anchor="middle" font-weight="normal" fill="#231f20" transform="translate(411.80 504.50) scale(0.9091 1)" >Cycle 1</text>
<text x="0" y="0" font-size="8.250" text-anchor="middle" font-weight="normal" fill="#231f20" transform="translate(451.50 504.50) scale(0.9091 1)" >Cycle 2</text>
<text x="0" y="0" font-size="8.250" text-anchor="middle" font-weight="normal" fill="#231f20" transform="translate(484.30 504.50) scale(0.9091 1)" >CR</text>
<rect x="98.75" y="542.20" width="44.75" height="7.60" fill="#c52032"/>
<rect x="98.75" y="557.40" width="44.75" height="7.60" fill="#c52032"/>
<rect x="98.75" y="549.80" width="44.75" height="7.60" fill="#c52032"/>
<rect x="188.75" y="557.40" width="44.50" height="7.60" fill="#c52032"/>
<rect x="98.75" y="534.60" width="44.75" height="7.60" fill="#c52032"/>
<rect x="54.00" y="549.80" width="44.75" height="7.60" fill="#c52032"/>
<rect x="188.75" y="549.80" width="44.50" height="7.60" fill="#c52032"/>
<rect x="143.50" y="549.80" width="45.25" height="7.60" fill="#c52032"/>
<rect x="188.75" y="534.60" width="44.50" height="7.60" fill="#c52032"/>
<line x1="54" y1="534.6" x2="233.25" y2="534.6" stroke="#2b2b2b" stroke-width="0.9"/>
<line x1="54" y1="542.2" x2="233.25" y2="542.2" stroke="#2b2b2b" stroke-width="0.9"/>
<line x1="54" y1="549.8" x2="233.25" y2="549.8" stroke="#2b2b2b" stroke-width="0.9"/>
<line x1="54" y1="557.4" x2="233.25" y2="557.4" stroke="#2b2b2b" stroke-width="0.9"/>
<line x1="98.75" y1="527" x2="98.75" y2="565" stroke="#2b2b2b" stroke-width="0.9"/>
<line x1="143.5" y1="527" x2="143.5" y2="565" stroke="#2b2b2b" stroke-width="0.9"/>
<line x1="188.75" y1="527" x2="188.75" y2="565" stroke="#2b2b2b" stroke-width="0.9"/>
<rect x="54" y="527" width="179.25" height="38.00" fill="none" stroke="#2b2b2b" stroke-width="1"/>
<text x="0" y="0" font-size="8.085" text-anchor="end" font-weight="normal" fill="#231f20" transform="translate(52.60 533.40) scale(0.9524 1)" >CD82</text>
<text x="0" y="0" font-size="8.085" text-anchor="end" font-weight="normal" fill="#231f20" transform="translate(52.60 541.00) scale(0.9524 1)" >CD97</text>
<text x="0" y="0" font-size="8.085" text-anchor="end" font-weight="normal" fill="#231f20" transform="translate(52.60 548.60) scale(0.9524 1)" >FLT3</text>
<text x="0" y="0" font-size="8.085" text-anchor="end" font-weight="normal" fill="#231f20" transform="translate(52.60 556.20) scale(0.9524 1)" >IL1RAP</text>
<text x="0" y="0" font-size="8.085" text-anchor="end" font-weight="normal" fill="#231f20" transform="translate(52.60 563.80) scale(0.9524 1)" >TIM3</text>
<text x="166.12" y="533.20" font-size="6.4" text-anchor="middle" font-weight="normal" fill="#231f20" >ND</text>
<text x="166.12" y="540.80" font-size="6.4" text-anchor="middle" font-weight="normal" fill="#231f20" >ND</text>
<text x="166.12" y="548.40" font-size="6.4" text-anchor="middle" font-weight="normal" fill="#231f20" >ND</text>
<text x="166.12" y="563.60" font-size="6.4" text-anchor="middle" font-weight="normal" fill="#231f20" >ND</text>
<text x="0" y="0" font-size="9.460" text-anchor="middle" font-weight="normal" fill="#231f20" transform="translate(166.30 521.20) scale(0.9091 1)" >EF MRD-</text>
<rect x="53.70" y="580.6" width="42.10" height="46.9" rx="1" fill="none" stroke="#8a8a8a" stroke-width="0.9"/>
<text x="0" y="0" font-size="9.720" text-anchor="middle" font-weight="normal" fill="#231f20" transform="translate(74.75 576.60) scale(0.9259 1)" >Diagnosis</text>
<rect x="99.20" y="580.6" width="42.50" height="46.9" rx="1" fill="none" stroke="#8a8a8a" stroke-width="0.9"/>
<text x="0" y="0" font-size="9.720" text-anchor="middle" font-weight="normal" fill="#231f20" transform="translate(120.45 576.60) scale(0.9259 1)" >Cycle 1</text>
<rect x="145.10" y="580.6" width="42.60" height="46.9" rx="1" fill="none" stroke="#8a8a8a" stroke-width="0.9"/>
<text x="0" y="0" font-size="9.720" text-anchor="middle" font-weight="normal" fill="#231f20" transform="translate(166.40 576.60) scale(0.9259 1)" >Cycle 2</text>
<rect x="191.00" y="580.6" width="42.50" height="46.9" rx="1" fill="none" stroke="#8a8a8a" stroke-width="0.9"/>
<text x="0" y="0" font-size="9.720" text-anchor="middle" font-weight="normal" fill="#231f20" transform="translate(212.25 576.60) scale(0.9259 1)" >CR</text>
<line x1="53.70" y1="632.2" x2="231.50" y2="632.2" stroke="#2b2b2b" stroke-width="1.1"/>
<path d="M230.00,630.3 L233.80,632.2 L230.00,634.1 Z" fill="#2b2b2b"/>
<text x="0" y="0" font-size="6.6" text-anchor="middle" fill="#231f20" stroke="#231f20" stroke-width="0.18" transform="translate(142.2 641.6) scale(0.68 1)">IL1RAP</text>
<text x="0" y="0" font-size="8.6" text-anchor="middle" fill="#222" stroke="#222" stroke-width="0.22" transform="translate(23.90 579.8) rotate(-90) scale(0.76 1)">Marker positivity in CD34+ cells</text>
<rect x="315.00" y="557.40" width="45.00" height="7.60" fill="#c52032"/>
<rect x="315.00" y="549.80" width="45.00" height="7.60" fill="#c52032"/>
<line x1="315" y1="534.6" x2="494.5" y2="534.6" stroke="#2b2b2b" stroke-width="0.9"/>
<line x1="315" y1="542.2" x2="494.5" y2="542.2" stroke="#2b2b2b" stroke-width="0.9"/>
<line x1="315" y1="549.8" x2="494.5" y2="549.8" stroke="#2b2b2b" stroke-width="0.9"/>
<line x1="315" y1="557.4" x2="494.5" y2="557.4" stroke="#2b2b2b" stroke-width="0.9"/>
<line x1="360" y1="527" x2="360" y2="565" stroke="#2b2b2b" stroke-width="0.9"/>
<line x1="405" y1="527" x2="405" y2="565" stroke="#2b2b2b" stroke-width="0.9"/>
<line x1="450" y1="527" x2="450" y2="565" stroke="#2b2b2b" stroke-width="0.9"/>
<rect x="315" y="527" width="179.50" height="38.00" fill="none" stroke="#2b2b2b" stroke-width="1"/>
<text x="0" y="0" font-size="8.085" text-anchor="end" font-weight="normal" fill="#231f20" transform="translate(313.10 533.40) scale(0.9524 1)" >CD82</text>
<text x="0" y="0" font-size="8.085" text-anchor="end" font-weight="normal" fill="#231f20" transform="translate(313.10 541.00) scale(0.9524 1)" >CD97</text>
<text x="0" y="0" font-size="8.085" text-anchor="end" font-weight="normal" fill="#231f20" transform="translate(313.10 548.60) scale(0.9524 1)" >FLT3</text>
<text x="0" y="0" font-size="8.085" text-anchor="end" font-weight="normal" fill="#231f20" transform="translate(313.10 556.20) scale(0.9524 1)" >IL1RAP</text>
<text x="0" y="0" font-size="8.085" text-anchor="end" font-weight="normal" fill="#231f20" transform="translate(313.10 563.80) scale(0.9524 1)" >TIM3</text>
<text x="0" y="0" font-size="9.460" text-anchor="middle" font-weight="normal" fill="#231f20" transform="translate(427.00 521.20) scale(0.9091 1)" >EF MRD-</text>
<rect x="315.90" y="580.6" width="41.90" height="46.9" rx="1" fill="none" stroke="#8a8a8a" stroke-width="0.9"/>
<text x="0" y="0" font-size="8.100" text-anchor="middle" font-weight="normal" fill="#231f20" transform="translate(336.85 576.60) scale(0.9259 1)" >Diagnosis</text>
<rect x="361.20" y="580.6" width="41.70" height="46.9" rx="1" fill="none" stroke="#8a8a8a" stroke-width="0.9"/>
<text x="0" y="0" font-size="8.100" text-anchor="middle" font-weight="normal" fill="#231f20" transform="translate(382.05 576.60) scale(0.9259 1)" >Cycle 1</text>
<rect x="406.60" y="580.6" width="43.00" height="46.9" rx="1" fill="none" stroke="#8a8a8a" stroke-width="0.9"/>
<text x="0" y="0" font-size="8.100" text-anchor="middle" font-weight="normal" fill="#231f20" transform="translate(428.10 576.60) scale(0.9259 1)" >Cycle 2</text>
<rect x="452.20" y="580.6" width="42.50" height="46.9" rx="1" fill="none" stroke="#8a8a8a" stroke-width="0.9"/>
<text x="0" y="0" font-size="8.100" text-anchor="middle" font-weight="normal" fill="#231f20" transform="translate(473.45 576.60) scale(0.9259 1)" >CR</text>
<line x1="315.90" y1="632.2" x2="492.70" y2="632.2" stroke="#2b2b2b" stroke-width="1.1"/>
<path d="M491.20,630.3 L495.00,632.2 L491.20,634.1 Z" fill="#2b2b2b"/>
<text x="0" y="0" font-size="6.6" text-anchor="middle" fill="#231f20" stroke="#231f20" stroke-width="0.18" transform="translate(403.1 641.6) scale(0.68 1)">IL1RAP</text>
<text x="0" y="0" font-size="8.6" text-anchor="middle" fill="#222" stroke="#222" stroke-width="0.22" transform="translate(283.10 579.8) rotate(-90) scale(0.76 1)">Marker positivity in CD34+ cells</text>
<path d="M61.60,627.30 C61.82,623.58 62.53,610.95 62.90,605.00 C63.27,599.05 63.47,595.27 63.80,591.60 C64.13,587.93 64.52,583.77 64.90,583.00 C65.28,582.23 65.67,584.07 66.10,587.00 C66.53,589.93 67.05,596.37 67.50,600.60 C67.95,604.83 68.28,609.23 68.80,612.40 C69.32,615.57 69.92,617.57 70.60,619.60 C71.28,621.63 72.07,623.40 72.90,624.60 C73.73,625.80 74.92,626.35 75.60,626.80 C76.28,627.25 76.77,627.22 77.00,627.30 Z" fill="#e31b37" stroke="#111" stroke-width="1.05" stroke-linejoin="round"/>
<path d="M61.80,627.30 L62.60,610.00 L63.30,604.00 L64.20,612.00 L65.00,621.00 L65.60,627.30 Z" fill="#1f5fa0" stroke="#111" stroke-width="0.3" stroke-linejoin="round"/>
<path d="M106.90,627.30 C107.13,623.60 107.92,611.05 108.30,605.10 C108.68,599.15 108.82,595.25 109.20,591.60 C109.58,587.95 110.22,583.50 110.60,583.20 C110.98,582.90 111.20,586.90 111.50,589.80 C111.80,592.70 112.03,596.83 112.40,600.60 C112.77,604.37 113.18,609.08 113.70,612.40 C114.22,615.72 114.82,618.32 115.50,620.50 C116.18,622.68 116.82,624.40 117.80,625.50 C118.78,626.60 120.20,626.80 121.40,627.10 C122.60,627.40 124.40,627.27 125.00,627.30 Z" fill="#e31b37" stroke="#111" stroke-width="1.05" stroke-linejoin="round"/>
<path d="M107.20,627.30 L108.20,610.00 L108.90,605.00 L109.80,612.00 L110.60,627.30 Z" fill="#1f5fa0" stroke="#111" stroke-width="0.3" stroke-linejoin="round"/>
<path d="M153.60,627.30 L154.60,600.00 L155.40,587.50 L156.20,600.00 L156.90,614.20 L158.70,619.60 L161.00,621.00 L163.70,624.10 L166.90,627.30 Z" fill="#e31b37" stroke="#111" stroke-width="1.05" stroke-linejoin="round"/>
<path d="M153.60,627.30 L154.60,600.00 L155.40,587.50 L156.20,600.00 L156.90,614.20 L157.10,627.30 Z" fill="#111" stroke="#111" stroke-width="0.3" stroke-linejoin="round"/>
<path d="M154.50,627.30 L155.20,612.00 L155.90,609.60 L156.60,627.30 Z" fill="#1f5fa0" stroke="#111" stroke-width="0.2" stroke-linejoin="round"/>
<path d="M199.80,627.30 C199.90,622.75 200.23,606.55 200.40,600.00 C200.57,593.45 200.53,590.83 200.80,588.00 C201.07,585.17 201.57,582.40 202.00,583.00 C202.43,583.60 202.95,587.92 203.40,591.60 C203.85,595.28 204.25,601.03 204.70,605.10 C205.15,609.17 205.57,612.98 206.10,616.00 C206.63,619.02 207.30,621.32 207.90,623.20 C208.50,625.08 209.40,626.62 209.70,627.30 Z" fill="#e31b37" stroke="#111" stroke-width="1.05" stroke-linejoin="round"/>
<path d="M199.90,627.30 L200.70,615.00 L201.40,612.00 L202.60,627.30 Z" fill="#1f5fa0" stroke="#111" stroke-width="0.3" stroke-linejoin="round"/>
<line x1="157.6" y1="580.8" x2="157.6" y2="610" stroke="#9a9a9a" stroke-width="0.6" stroke-dasharray="1.8 1.5"/>
<path d="M322.00,627.30 C322.15,625.12 322.57,619.08 322.90,614.20 C323.23,609.32 323.68,601.92 324.00,598.00 C324.32,594.08 324.53,590.70 324.80,590.70 C325.07,590.70 325.30,594.08 325.60,598.00 C325.90,601.92 326.22,609.32 326.60,614.20 C326.98,619.08 327.68,625.12 327.90,627.30 Z" fill="#1f5fa0" stroke="#111" stroke-width="1.05" stroke-linejoin="round"/>
<path d="M327.50,627.30 C327.87,623.60 329.05,611.32 329.70,605.10 C330.35,598.88 330.95,593.47 331.40,590.00 C331.85,586.53 332.03,583.97 332.40,584.30 C332.77,584.63 333.07,588.53 333.60,592.00 C334.13,595.47 334.88,600.65 335.60,605.10 C336.32,609.55 337.15,615.00 337.90,618.70 C338.65,622.40 339.73,625.87 340.10,627.30 Z" fill="#e31b37" stroke="#111" stroke-width="1.05" stroke-linejoin="round"/>
<path d="M367.10,627.30 C367.33,625.12 368.12,618.65 368.50,614.20 C368.88,609.75 369.10,604.52 369.40,600.60 C369.70,596.68 369.92,589.95 370.30,590.70 C370.68,591.45 371.25,600.43 371.70,605.10 C372.15,609.77 372.48,615.38 373.00,618.70 C373.52,622.02 373.82,623.57 374.80,625.00 C375.78,626.43 378.22,626.92 378.90,627.30 Z" fill="#1f5fa0" stroke="#111" stroke-width="1.05" stroke-linejoin="round"/>
<path d="M412.10,627.30 C412.33,625.12 413.10,619.08 413.50,614.20 C413.90,609.32 414.20,601.92 414.50,598.00 C414.80,594.08 415.00,590.37 415.30,590.70 C415.60,591.03 415.92,596.08 416.30,600.00 C416.68,603.92 417.02,609.65 417.60,614.20 C418.18,618.75 419.43,625.12 419.80,627.30 Z" fill="#1f5fa0" stroke="#111" stroke-width="1.05" stroke-linejoin="round"/>
<path d="M455.40,627.30 C455.75,626.42 456.85,624.88 457.50,622.00 C458.15,619.12 458.82,614.33 459.30,610.00 C459.78,605.67 460.07,599.22 460.40,596.00 C460.73,592.78 460.97,590.03 461.30,590.70 C461.63,591.37 462.03,596.45 462.40,600.00 C462.77,603.55 463.07,608.83 463.50,612.00 C463.93,615.17 464.37,616.92 465.00,619.00 C465.63,621.08 466.57,623.12 467.30,624.50 C468.03,625.88 469.05,626.83 469.40,627.30 Z" fill="#e31b37" stroke="#111" stroke-width="1.05" stroke-linejoin="round"/>
<path d="M457.60,627.30 C457.92,624.75 459.03,616.55 459.50,612.00 C459.97,607.45 460.10,603.50 460.40,600.00 C460.70,596.50 460.98,591.00 461.30,591.00 C461.62,591.00 461.95,596.50 462.30,600.00 C462.65,603.50 463.05,607.45 463.40,612.00 C463.75,616.55 464.23,624.75 464.40,627.30 Z" fill="#1f5fa0" stroke="#111" stroke-width="0.5" stroke-linejoin="round"/>
<line x1="329.5" y1="581" x2="329.5" y2="622" stroke="#777" stroke-width="0.6" stroke-dasharray="2.2 1.6"/>
<line x1="373.2" y1="581" x2="373.2" y2="622" stroke="#777" stroke-width="0.6" stroke-dasharray="2.2 1.6"/>
<line x1="419.6" y1="581" x2="419.6" y2="622" stroke="#777" stroke-width="0.6" stroke-dasharray="2.2 1.6"/>
<line x1="464.2" y1="584.3" x2="464.2" y2="622" stroke="#777" stroke-width="0.6" stroke-dasharray="2.2 1.6"/>
<rect x="0" y="0" width="1.4" height="648" fill="#231f20"/>
<rect x="0" y="0" width="520" height="1.1" fill="#231f20"/>
<rect x="518.8" y="0" width="1.2" height="648" fill="#231f20"/>
<rect x="0" y="646.7" width="520" height="1.3" fill="#231f20"/>
</svg></body></html>
